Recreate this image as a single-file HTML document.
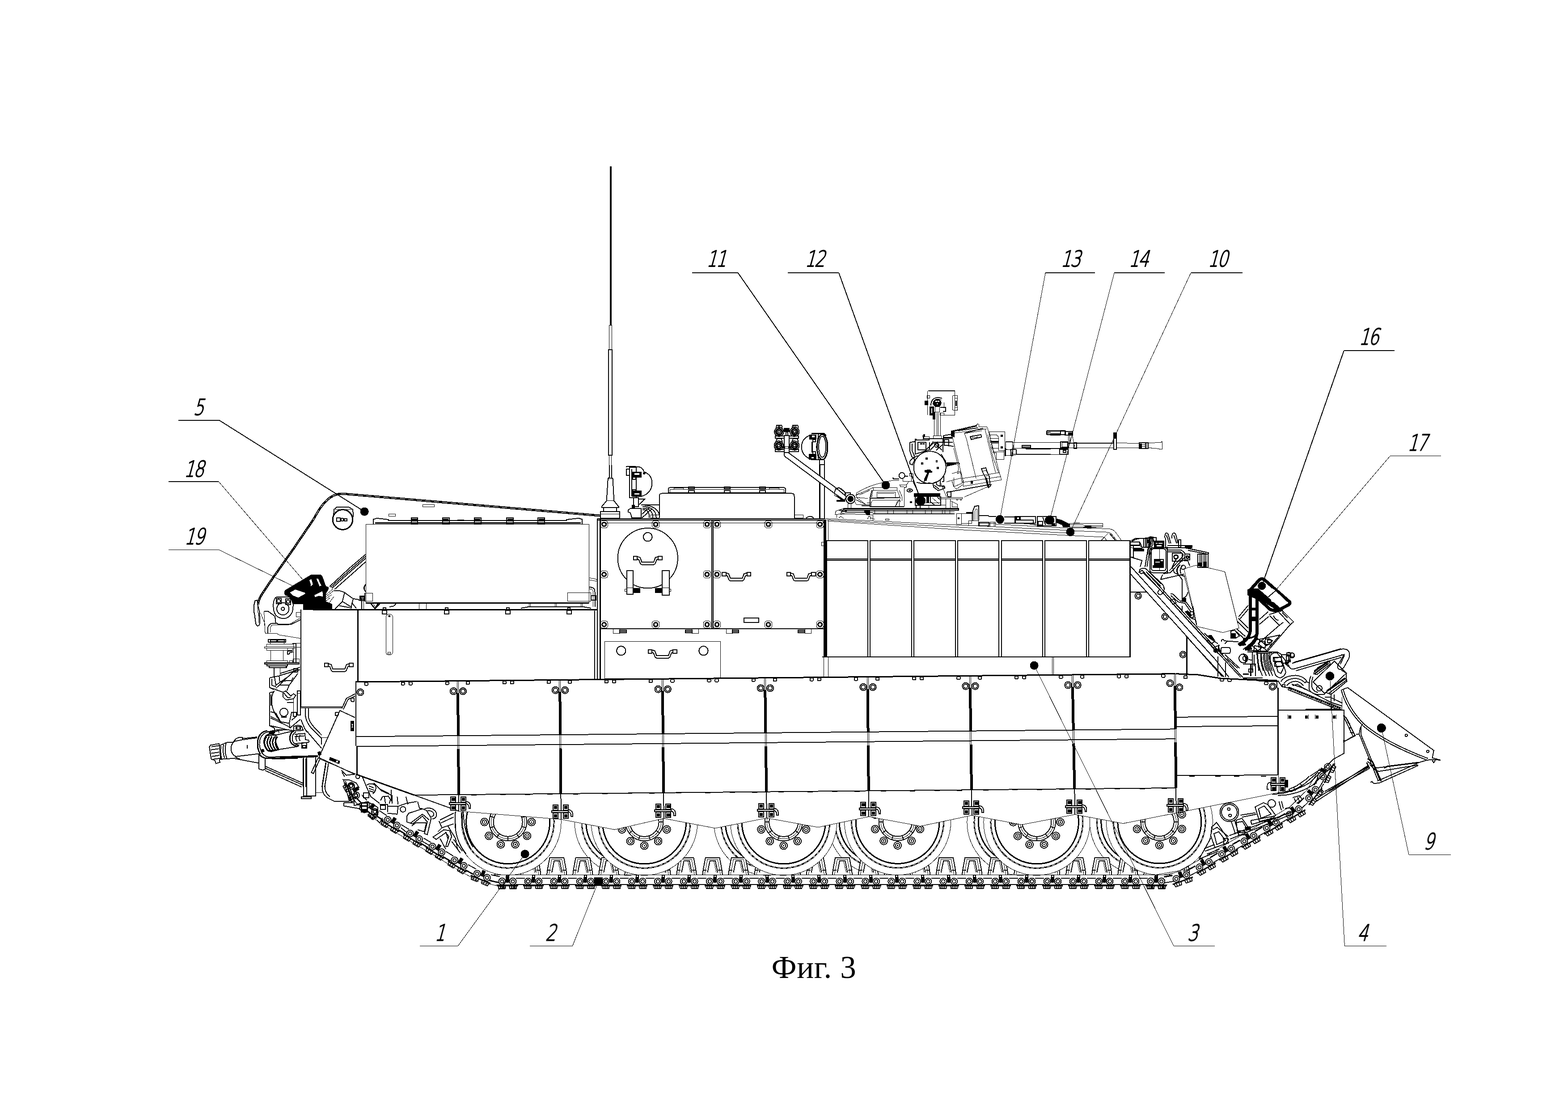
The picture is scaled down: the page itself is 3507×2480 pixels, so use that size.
<!DOCTYPE html>
<html lang="ru">
<head>
<meta charset="utf-8">
<title>Фиг. 3</title>
<style>
html,body{margin:0;padding:0;background:#fff;}
body{width:3507px;height:2480px;overflow:hidden;position:relative;}
svg{position:absolute;left:0;top:0;display:block;}
.g{shape-rendering:crispEdges;fill:none;stroke:#000;stroke-width:1;stroke-linejoin:miter;stroke-linecap:butt;}
.num{font-family:"DejaVu Sans","Liberation Sans",sans-serif;font-weight:200;font-size:49.5px;letter-spacing:-3px;fill:#000;stroke:#000;stroke-width:1.6px;vector-effect:non-scaling-stroke;stroke-linejoin:round;}
.cap{font-family:"Liberation Serif","DejaVu Serif",serif;font-size:71px;fill:#000;stroke:none;}
</style>
</head>
<body>
<svg width="3507" height="2480" viewBox="0 0 3507 2480">
<rect x="0" y="0" width="3507" height="2480" fill="#fff" stroke="none"/>
<g class="g">
<circle cx="1404.2" cy="1838.4" r="119"/>
<circle cx="1404.2" cy="1838.4" r="103" stroke-width="3"/>
<circle cx="1404.2" cy="1838.4" r="103" stroke="#fff" stroke-width="1" stroke-dasharray="7 5"/>
<circle cx="1404.2" cy="1838.4" r="93.5" stroke-width="3"/>
<circle cx="1715.7" cy="1838.4" r="119"/>
<circle cx="1715.7" cy="1838.4" r="103" stroke-width="3"/>
<circle cx="1715.7" cy="1838.4" r="103" stroke="#fff" stroke-width="1" stroke-dasharray="7 5"/>
<circle cx="1715.7" cy="1838.4" r="93.5" stroke-width="3"/>
<circle cx="1970.6" cy="1837.8" r="119"/>
<circle cx="1970.6" cy="1837.8" r="103" stroke-width="3"/>
<circle cx="1970.6" cy="1837.8" r="103" stroke="#fff" stroke-width="1" stroke-dasharray="7 5"/>
<circle cx="1970.6" cy="1837.8" r="93.5" stroke-width="3"/>
<circle cx="2281.9" cy="1838.4" r="119"/>
<circle cx="2281.9" cy="1838.4" r="103" stroke-width="3"/>
<circle cx="2281.9" cy="1838.4" r="103" stroke="#fff" stroke-width="1" stroke-dasharray="7 5"/>
<circle cx="2281.9" cy="1838.4" r="93.5" stroke-width="3"/>
<circle cx="2556.3" cy="1837.5" r="119"/>
<circle cx="2556.3" cy="1837.5" r="103" stroke-width="3"/>
<circle cx="2556.3" cy="1837.5" r="103" stroke="#fff" stroke-width="1" stroke-dasharray="7 5"/>
<circle cx="2556.3" cy="1837.5" r="93.5" stroke-width="3"/>
<path d="M1107 1956.4 1108.5 1944.4 1113.5 1917.9 1145 1917.9 1150 1944.4 1151.5 1956.4" stroke-width="2" fill="#fff"/>
<path d="M1111.5 1956.4 1118 1921.4 1140.5 1921.4 1147 1956.4"/>
<path d="M1118 1951.4 1123.5 1924.9 1135.5 1924.9 1141 1951.4" stroke-width="2"/>
<path d="M1132 1924.9 1138 1951.4"/>
<path d="M1108.5 1946.4 1116 1946.4" stroke-width="2"/>
<path d="M1142 1946.4 1150 1946.4" stroke-width="2"/>
<path d="M1165 1956.4 1166.5 1944.4 1171.5 1917.9 1203 1917.9 1208 1944.4 1209.5 1956.4" stroke-width="2" fill="#fff"/>
<path d="M1169.5 1956.4 1176 1921.4 1198.5 1921.4 1205 1956.4"/>
<path d="M1176 1951.4 1181.5 1924.9 1193.5 1924.9 1199 1951.4" stroke-width="2"/>
<path d="M1190 1924.9 1196 1951.4"/>
<path d="M1166.5 1946.4 1174 1946.4" stroke-width="2"/>
<path d="M1200 1946.4 1208 1946.4" stroke-width="2"/>
<path d="M1223.1 1956.4 1224.6 1944.4 1229.6 1917.9 1261.1 1917.9 1266.1 1944.4 1267.6 1956.4" stroke-width="2" fill="#fff"/>
<path d="M1227.6 1956.4 1234.1 1921.4 1256.6 1921.4 1263.1 1956.4"/>
<path d="M1234.1 1951.4 1239.6 1924.9 1251.6 1924.9 1257.1 1951.4" stroke-width="2"/>
<path d="M1248.1 1924.9 1254.1 1951.4"/>
<path d="M1224.6 1946.4 1232.1 1946.4" stroke-width="2"/>
<path d="M1258.1 1946.4 1266.1 1946.4" stroke-width="2"/>
<path d="M1281.2 1956.4 1282.7 1944.4 1287.7 1917.9 1319.2 1917.9 1324.2 1944.4 1325.7 1956.4" stroke-width="2" fill="#fff"/>
<path d="M1285.7 1956.4 1292.2 1921.4 1314.7 1921.4 1321.2 1956.4"/>
<path d="M1292.2 1951.4 1297.7 1924.9 1309.7 1924.9 1315.2 1951.4" stroke-width="2"/>
<path d="M1306.2 1924.9 1312.2 1951.4"/>
<path d="M1282.7 1946.4 1290.2 1946.4" stroke-width="2"/>
<path d="M1316.2 1946.4 1324.2 1946.4" stroke-width="2"/>
<path d="M1339.2 1956.4 1340.7 1944.4 1345.7 1917.9 1377.2 1917.9 1382.2 1944.4 1383.7 1956.4" stroke-width="2" fill="#fff"/>
<path d="M1343.7 1956.4 1350.2 1921.4 1372.7 1921.4 1379.2 1956.4"/>
<path d="M1350.2 1951.4 1355.7 1924.9 1367.7 1924.9 1373.2 1951.4" stroke-width="2"/>
<path d="M1364.2 1924.9 1370.2 1951.4"/>
<path d="M1340.7 1946.4 1348.2 1946.4" stroke-width="2"/>
<path d="M1374.2 1946.4 1382.2 1946.4" stroke-width="2"/>
<path d="M1397.2 1956.4 1398.8 1944.4 1403.8 1917.9 1435.2 1917.9 1440.2 1944.4 1441.8 1956.4" stroke-width="2" fill="#fff"/>
<path d="M1401.8 1956.4 1408.2 1921.4 1430.8 1921.4 1437.2 1956.4"/>
<path d="M1408.2 1951.4 1413.8 1924.9 1425.8 1924.9 1431.2 1951.4" stroke-width="2"/>
<path d="M1422.2 1924.9 1428.2 1951.4"/>
<path d="M1398.8 1946.4 1406.2 1946.4" stroke-width="2"/>
<path d="M1432.2 1946.4 1440.2 1946.4" stroke-width="2"/>
<path d="M1455.3 1956.4 1456.8 1944.4 1461.8 1917.9 1493.3 1917.9 1498.3 1944.4 1499.8 1956.4" stroke-width="2" fill="#fff"/>
<path d="M1459.8 1956.4 1466.3 1921.4 1488.8 1921.4 1495.3 1956.4"/>
<path d="M1466.3 1951.4 1471.8 1924.9 1483.8 1924.9 1489.3 1951.4" stroke-width="2"/>
<path d="M1480.3 1924.9 1486.3 1951.4"/>
<path d="M1456.8 1946.4 1464.3 1946.4" stroke-width="2"/>
<path d="M1490.3 1946.4 1498.3 1946.4" stroke-width="2"/>
<path d="M1513.3 1956.4 1514.8 1944.4 1519.8 1917.9 1551.3 1917.9 1556.3 1944.4 1557.8 1956.4" stroke-width="2" fill="#fff"/>
<path d="M1517.8 1956.4 1524.3 1921.4 1546.8 1921.4 1553.3 1956.4"/>
<path d="M1524.3 1951.4 1529.8 1924.9 1541.8 1924.9 1547.3 1951.4" stroke-width="2"/>
<path d="M1538.3 1924.9 1544.3 1951.4"/>
<path d="M1514.8 1946.4 1522.3 1946.4" stroke-width="2"/>
<path d="M1548.3 1946.4 1556.3 1946.4" stroke-width="2"/>
<path d="M1571.4 1956.4 1572.9 1944.4 1577.9 1917.9 1609.4 1917.9 1614.4 1944.4 1615.9 1956.4" stroke-width="2" fill="#fff"/>
<path d="M1575.9 1956.4 1582.4 1921.4 1604.9 1921.4 1611.4 1956.4"/>
<path d="M1582.4 1951.4 1587.9 1924.9 1599.9 1924.9 1605.4 1951.4" stroke-width="2"/>
<path d="M1596.4 1924.9 1602.4 1951.4"/>
<path d="M1572.9 1946.4 1580.4 1946.4" stroke-width="2"/>
<path d="M1606.4 1946.4 1614.4 1946.4" stroke-width="2"/>
<path d="M1629.4 1956.4 1630.9 1944.4 1635.9 1917.9 1667.4 1917.9 1672.4 1944.4 1673.9 1956.4" stroke-width="2" fill="#fff"/>
<path d="M1633.9 1956.4 1640.4 1921.4 1662.9 1921.4 1669.4 1956.4"/>
<path d="M1640.4 1951.4 1645.9 1924.9 1657.9 1924.9 1663.4 1951.4" stroke-width="2"/>
<path d="M1654.4 1924.9 1660.4 1951.4"/>
<path d="M1630.9 1946.4 1638.4 1946.4" stroke-width="2"/>
<path d="M1664.4 1946.4 1672.4 1946.4" stroke-width="2"/>
<path d="M1687.5 1956.4 1689 1944.4 1694 1917.9 1725.5 1917.9 1730.5 1944.4 1732 1956.4" stroke-width="2" fill="#fff"/>
<path d="M1692 1956.4 1698.5 1921.4 1721 1921.4 1727.5 1956.4"/>
<path d="M1698.5 1951.4 1704 1924.9 1716 1924.9 1721.5 1951.4" stroke-width="2"/>
<path d="M1712.5 1924.9 1718.5 1951.4"/>
<path d="M1689 1946.4 1696.5 1946.4" stroke-width="2"/>
<path d="M1722.5 1946.4 1730.5 1946.4" stroke-width="2"/>
<path d="M1745.5 1956.4 1747 1944.4 1752 1917.9 1783.5 1917.9 1788.5 1944.4 1790 1956.4" stroke-width="2" fill="#fff"/>
<path d="M1750 1956.4 1756.5 1921.4 1779 1921.4 1785.5 1956.4"/>
<path d="M1756.5 1951.4 1762 1924.9 1774 1924.9 1779.5 1951.4" stroke-width="2"/>
<path d="M1770.5 1924.9 1776.5 1951.4"/>
<path d="M1747 1946.4 1754.5 1946.4" stroke-width="2"/>
<path d="M1780.5 1946.4 1788.5 1946.4" stroke-width="2"/>
<path d="M1803.6 1956.4 1805.1 1944.4 1810.1 1917.9 1841.6 1917.9 1846.6 1944.4 1848.1 1956.4" stroke-width="2" fill="#fff"/>
<path d="M1808.1 1956.4 1814.6 1921.4 1837.1 1921.4 1843.6 1956.4"/>
<path d="M1814.6 1951.4 1820.1 1924.9 1832.1 1924.9 1837.6 1951.4" stroke-width="2"/>
<path d="M1828.6 1924.9 1834.6 1951.4"/>
<path d="M1805.1 1946.4 1812.6 1946.4" stroke-width="2"/>
<path d="M1838.6 1946.4 1846.6 1946.4" stroke-width="2"/>
<path d="M1861.7 1956.4 1863.2 1944.4 1868.2 1917.9 1899.7 1917.9 1904.7 1944.4 1906.2 1956.4" stroke-width="2" fill="#fff"/>
<path d="M1866.2 1956.4 1872.7 1921.4 1895.2 1921.4 1901.7 1956.4"/>
<path d="M1872.7 1951.4 1878.2 1924.9 1890.2 1924.9 1895.7 1951.4" stroke-width="2"/>
<path d="M1886.7 1924.9 1892.7 1951.4"/>
<path d="M1863.2 1946.4 1870.7 1946.4" stroke-width="2"/>
<path d="M1896.7 1946.4 1904.7 1946.4" stroke-width="2"/>
<path d="M1919.7 1956.4 1921.2 1944.4 1926.2 1917.9 1957.7 1917.9 1962.7 1944.4 1964.2 1956.4" stroke-width="2" fill="#fff"/>
<path d="M1924.2 1956.4 1930.7 1921.4 1953.2 1921.4 1959.7 1956.4"/>
<path d="M1930.7 1951.4 1936.2 1924.9 1948.2 1924.9 1953.7 1951.4" stroke-width="2"/>
<path d="M1944.7 1924.9 1950.7 1951.4"/>
<path d="M1921.2 1946.4 1928.7 1946.4" stroke-width="2"/>
<path d="M1954.7 1946.4 1962.7 1946.4" stroke-width="2"/>
<path d="M1977.8 1956.4 1979.2 1944.4 1984.2 1917.9 2015.8 1917.9 2020.8 1944.4 2022.2 1956.4" stroke-width="2" fill="#fff"/>
<path d="M1982.2 1956.4 1988.8 1921.4 2011.2 1921.4 2017.8 1956.4"/>
<path d="M1988.8 1951.4 1994.2 1924.9 2006.2 1924.9 2011.8 1951.4" stroke-width="2"/>
<path d="M2002.8 1924.9 2008.8 1951.4"/>
<path d="M1979.2 1946.4 1986.8 1946.4" stroke-width="2"/>
<path d="M2012.8 1946.4 2020.8 1946.4" stroke-width="2"/>
<path d="M2035.8 1956.4 2037.3 1944.4 2042.3 1917.9 2073.8 1917.9 2078.8 1944.4 2080.3 1956.4" stroke-width="2" fill="#fff"/>
<path d="M2040.3 1956.4 2046.8 1921.4 2069.3 1921.4 2075.8 1956.4"/>
<path d="M2046.8 1951.4 2052.3 1924.9 2064.3 1924.9 2069.8 1951.4" stroke-width="2"/>
<path d="M2060.8 1924.9 2066.8 1951.4"/>
<path d="M2037.3 1946.4 2044.8 1946.4" stroke-width="2"/>
<path d="M2070.8 1946.4 2078.8 1946.4" stroke-width="2"/>
<path d="M2093.8 1956.4 2095.3 1944.4 2100.3 1917.9 2131.8 1917.9 2136.8 1944.4 2138.3 1956.4" stroke-width="2" fill="#fff"/>
<path d="M2098.3 1956.4 2104.8 1921.4 2127.3 1921.4 2133.8 1956.4"/>
<path d="M2104.8 1951.4 2110.3 1924.9 2122.3 1924.9 2127.8 1951.4" stroke-width="2"/>
<path d="M2118.8 1924.9 2124.8 1951.4"/>
<path d="M2095.3 1946.4 2102.8 1946.4" stroke-width="2"/>
<path d="M2128.8 1946.4 2136.8 1946.4" stroke-width="2"/>
<path d="M2151.9 1956.4 2153.4 1944.4 2158.4 1917.9 2189.9 1917.9 2194.9 1944.4 2196.4 1956.4" stroke-width="2" fill="#fff"/>
<path d="M2156.4 1956.4 2162.9 1921.4 2185.4 1921.4 2191.9 1956.4"/>
<path d="M2162.9 1951.4 2168.4 1924.9 2180.4 1924.9 2185.9 1951.4" stroke-width="2"/>
<path d="M2176.9 1924.9 2182.9 1951.4"/>
<path d="M2153.4 1946.4 2160.9 1946.4" stroke-width="2"/>
<path d="M2186.9 1946.4 2194.9 1946.4" stroke-width="2"/>
<path d="M2209.9 1956.4 2211.4 1944.4 2216.4 1917.9 2247.9 1917.9 2252.9 1944.4 2254.4 1956.4" stroke-width="2" fill="#fff"/>
<path d="M2214.4 1956.4 2220.9 1921.4 2243.4 1921.4 2249.9 1956.4"/>
<path d="M2220.9 1951.4 2226.4 1924.9 2238.4 1924.9 2243.9 1951.4" stroke-width="2"/>
<path d="M2234.9 1924.9 2240.9 1951.4"/>
<path d="M2211.4 1946.4 2218.9 1946.4" stroke-width="2"/>
<path d="M2244.9 1946.4 2252.9 1946.4" stroke-width="2"/>
<path d="M2268 1956.4 2269.5 1944.4 2274.5 1917.9 2306 1917.9 2311 1944.4 2312.5 1956.4" stroke-width="2" fill="#fff"/>
<path d="M2272.5 1956.4 2279 1921.4 2301.5 1921.4 2308 1956.4"/>
<path d="M2279 1951.4 2284.5 1924.9 2296.5 1924.9 2302 1951.4" stroke-width="2"/>
<path d="M2293 1924.9 2299 1951.4"/>
<path d="M2269.5 1946.4 2277 1946.4" stroke-width="2"/>
<path d="M2303 1946.4 2311 1946.4" stroke-width="2"/>
<path d="M2326.1 1956.4 2327.6 1944.4 2332.6 1917.9 2364.1 1917.9 2369.1 1944.4 2370.6 1956.4" stroke-width="2" fill="#fff"/>
<path d="M2330.6 1956.4 2337.1 1921.4 2359.6 1921.4 2366.1 1956.4"/>
<path d="M2337.1 1951.4 2342.6 1924.9 2354.6 1924.9 2360.1 1951.4" stroke-width="2"/>
<path d="M2351.1 1924.9 2357.1 1951.4"/>
<path d="M2327.6 1946.4 2335.1 1946.4" stroke-width="2"/>
<path d="M2361.1 1946.4 2369.1 1946.4" stroke-width="2"/>
<path d="M2384.1 1956.4 2385.6 1944.4 2390.6 1917.9 2422.1 1917.9 2427.1 1944.4 2428.6 1956.4" stroke-width="2" fill="#fff"/>
<path d="M2388.6 1956.4 2395.1 1921.4 2417.6 1921.4 2424.1 1956.4"/>
<path d="M2395.1 1951.4 2400.6 1924.9 2412.6 1924.9 2418.1 1951.4" stroke-width="2"/>
<path d="M2409.1 1924.9 2415.1 1951.4"/>
<path d="M2385.6 1946.4 2393.1 1946.4" stroke-width="2"/>
<path d="M2419.1 1946.4 2427.1 1946.4" stroke-width="2"/>
<path d="M2442.1 1956.4 2443.6 1944.4 2448.6 1917.9 2480.1 1917.9 2485.1 1944.4 2486.6 1956.4" stroke-width="2" fill="#fff"/>
<path d="M2446.6 1956.4 2453.1 1921.4 2475.6 1921.4 2482.1 1956.4"/>
<path d="M2453.1 1951.4 2458.6 1924.9 2470.6 1924.9 2476.1 1951.4" stroke-width="2"/>
<path d="M2467.1 1924.9 2473.1 1951.4"/>
<path d="M2443.6 1946.4 2451.1 1946.4" stroke-width="2"/>
<path d="M2477.1 1946.4 2485.1 1946.4" stroke-width="2"/>
<path d="M2500.2 1956.4 2501.7 1944.4 2506.7 1917.9 2538.2 1917.9 2543.2 1944.4 2544.7 1956.4" stroke-width="2" fill="#fff"/>
<path d="M2504.7 1956.4 2511.2 1921.4 2533.7 1921.4 2540.2 1956.4"/>
<path d="M2511.2 1951.4 2516.7 1924.9 2528.7 1924.9 2534.2 1951.4" stroke-width="2"/>
<path d="M2525.2 1924.9 2531.2 1951.4"/>
<path d="M2501.7 1946.4 2509.2 1946.4" stroke-width="2"/>
<path d="M2535.2 1946.4 2543.2 1946.4" stroke-width="2"/>
<path d="M2558.2 1956.4 2559.8 1944.4 2564.8 1917.9 2596.2 1917.9 2601.2 1944.4 2602.8 1956.4" stroke-width="2" fill="#fff"/>
<path d="M2562.8 1956.4 2569.2 1921.4 2591.8 1921.4 2598.2 1956.4"/>
<path d="M2569.2 1951.4 2574.8 1924.9 2586.8 1924.9 2592.2 1951.4" stroke-width="2"/>
<path d="M2583.2 1924.9 2589.2 1951.4"/>
<path d="M2559.8 1946.4 2567.2 1946.4" stroke-width="2"/>
<path d="M2593.2 1946.4 2601.2 1946.4" stroke-width="2"/>
<path d="M2616.3 1956.4 2617.8 1944.4 2622.8 1917.9 2654.3 1917.9 2659.3 1944.4 2660.8 1956.4" stroke-width="2" fill="#fff"/>
<path d="M2620.8 1956.4 2627.3 1921.4 2649.8 1921.4 2656.3 1956.4"/>
<path d="M2627.3 1951.4 2632.8 1924.9 2644.8 1924.9 2650.3 1951.4" stroke-width="2"/>
<path d="M2641.3 1924.9 2647.3 1951.4"/>
<path d="M2617.8 1946.4 2625.3 1946.4" stroke-width="2"/>
<path d="M2651.3 1946.4 2659.3 1946.4" stroke-width="2"/>
<circle cx="1136.2" cy="1838.2" r="119" fill="#fff"/>
<circle cx="1136.2" cy="1838.2" r="103" stroke-width="3"/>
<circle cx="1136.2" cy="1838.2" r="103" stroke="#fff" stroke-width="1" stroke-dasharray="7 5"/>
<circle cx="1136.2" cy="1838.2" r="93.5" stroke-width="3"/>
<circle cx="1136.2" cy="1838.2" r="42" stroke-width="2"/>
<circle cx="1136.2" cy="1838.2" r="37.5"/>
<circle cx="1136.2" cy="1838.2" r="32.5" stroke-width="2"/>
<path d="M1155.6 1864.9 1160.9 1872.2" stroke-width="2"/>
<path d="M1167.6 1848.4 1176.1 1851.2" stroke-width="2"/>
<path d="M1167.6 1828 1176.1 1825.2" stroke-width="2"/>
<path d="M1155.6 1811.5 1160.9 1804.2" stroke-width="2"/>
<path d="M1136.2 1805.2 1136.2 1796.2" stroke-width="2"/>
<path d="M1116.8 1811.5 1111.5 1804.2" stroke-width="2"/>
<path d="M1104.8 1828 1096.3 1825.2" stroke-width="2"/>
<path d="M1104.8 1848.4 1096.3 1851.2" stroke-width="2"/>
<path d="M1116.8 1864.9 1111.5 1872.2" stroke-width="2"/>
<path d="M1136.2 1871.2 1136.2 1880.2" stroke-width="2"/>
<circle cx="1152.5" cy="1888.3" r="8.4" stroke-width="2"/>
<circle cx="1152.5" cy="1888.3" r="4.8" stroke-width="2"/>
<circle cx="1152.5" cy="1888.3" r="1.6" stroke="none" fill="#000"/>
<circle cx="1178.8" cy="1869.2" r="8.4" stroke-width="2"/>
<circle cx="1178.8" cy="1869.2" r="4.8" stroke-width="2"/>
<circle cx="1178.8" cy="1869.2" r="1.6" stroke="none" fill="#000"/>
<circle cx="1188.9" cy="1838.2" r="8.4" stroke-width="2"/>
<circle cx="1188.9" cy="1838.2" r="4.8" stroke-width="2"/>
<circle cx="1188.9" cy="1838.2" r="1.6" stroke="none" fill="#000"/>
<circle cx="1178.8" cy="1807.2" r="8.4" stroke-width="2"/>
<circle cx="1178.8" cy="1807.2" r="4.8" stroke-width="2"/>
<circle cx="1178.8" cy="1807.2" r="1.6" stroke="none" fill="#000"/>
<circle cx="1152.5" cy="1788.1" r="8.4" stroke-width="2"/>
<circle cx="1152.5" cy="1788.1" r="4.8" stroke-width="2"/>
<circle cx="1152.5" cy="1788.1" r="1.6" stroke="none" fill="#000"/>
<circle cx="1119.9" cy="1788.1" r="8.4" stroke-width="2"/>
<circle cx="1119.9" cy="1788.1" r="4.8" stroke-width="2"/>
<circle cx="1119.9" cy="1788.1" r="1.6" stroke="none" fill="#000"/>
<circle cx="1093.6" cy="1807.2" r="8.4" stroke-width="2"/>
<circle cx="1093.6" cy="1807.2" r="4.8" stroke-width="2"/>
<circle cx="1093.6" cy="1807.2" r="1.6" stroke="none" fill="#000"/>
<circle cx="1083.5" cy="1838.2" r="8.4" stroke-width="2"/>
<circle cx="1083.5" cy="1838.2" r="4.8" stroke-width="2"/>
<circle cx="1083.5" cy="1838.2" r="1.6" stroke="none" fill="#000"/>
<circle cx="1093.6" cy="1869.2" r="8.4" stroke-width="2"/>
<circle cx="1093.6" cy="1869.2" r="4.8" stroke-width="2"/>
<circle cx="1093.6" cy="1869.2" r="1.6" stroke="none" fill="#000"/>
<circle cx="1119.9" cy="1888.3" r="8.4" stroke-width="2"/>
<circle cx="1119.9" cy="1888.3" r="4.8" stroke-width="2"/>
<circle cx="1119.9" cy="1888.3" r="1.6" stroke="none" fill="#000"/>
<circle cx="1441.2" cy="1838.4" r="119" fill="#fff"/>
<circle cx="1441.2" cy="1838.4" r="103" stroke-width="3"/>
<circle cx="1441.2" cy="1838.4" r="103" stroke="#fff" stroke-width="1" stroke-dasharray="7 5"/>
<circle cx="1441.2" cy="1838.4" r="93.5" stroke-width="3"/>
<circle cx="1441.2" cy="1838.4" r="42" stroke-width="2"/>
<circle cx="1441.2" cy="1838.4" r="37.5"/>
<circle cx="1441.2" cy="1838.4" r="32.5" stroke-width="2"/>
<path d="M1451.4 1869.8 1454.2 1878.3" stroke-width="2"/>
<path d="M1467.9 1857.8 1475.2 1863.1" stroke-width="2"/>
<path d="M1474.2 1838.4 1483.2 1838.4" stroke-width="2"/>
<path d="M1467.9 1819 1475.2 1813.7" stroke-width="2"/>
<path d="M1451.4 1807 1454.2 1798.5" stroke-width="2"/>
<path d="M1431 1807 1428.2 1798.5" stroke-width="2"/>
<path d="M1414.5 1819 1407.2 1813.7" stroke-width="2"/>
<path d="M1408.2 1838.4 1399.2 1838.4" stroke-width="2"/>
<path d="M1414.5 1857.8 1407.2 1863.1" stroke-width="2"/>
<path d="M1431 1869.8 1428.2 1878.3" stroke-width="2"/>
<circle cx="1441.2" cy="1891.1" r="8.4" stroke-width="2"/>
<circle cx="1441.2" cy="1891.1" r="4.8" stroke-width="2"/>
<circle cx="1441.2" cy="1891.1" r="1.6" stroke="none" fill="#000"/>
<circle cx="1472.2" cy="1881" r="8.4" stroke-width="2"/>
<circle cx="1472.2" cy="1881" r="4.8" stroke-width="2"/>
<circle cx="1472.2" cy="1881" r="1.6" stroke="none" fill="#000"/>
<circle cx="1491.3" cy="1854.7" r="8.4" stroke-width="2"/>
<circle cx="1491.3" cy="1854.7" r="4.8" stroke-width="2"/>
<circle cx="1491.3" cy="1854.7" r="1.6" stroke="none" fill="#000"/>
<circle cx="1491.3" cy="1822.1" r="8.4" stroke-width="2"/>
<circle cx="1491.3" cy="1822.1" r="4.8" stroke-width="2"/>
<circle cx="1491.3" cy="1822.1" r="1.6" stroke="none" fill="#000"/>
<circle cx="1472.2" cy="1795.8" r="8.4" stroke-width="2"/>
<circle cx="1472.2" cy="1795.8" r="4.8" stroke-width="2"/>
<circle cx="1472.2" cy="1795.8" r="1.6" stroke="none" fill="#000"/>
<circle cx="1441.2" cy="1785.7" r="8.4" stroke-width="2"/>
<circle cx="1441.2" cy="1785.7" r="4.8" stroke-width="2"/>
<circle cx="1441.2" cy="1785.7" r="1.6" stroke="none" fill="#000"/>
<circle cx="1410.2" cy="1795.8" r="8.4" stroke-width="2"/>
<circle cx="1410.2" cy="1795.8" r="4.8" stroke-width="2"/>
<circle cx="1410.2" cy="1795.8" r="1.6" stroke="none" fill="#000"/>
<circle cx="1391.1" cy="1822.1" r="8.4" stroke-width="2"/>
<circle cx="1391.1" cy="1822.1" r="4.8" stroke-width="2"/>
<circle cx="1391.1" cy="1822.1" r="1.6" stroke="none" fill="#000"/>
<circle cx="1391.1" cy="1854.7" r="8.4" stroke-width="2"/>
<circle cx="1391.1" cy="1854.7" r="4.8" stroke-width="2"/>
<circle cx="1391.1" cy="1854.7" r="1.6" stroke="none" fill="#000"/>
<circle cx="1410.2" cy="1881" r="8.4" stroke-width="2"/>
<circle cx="1410.2" cy="1881" r="4.8" stroke-width="2"/>
<circle cx="1410.2" cy="1881" r="1.6" stroke="none" fill="#000"/>
<circle cx="1752.7" cy="1838.4" r="119" fill="#fff"/>
<circle cx="1752.7" cy="1838.4" r="103" stroke-width="3"/>
<circle cx="1752.7" cy="1838.4" r="103" stroke="#fff" stroke-width="1" stroke-dasharray="7 5"/>
<circle cx="1752.7" cy="1838.4" r="93.5" stroke-width="3"/>
<circle cx="1752.7" cy="1838.4" r="42" stroke-width="2"/>
<circle cx="1752.7" cy="1838.4" r="37.5"/>
<circle cx="1752.7" cy="1838.4" r="32.5" stroke-width="2"/>
<path d="M1762.9 1869.8 1765.7 1878.3" stroke-width="2"/>
<path d="M1779.4 1857.8 1786.7 1863.1" stroke-width="2"/>
<path d="M1785.7 1838.4 1794.7 1838.4" stroke-width="2"/>
<path d="M1779.4 1819 1786.7 1813.7" stroke-width="2"/>
<path d="M1762.9 1807 1765.7 1798.5" stroke-width="2"/>
<path d="M1742.5 1807 1739.7 1798.5" stroke-width="2"/>
<path d="M1726 1819 1718.7 1813.7" stroke-width="2"/>
<path d="M1719.7 1838.4 1710.7 1838.4" stroke-width="2"/>
<path d="M1726 1857.8 1718.7 1863.1" stroke-width="2"/>
<path d="M1742.5 1869.8 1739.7 1878.3" stroke-width="2"/>
<circle cx="1752.7" cy="1891.1" r="8.4" stroke-width="2"/>
<circle cx="1752.7" cy="1891.1" r="4.8" stroke-width="2"/>
<circle cx="1752.7" cy="1891.1" r="1.6" stroke="none" fill="#000"/>
<circle cx="1783.7" cy="1881" r="8.4" stroke-width="2"/>
<circle cx="1783.7" cy="1881" r="4.8" stroke-width="2"/>
<circle cx="1783.7" cy="1881" r="1.6" stroke="none" fill="#000"/>
<circle cx="1802.8" cy="1854.7" r="8.4" stroke-width="2"/>
<circle cx="1802.8" cy="1854.7" r="4.8" stroke-width="2"/>
<circle cx="1802.8" cy="1854.7" r="1.6" stroke="none" fill="#000"/>
<circle cx="1802.8" cy="1822.1" r="8.4" stroke-width="2"/>
<circle cx="1802.8" cy="1822.1" r="4.8" stroke-width="2"/>
<circle cx="1802.8" cy="1822.1" r="1.6" stroke="none" fill="#000"/>
<circle cx="1783.7" cy="1795.8" r="8.4" stroke-width="2"/>
<circle cx="1783.7" cy="1795.8" r="4.8" stroke-width="2"/>
<circle cx="1783.7" cy="1795.8" r="1.6" stroke="none" fill="#000"/>
<circle cx="1752.7" cy="1785.7" r="8.4" stroke-width="2"/>
<circle cx="1752.7" cy="1785.7" r="4.8" stroke-width="2"/>
<circle cx="1752.7" cy="1785.7" r="1.6" stroke="none" fill="#000"/>
<circle cx="1721.7" cy="1795.8" r="8.4" stroke-width="2"/>
<circle cx="1721.7" cy="1795.8" r="4.8" stroke-width="2"/>
<circle cx="1721.7" cy="1795.8" r="1.6" stroke="none" fill="#000"/>
<circle cx="1702.6" cy="1822.1" r="8.4" stroke-width="2"/>
<circle cx="1702.6" cy="1822.1" r="4.8" stroke-width="2"/>
<circle cx="1702.6" cy="1822.1" r="1.6" stroke="none" fill="#000"/>
<circle cx="1702.6" cy="1854.7" r="8.4" stroke-width="2"/>
<circle cx="1702.6" cy="1854.7" r="4.8" stroke-width="2"/>
<circle cx="1702.6" cy="1854.7" r="1.6" stroke="none" fill="#000"/>
<circle cx="1721.7" cy="1881" r="8.4" stroke-width="2"/>
<circle cx="1721.7" cy="1881" r="4.8" stroke-width="2"/>
<circle cx="1721.7" cy="1881" r="1.6" stroke="none" fill="#000"/>
<circle cx="2007.6" cy="1837.8" r="119" fill="#fff"/>
<circle cx="2007.6" cy="1837.8" r="103" stroke-width="3"/>
<circle cx="2007.6" cy="1837.8" r="103" stroke="#fff" stroke-width="1" stroke-dasharray="7 5"/>
<circle cx="2007.6" cy="1837.8" r="93.5" stroke-width="3"/>
<circle cx="2007.6" cy="1837.8" r="42" stroke-width="2"/>
<circle cx="2007.6" cy="1837.8" r="37.5"/>
<circle cx="2007.6" cy="1837.8" r="32.5" stroke-width="2"/>
<path d="M2017.8 1869.2 2020.6 1877.7" stroke-width="2"/>
<path d="M2034.3 1857.2 2041.6 1862.5" stroke-width="2"/>
<path d="M2040.6 1837.8 2049.6 1837.8" stroke-width="2"/>
<path d="M2034.3 1818.4 2041.6 1813.1" stroke-width="2"/>
<path d="M2017.8 1806.4 2020.6 1797.9" stroke-width="2"/>
<path d="M1997.4 1806.4 1994.6 1797.9" stroke-width="2"/>
<path d="M1980.9 1818.4 1973.6 1813.1" stroke-width="2"/>
<path d="M1974.6 1837.8 1965.6 1837.8" stroke-width="2"/>
<path d="M1980.9 1857.2 1973.6 1862.5" stroke-width="2"/>
<path d="M1997.4 1869.2 1994.6 1877.7" stroke-width="2"/>
<circle cx="2007.6" cy="1890.5" r="8.4" stroke-width="2"/>
<circle cx="2007.6" cy="1890.5" r="4.8" stroke-width="2"/>
<circle cx="2007.6" cy="1890.5" r="1.6" stroke="none" fill="#000"/>
<circle cx="2038.6" cy="1880.4" r="8.4" stroke-width="2"/>
<circle cx="2038.6" cy="1880.4" r="4.8" stroke-width="2"/>
<circle cx="2038.6" cy="1880.4" r="1.6" stroke="none" fill="#000"/>
<circle cx="2057.7" cy="1854.1" r="8.4" stroke-width="2"/>
<circle cx="2057.7" cy="1854.1" r="4.8" stroke-width="2"/>
<circle cx="2057.7" cy="1854.1" r="1.6" stroke="none" fill="#000"/>
<circle cx="2057.7" cy="1821.5" r="8.4" stroke-width="2"/>
<circle cx="2057.7" cy="1821.5" r="4.8" stroke-width="2"/>
<circle cx="2057.7" cy="1821.5" r="1.6" stroke="none" fill="#000"/>
<circle cx="2038.6" cy="1795.2" r="8.4" stroke-width="2"/>
<circle cx="2038.6" cy="1795.2" r="4.8" stroke-width="2"/>
<circle cx="2038.6" cy="1795.2" r="1.6" stroke="none" fill="#000"/>
<circle cx="2007.6" cy="1785.1" r="8.4" stroke-width="2"/>
<circle cx="2007.6" cy="1785.1" r="4.8" stroke-width="2"/>
<circle cx="2007.6" cy="1785.1" r="1.6" stroke="none" fill="#000"/>
<circle cx="1976.6" cy="1795.2" r="8.4" stroke-width="2"/>
<circle cx="1976.6" cy="1795.2" r="4.8" stroke-width="2"/>
<circle cx="1976.6" cy="1795.2" r="1.6" stroke="none" fill="#000"/>
<circle cx="1957.5" cy="1821.5" r="8.4" stroke-width="2"/>
<circle cx="1957.5" cy="1821.5" r="4.8" stroke-width="2"/>
<circle cx="1957.5" cy="1821.5" r="1.6" stroke="none" fill="#000"/>
<circle cx="1957.5" cy="1854.1" r="8.4" stroke-width="2"/>
<circle cx="1957.5" cy="1854.1" r="4.8" stroke-width="2"/>
<circle cx="1957.5" cy="1854.1" r="1.6" stroke="none" fill="#000"/>
<circle cx="1976.6" cy="1880.4" r="8.4" stroke-width="2"/>
<circle cx="1976.6" cy="1880.4" r="4.8" stroke-width="2"/>
<circle cx="1976.6" cy="1880.4" r="1.6" stroke="none" fill="#000"/>
<circle cx="2318.9" cy="1838.4" r="119" fill="#fff"/>
<circle cx="2318.9" cy="1838.4" r="103" stroke-width="3"/>
<circle cx="2318.9" cy="1838.4" r="103" stroke="#fff" stroke-width="1" stroke-dasharray="7 5"/>
<circle cx="2318.9" cy="1838.4" r="93.5" stroke-width="3"/>
<circle cx="2318.9" cy="1838.4" r="42" stroke-width="2"/>
<circle cx="2318.9" cy="1838.4" r="37.5"/>
<circle cx="2318.9" cy="1838.4" r="32.5" stroke-width="2"/>
<path d="M2338.3 1865.1 2343.6 1872.4" stroke-width="2"/>
<path d="M2350.3 1848.6 2358.8 1851.4" stroke-width="2"/>
<path d="M2350.3 1828.2 2358.8 1825.4" stroke-width="2"/>
<path d="M2338.3 1811.7 2343.6 1804.4" stroke-width="2"/>
<path d="M2318.9 1805.4 2318.9 1796.4" stroke-width="2"/>
<path d="M2299.5 1811.7 2294.2 1804.4" stroke-width="2"/>
<path d="M2287.5 1828.2 2279 1825.4" stroke-width="2"/>
<path d="M2287.5 1848.6 2279 1851.4" stroke-width="2"/>
<path d="M2299.5 1865.1 2294.2 1872.4" stroke-width="2"/>
<path d="M2318.9 1871.4 2318.9 1880.4" stroke-width="2"/>
<circle cx="2335.2" cy="1888.5" r="8.4" stroke-width="2"/>
<circle cx="2335.2" cy="1888.5" r="4.8" stroke-width="2"/>
<circle cx="2335.2" cy="1888.5" r="1.6" stroke="none" fill="#000"/>
<circle cx="2361.5" cy="1869.4" r="8.4" stroke-width="2"/>
<circle cx="2361.5" cy="1869.4" r="4.8" stroke-width="2"/>
<circle cx="2361.5" cy="1869.4" r="1.6" stroke="none" fill="#000"/>
<circle cx="2371.6" cy="1838.4" r="8.4" stroke-width="2"/>
<circle cx="2371.6" cy="1838.4" r="4.8" stroke-width="2"/>
<circle cx="2371.6" cy="1838.4" r="1.6" stroke="none" fill="#000"/>
<circle cx="2361.5" cy="1807.4" r="8.4" stroke-width="2"/>
<circle cx="2361.5" cy="1807.4" r="4.8" stroke-width="2"/>
<circle cx="2361.5" cy="1807.4" r="1.6" stroke="none" fill="#000"/>
<circle cx="2335.2" cy="1788.3" r="8.4" stroke-width="2"/>
<circle cx="2335.2" cy="1788.3" r="4.8" stroke-width="2"/>
<circle cx="2335.2" cy="1788.3" r="1.6" stroke="none" fill="#000"/>
<circle cx="2302.6" cy="1788.3" r="8.4" stroke-width="2"/>
<circle cx="2302.6" cy="1788.3" r="4.8" stroke-width="2"/>
<circle cx="2302.6" cy="1788.3" r="1.6" stroke="none" fill="#000"/>
<circle cx="2276.3" cy="1807.4" r="8.4" stroke-width="2"/>
<circle cx="2276.3" cy="1807.4" r="4.8" stroke-width="2"/>
<circle cx="2276.3" cy="1807.4" r="1.6" stroke="none" fill="#000"/>
<circle cx="2266.2" cy="1838.4" r="8.4" stroke-width="2"/>
<circle cx="2266.2" cy="1838.4" r="4.8" stroke-width="2"/>
<circle cx="2266.2" cy="1838.4" r="1.6" stroke="none" fill="#000"/>
<circle cx="2276.3" cy="1869.4" r="8.4" stroke-width="2"/>
<circle cx="2276.3" cy="1869.4" r="4.8" stroke-width="2"/>
<circle cx="2276.3" cy="1869.4" r="1.6" stroke="none" fill="#000"/>
<circle cx="2302.6" cy="1888.5" r="8.4" stroke-width="2"/>
<circle cx="2302.6" cy="1888.5" r="4.8" stroke-width="2"/>
<circle cx="2302.6" cy="1888.5" r="1.6" stroke="none" fill="#000"/>
<circle cx="2593.3" cy="1837.5" r="119" fill="#fff"/>
<circle cx="2593.3" cy="1837.5" r="103" stroke-width="3"/>
<circle cx="2593.3" cy="1837.5" r="103" stroke="#fff" stroke-width="1" stroke-dasharray="7 5"/>
<circle cx="2593.3" cy="1837.5" r="93.5" stroke-width="3"/>
<circle cx="2593.3" cy="1837.5" r="42" stroke-width="2"/>
<circle cx="2593.3" cy="1837.5" r="37.5"/>
<circle cx="2593.3" cy="1837.5" r="32.5" stroke-width="2"/>
<path d="M2603.5 1868.9 2606.3 1877.4" stroke-width="2"/>
<path d="M2620 1856.9 2627.3 1862.2" stroke-width="2"/>
<path d="M2626.3 1837.5 2635.3 1837.5" stroke-width="2"/>
<path d="M2620 1818.1 2627.3 1812.8" stroke-width="2"/>
<path d="M2603.5 1806.1 2606.3 1797.6" stroke-width="2"/>
<path d="M2583.1 1806.1 2580.3 1797.6" stroke-width="2"/>
<path d="M2566.6 1818.1 2559.3 1812.8" stroke-width="2"/>
<path d="M2560.3 1837.5 2551.3 1837.5" stroke-width="2"/>
<path d="M2566.6 1856.9 2559.3 1862.2" stroke-width="2"/>
<path d="M2583.1 1868.9 2580.3 1877.4" stroke-width="2"/>
<circle cx="2593.3" cy="1890.2" r="8.4" stroke-width="2"/>
<circle cx="2593.3" cy="1890.2" r="4.8" stroke-width="2"/>
<circle cx="2593.3" cy="1890.2" r="1.6" stroke="none" fill="#000"/>
<circle cx="2624.3" cy="1880.1" r="8.4" stroke-width="2"/>
<circle cx="2624.3" cy="1880.1" r="4.8" stroke-width="2"/>
<circle cx="2624.3" cy="1880.1" r="1.6" stroke="none" fill="#000"/>
<circle cx="2643.4" cy="1853.8" r="8.4" stroke-width="2"/>
<circle cx="2643.4" cy="1853.8" r="4.8" stroke-width="2"/>
<circle cx="2643.4" cy="1853.8" r="1.6" stroke="none" fill="#000"/>
<circle cx="2643.4" cy="1821.2" r="8.4" stroke-width="2"/>
<circle cx="2643.4" cy="1821.2" r="4.8" stroke-width="2"/>
<circle cx="2643.4" cy="1821.2" r="1.6" stroke="none" fill="#000"/>
<circle cx="2624.3" cy="1794.9" r="8.4" stroke-width="2"/>
<circle cx="2624.3" cy="1794.9" r="4.8" stroke-width="2"/>
<circle cx="2624.3" cy="1794.9" r="1.6" stroke="none" fill="#000"/>
<circle cx="2593.3" cy="1784.8" r="8.4" stroke-width="2"/>
<circle cx="2593.3" cy="1784.8" r="4.8" stroke-width="2"/>
<circle cx="2593.3" cy="1784.8" r="1.6" stroke="none" fill="#000"/>
<circle cx="2562.3" cy="1794.9" r="8.4" stroke-width="2"/>
<circle cx="2562.3" cy="1794.9" r="4.8" stroke-width="2"/>
<circle cx="2562.3" cy="1794.9" r="1.6" stroke="none" fill="#000"/>
<circle cx="2543.2" cy="1821.2" r="8.4" stroke-width="2"/>
<circle cx="2543.2" cy="1821.2" r="4.8" stroke-width="2"/>
<circle cx="2543.2" cy="1821.2" r="1.6" stroke="none" fill="#000"/>
<circle cx="2543.2" cy="1853.8" r="8.4" stroke-width="2"/>
<circle cx="2543.2" cy="1853.8" r="4.8" stroke-width="2"/>
<circle cx="2543.2" cy="1853.8" r="1.6" stroke="none" fill="#000"/>
<circle cx="2562.3" cy="1880.1" r="8.4" stroke-width="2"/>
<circle cx="2562.3" cy="1880.1" r="4.8" stroke-width="2"/>
<circle cx="2562.3" cy="1880.1" r="1.6" stroke="none" fill="#000"/>
<defs><g id="lk"><circle cx="-12" cy="0" r="7.4" stroke-width="2" fill="#fff"/><circle cx="-12" cy="0" r="3.8" stroke-width="2"/><circle cx="12" cy="0" r="7.4" stroke-width="2" fill="#fff"/><circle cx="12" cy="0" r="3.8" stroke-width="2"/><rect x="-2.5" y="-14.5" width="5" height="5.5" stroke-width="2"/><rect x="-3.5" y="-9" width="7" height="6" fill="#000"/><rect x="-2" y="-2.5" width="4" height="4.5" stroke-width="2"/><path d="M-4.5 0 4.5 0" stroke-width="2"/><path d="M-25 7 25 7"/><path d="M-23 9 23 9" stroke-width="3"/><path d="M-21 9 -19.5 16 -5.5 16 -4 9" stroke-width="2"/><path d="M-16.5 10.5 -16.5 16" stroke-width="2"/><path d="M-12.5 10.5 -12.5 16" stroke-width="2"/><path d="M-8.5 10.5 -8.5 16" stroke-width="2"/><path d="M4 9 5.5 16 19.5 16 21 9" stroke-width="2"/><path d="M8.5 10.5 8.5 16" stroke-width="2"/><path d="M12.5 10.5 12.5 16" stroke-width="2"/><path d="M16.5 10.5 16.5 16" stroke-width="2"/></g></defs>
<defs><g id="lk2" shape-rendering="auto"><circle cx="-12" cy="0" r="7.4" stroke-width="2" fill="#fff"/><circle cx="-12" cy="0" r="3.6" stroke-width="2"/><circle cx="12" cy="0" r="7.4" stroke-width="2" fill="#fff"/><circle cx="12" cy="0" r="3.6" stroke-width="2"/><rect x="-3.5" y="-12" width="7" height="10" fill="#000"/><path d="M-5 0 5 0" stroke-width="3"/><path d="M-24 9 24 9" stroke-width="3"/><path d="M-21 9 -19.5 16.5 -5.5 16.5 -4 9" stroke-width="2"/><path d="M-15.5 10.5 -15.5 16" stroke-width="2"/><path d="M-9.5 10.5 -9.5 16" stroke-width="2"/><path d="M4 9 5.5 16.5 19.5 16.5 21 9" stroke-width="2"/><path d="M9.5 10.5 9.5 16" stroke-width="2"/><path d="M15.5 10.5 15.5 16" stroke-width="2"/></g></defs>
<path d="M1100 1956.4 2620 1956.4"/>
<path d="M1154 1964.2 1174 1964.2" stroke-width="2"/>
<path d="M1154 1977.5 1174 1977.5" stroke-width="2"/>
<path d="M1212 1964.2 1232.1 1964.2" stroke-width="2"/>
<path d="M1212 1977.5 1232.1 1977.5" stroke-width="2"/>
<path d="M1270.1 1964.2 1290.1 1964.2" stroke-width="2"/>
<path d="M1270.1 1977.5 1290.1 1977.5" stroke-width="2"/>
<path d="M1328.2 1964.2 1348.2 1964.2" stroke-width="2"/>
<path d="M1328.2 1977.5 1348.2 1977.5" stroke-width="2"/>
<path d="M1386.2 1964.2 1406.2 1964.2" stroke-width="2"/>
<path d="M1386.2 1977.5 1406.2 1977.5" stroke-width="2"/>
<path d="M1444.2 1964.2 1464.3 1964.2" stroke-width="2"/>
<path d="M1444.2 1977.5 1464.3 1977.5" stroke-width="2"/>
<path d="M1502.3 1964.2 1522.3 1964.2" stroke-width="2"/>
<path d="M1502.3 1977.5 1522.3 1977.5" stroke-width="2"/>
<path d="M1560.3 1964.2 1580.4 1964.2" stroke-width="2"/>
<path d="M1560.3 1977.5 1580.4 1977.5" stroke-width="2"/>
<path d="M1618.4 1964.2 1638.5 1964.2" stroke-width="2"/>
<path d="M1618.4 1977.5 1638.5 1977.5" stroke-width="2"/>
<path d="M1676.4 1964.2 1696.5 1964.2" stroke-width="2"/>
<path d="M1676.4 1977.5 1696.5 1977.5" stroke-width="2"/>
<path d="M1734.5 1964.2 1754.5 1964.2" stroke-width="2"/>
<path d="M1734.5 1977.5 1754.5 1977.5" stroke-width="2"/>
<path d="M1792.5 1964.2 1812.6 1964.2" stroke-width="2"/>
<path d="M1792.5 1977.5 1812.6 1977.5" stroke-width="2"/>
<path d="M1850.6 1964.2 1870.6 1964.2" stroke-width="2"/>
<path d="M1850.6 1977.5 1870.6 1977.5" stroke-width="2"/>
<path d="M1908.7 1964.2 1928.7 1964.2" stroke-width="2"/>
<path d="M1908.7 1977.5 1928.7 1977.5" stroke-width="2"/>
<path d="M1966.7 1964.2 1986.7 1964.2" stroke-width="2"/>
<path d="M1966.7 1977.5 1986.7 1977.5" stroke-width="2"/>
<path d="M2024.8 1964.2 2044.8 1964.2" stroke-width="2"/>
<path d="M2024.8 1977.5 2044.8 1977.5" stroke-width="2"/>
<path d="M2082.8 1964.2 2102.9 1964.2" stroke-width="2"/>
<path d="M2082.8 1977.5 2102.9 1977.5" stroke-width="2"/>
<path d="M2140.8 1964.2 2160.9 1964.2" stroke-width="2"/>
<path d="M2140.8 1977.5 2160.9 1977.5" stroke-width="2"/>
<path d="M2198.9 1964.2 2218.9 1964.2" stroke-width="2"/>
<path d="M2198.9 1977.5 2218.9 1977.5" stroke-width="2"/>
<path d="M2256.9 1964.2 2277 1964.2" stroke-width="2"/>
<path d="M2256.9 1977.5 2277 1977.5" stroke-width="2"/>
<path d="M2315 1964.2 2335.1 1964.2" stroke-width="2"/>
<path d="M2315 1977.5 2335.1 1977.5" stroke-width="2"/>
<path d="M2373.1 1964.2 2393.1 1964.2" stroke-width="2"/>
<path d="M2373.1 1977.5 2393.1 1977.5" stroke-width="2"/>
<path d="M2431.1 1964.2 2451.2 1964.2" stroke-width="2"/>
<path d="M2431.1 1977.5 2451.2 1977.5" stroke-width="2"/>
<path d="M2489.1 1964.2 2509.2 1964.2" stroke-width="2"/>
<path d="M2489.1 1977.5 2509.2 1977.5" stroke-width="2"/>
<path d="M2547.2 1964.2 2567.2 1964.2" stroke-width="2"/>
<path d="M2547.2 1977.5 2567.2 1977.5" stroke-width="2"/>
<use href="#lk" transform="translate(1135 1971)"/>
<use href="#lk" transform="translate(1193 1971)"/>
<use href="#lk" transform="translate(1251.1 1971)"/>
<use href="#lk" transform="translate(1309.2 1971)"/>
<use href="#lk" transform="translate(1367.2 1971)"/>
<use href="#lk" transform="translate(1425.2 1971)"/>
<use href="#lk" transform="translate(1483.3 1971)"/>
<use href="#lk" transform="translate(1541.3 1971)"/>
<use href="#lk" transform="translate(1599.4 1971)"/>
<use href="#lk" transform="translate(1657.4 1971)"/>
<use href="#lk" transform="translate(1715.5 1971)"/>
<use href="#lk" transform="translate(1773.5 1971)"/>
<use href="#lk" transform="translate(1831.6 1971)"/>
<use href="#lk" transform="translate(1889.7 1971)"/>
<use href="#lk" transform="translate(1947.7 1971)"/>
<use href="#lk" transform="translate(2005.8 1971)"/>
<use href="#lk" transform="translate(2063.8 1971)"/>
<use href="#lk" transform="translate(2121.8 1971)"/>
<use href="#lk" transform="translate(2179.9 1971)"/>
<use href="#lk" transform="translate(2237.9 1971)"/>
<use href="#lk" transform="translate(2296 1971)"/>
<use href="#lk" transform="translate(2354.1 1971)"/>
<use href="#lk" transform="translate(2412.1 1971)"/>
<use href="#lk" transform="translate(2470.1 1971)"/>
<use href="#lk" transform="translate(2528.2 1971)"/>
<use href="#lk" transform="translate(2586.2 1971)"/>
<path d="M2603.3 1961.1 2622.4 1957.7" stroke-width="3"/>
<path d="M2605.5 1974.2 2624.7 1970.8" stroke-width="2"/>
<path d="M2583.2 1956.6 2639.8 1946.8"/>
<path d="M2655.8 1946.2 2673.4 1936.7" stroke-width="3"/>
<path d="M2662.1 1957.9 2679.7 1948.4" stroke-width="2"/>
<path d="M2635.4 1948.4 2686.4 1920.8"/>
<path d="M2706.2 1918.1 2723.6 1907.7" stroke-width="3"/>
<path d="M2713 1929.5 2730.4 1919.2" stroke-width="2"/>
<path d="M2685.9 1921 2736 1891.3"/>
<path d="M2756.5 1888.5 2773.5 1878.8" stroke-width="3"/>
<path d="M2763.1 1900.1 2780.2 1890.3" stroke-width="2"/>
<path d="M2736.1 1891.2 2786.1 1862.5"/>
<path d="M2806.3 1859.6 2823.7 1849.3" stroke-width="3"/>
<path d="M2813.1 1871.1 2830.5 1860.7" stroke-width="2"/>
<path d="M2785.9 1862.7 2836 1832.9"/>
<path d="M2856.5 1829.9 2874.5 1819.4" stroke-width="3"/>
<path d="M2863.2 1841.4 2881.2 1830.9" stroke-width="2"/>
<path d="M2836.1 1832.8 2886.9 1803.1"/>
<path d="M2903 1797.5 2916.7 1784" stroke-width="3"/>
<path d="M2912.4 1807 2926 1793.5" stroke-width="2"/>
<path d="M2884 1805.3 2924.7 1765.1"/>
<path d="M2938.8 1755.7 2948.9 1738.3" stroke-width="3"/>
<path d="M2950.2 1762.4 2960.4 1745.1" stroke-width="2"/>
<path d="M2922.4 1768.1 2951.8 1718"/>
<use href="#lk2" transform="translate(2585.7 1971)"/>
<use href="#lk2" transform="translate(2642.3 1961.2) rotate(-20)"/>
<use href="#lk2" transform="translate(2693.3 1933.6) rotate(-29.5)"/>
<use href="#lk2" transform="translate(2743.4 1903.9) rotate(-30)"/>
<use href="#lk2" transform="translate(2793.4 1875.2) rotate(-30)"/>
<use href="#lk2" transform="translate(2843.5 1845.4) rotate(-30.5)"/>
<use href="#lk2" transform="translate(2894.3 1815.7) rotate(-31)"/>
<use href="#lk2" transform="translate(2935 1775.5) rotate(-52)"/>
<use href="#lk2" transform="translate(2964.4 1725.4) rotate(-64)"/>
<path d="M1115 1973.5 1095.3 1969.1" stroke-width="3"/>
<path d="M1117.9 1960.5 1098.2 1956.1" stroke-width="2"/>
<path d="M1131.8 1985.2 1075 1972.5"/>
<path d="M1058.3 1955.1 1040.3 1945.1" stroke-width="3"/>
<path d="M1064.7 1943.4 1046.8 1933.5" stroke-width="2"/>
<path d="M1071.1 1971.1 1019.9 1942.8"/>
<path d="M1007.3 1925.8 990.1 1915.3" stroke-width="3"/>
<path d="M1014.2 1914.5 997.1 1903.9" stroke-width="2"/>
<path d="M1019.3 1942.4 969.8 1911.9"/>
<path d="M957.7 1895.7 940.4 1885.6" stroke-width="3"/>
<path d="M964.4 1884.3 947.2 1874.1" stroke-width="2"/>
<path d="M970.1 1912.1 920.1 1882.7"/>
<path d="M907.7 1866 890.1 1855.3" stroke-width="3"/>
<path d="M914.7 1854.7 897 1843.9" stroke-width="2"/>
<path d="M919.9 1882.6 869.8 1852.1"/>
<path d="M857.8 1834.9 841.2 1824.1" stroke-width="3"/>
<path d="M865 1823.8 848.5 1812.9" stroke-width="2"/>
<path d="M869.4 1851.8 821 1820.2"/>
<path d="M811 1798.9 799.2 1786.5" stroke-width="3"/>
<path d="M820.6 1789.7 808.8 1777.3" stroke-width="2"/>
<path d="M818.4 1818.1 780.4 1778.1"/>
<use href="#lk2" transform="translate(1135 1971)"/>
<use href="#lk2" transform="translate(1078.2 1958.3) rotate(22)"/>
<use href="#lk2" transform="translate(1027 1930) rotate(31)"/>
<use href="#lk2" transform="translate(977.5 1899.5) rotate(31.4)"/>
<use href="#lk2" transform="translate(927.5 1870.1) rotate(31.4)"/>
<use href="#lk2" transform="translate(877.4 1839.6) rotate(31.4)"/>
<use href="#lk2" transform="translate(829 1808) rotate(38)"/>
<use href="#lk2" transform="translate(791 1768) rotate(62)"/>
<circle cx="2749.5" cy="1816.4" r="20.9" stroke-width="2" fill="#fff"/>
<circle cx="2749.5" cy="1816.4" r="17.4" stroke-width="2"/>
<circle cx="2748.4" cy="1809.4" r="3" stroke-width="2"/>
<circle cx="2751.2" cy="1823.6" r="3" stroke-width="2"/>
<path d="M2753.8 1837.1 2761.4 1834.9 2769.5 1859.9 2763 1864.3Z" stroke-width="2"/>
<path d="M2807.2 1804.4 2825.7 1795.1 2835.5 1799 2852.9 1822.9 2847.5 1829.5 2817 1837.1Z" stroke-width="2"/>
<path d="M2814.8 1808.8 2827.4 1802.2 2843.1 1820.7 2820.2 1829.9Z" stroke-width="2"/>
<circle cx="2844.2" cy="1796.8" r="8.7" stroke-width="2"/>
<path d="M2860.5 1792.4 2866 1812" stroke-width="2"/>
<path d="M2866 1791.4 2870.3 1807.7" stroke-width="2"/>
<path d="M2764.7 1834.3 2777.8 1829.9 2796.3 1856.7 2791.3 1860.4 2768 1862.6Z" stroke-width="2"/>
<path d="M2765.8 1839.3 2778.9 1837.1 2788.7 1852.3" stroke-width="2"/>
<path d="M2710.3 1849.1 2721.1 1839.3 2747.7 1877.4 2742.5 1886.5 2717.2 1895.2 2708.1 1869.1Z" stroke-width="2"/>
<path d="M2715.1 1864.3 2725.9 1859.9 2741.2 1879.5 2721.6 1888.7Z" stroke-width="2"/>
<path d="M2712.4 1855.6 2722.2 1850.1 2747.3 1870.8" stroke-width="2"/>
<path d="M2774.5 1822.9 2808.3 1817.5" stroke-width="2"/>
<path d="M2777.8 1827.3 2810.4 1820.7" stroke-width="2"/>
<path d="M2797.4 1834.9 2849.6 1825.1" stroke-width="2"/>
<path d="M2799.5 1843.6 2854 1828.4" stroke-width="2"/>
<path d="M2797.4 1834.9 2799.5 1843.6" stroke-width="2"/>
<path d="M2749.5 1868.7 2895.4 1813.1" stroke-width="2"/>
<path d="M2751.6 1876.3 2894.3 1818.6" stroke-width="2"/>
<path d="M2695 1903.5 2725.5 1892.6" stroke-width="2"/>
<path d="M2699.4 1910 2727.7 1899.1" stroke-width="2"/>
<path d="M2692.8 1898.1 2716.8 1888.3" stroke-width="2"/>
<path d="M2708.1 1874.1 2682 1920.9 2690.7 1920.9" stroke-width="2"/>
<path d="M2682 1920.9 2725.5 1903.5" stroke-width="2"/>
<path d="M2784.3 1850.1 2796.3 1848 2797.4 1854.5 2786.5 1857.8Z" fill="#000"/>
<path d="M2770.1 1857.8 2784.3 1857.8 2784.3 1866.5 2770.1 1867.6Z" stroke-width="2"/>
<path d="M2736.4 1875.2 2745.1 1875.2 2747.3 1886.1 2737.5 1887.2Z" stroke-width="2"/>
<path d="M2873.6 1807.7 2891 1806.6" stroke-width="2"/>
<path d="M2834.4 1831.6 2840.9 1838.2" stroke-width="2"/>
<path d="M2891 1783.7 2906.3 1779.4 2912.8 1788.1 2899.7 1796.8" stroke-width="2"/>
<path d="M2894.3 1784.8 2898.6 1793.5" stroke-width="2"/>
<path d="M2901.9 1782.6 2906.3 1791.4" stroke-width="2"/>
<path d="M2882.3 1765.2 2899.7 1757.6 2921.5 1742.4 2928 1735.8" stroke-width="2"/>
<path d="M2886.7 1770.7 2904.1 1763 2917.1 1753.2" stroke-width="2"/>
<path d="M2882.3 1765.2 2886.7 1770.7" stroke-width="2"/>
<path d="M2893.2 1760.9 2897.5 1768.5" stroke-width="2"/>
<path d="M2908.4 1753.2 2912.8 1758.7" stroke-width="2"/>
<path d="M 2845.3 1776.1 L 2864.9 1775 Q 2891 1770.7 2917.1 1753.2 L 2947.6 1727.1" stroke-width="2"/>
<path d="M 2960.7 1753.2 Q 2952 1762 2956.3 1770.7" stroke-width="2"/>
<path d="M2930.2 1735.8 2949.8 1722.8 2958.5 1718.4" stroke-width="2"/>
<path d="M2943.3 1753.2 2949.8 1727.1" stroke-width="2"/>
<path d="M2941.1 1788.1 3060 1711.9" stroke-width="2"/>
<path d="M2943.3 1792.4 3060 1716.7" stroke-width="2"/>
<path d="M 1017.8 1816.3 L 1018.9 1855.5 Q 1023.3 1886 1042.9 1909.9" stroke-width="2"/>
<path d="M 1032 1816.3 Q 1032 1864.2 1053.8 1899.1" stroke-width="2"/>
<path d="M 1036.3 1816.3 Q 1037.4 1862 1058.1 1894.7" stroke-width="2"/>
<path d="M910 1825 914.4 1818.5 944.9 1808.7 953.6 1812 964.5 1829.4 955.8 1866.4 949.2 1864.2 955.8 1838.1 944.9 1825 923.1 1842.4 910 1838.1Z" stroke-width="2"/>
<path d="M918.7 1840.3 944.9 1820.7 960.1 1833.7" stroke-width="2"/>
<path d="M920.9 1846.8 929.6 1840.3 953.6 1840.3 949.2 1859.9 934 1855.5" stroke-width="2"/>
<path d="M 949.2 1808.7 Q 966.7 1803.2 975.4 1816.3 Q 979.7 1829.4 966.7 1831.6" stroke-width="2"/>
<path d="M 953.6 1814.1 Q 964.5 1810.9 969.9 1818.5 Q 972.1 1825 964.5 1826.1" stroke-width="2"/>
<path d="M968.8 1871.8 992.8 1855.5 1005.9 1857.7 1010.2 1870.7 1001.5 1892.5 997.1 1892.5 1003.7 1870.7 997.1 1862 975.4 1877.3Z" stroke-width="2"/>
<path d="M984.1 1875.1 997.1 1899.1" stroke-width="2"/>
<path d="M979.7 1859.9 988.4 1851.1 1014.6 1842.4" stroke-width="2"/>
<path d="M984.1 1833.7 1014.6 1818.5" stroke-width="2"/>
<path d="M986.3 1840.3 1014.6 1827.2" stroke-width="2"/>
<path d="M981.9 1835.9 988.4 1851.1" stroke-width="2"/>
<path d="M1001.5 1846.8 1018.9 1875.1 1023.3 1899.1" stroke-width="2"/>
<path d="M1010.2 1881.6 1029.8 1907.8" stroke-width="2"/>
<path d="M1014.6 1877.3 1034.2 1903.4" stroke-width="2"/>
<path d="M997.1 1859.9 1001.5 1875.1" stroke-width="2"/>
<path d="M764.1 1722.7 775 1733.6 792.4 1731.4" stroke-width="2"/>
<path d="M765.2 1727 770.7 1736.8" stroke-width="2"/>
<path d="M766.3 1743.4 781.6 1744.4 796.8 1751 803.3 1761.9" stroke-width="2"/>
<path d="M768.5 1744.4 781.6 1792.4" stroke-width="2"/>
<path d="M772.8 1746.6 785.9 1790.2" stroke-width="2"/>
<circle cx="784.8" cy="1756.4" r="4.8" stroke-width="2"/>
<circle cx="794.6" cy="1779.3" r="4.8" stroke-width="2"/>
<path d="M779.4 1753.2 790.3 1783.6 800.1 1781.5 790.3 1752.1Z" stroke-width="2"/>
<path d="M781.6 1781.5 783.7 1791.3 792.4 1792.4" stroke-width="2"/>
<circle cx="800.1" cy="1736.8" r="4.4" stroke-width="2"/>
<path d="M796.8 1731.4 809.9 1735.7 820.7 1761.9" stroke-width="2"/>
<path d="M 820.7 1755.3 Q 831.6 1748.8 840.3 1757.5 Q 842.5 1768.4 833.8 1774.9" stroke-width="2"/>
<path d="M825.1 1757.5 836 1761.9" stroke-width="2"/>
<path d="M825.1 1763 837.1 1767.3" stroke-width="2"/>
<path d="M826.2 1768.4 836 1771.7" stroke-width="2"/>
<rect x="813.1" y="1772.8" width="12" height="10.9" stroke-width="2"/>
<path d="M820.7 1761.9 829.5 1781.5 849.1 1796.7" stroke-width="2"/>
<path d="M836 1751 849.1 1764 870.8 1774.9" stroke-width="2"/>
<path d="M840.3 1755.3 853.4 1768.4 877.4 1779.3 877.4 1796.7" stroke-width="2"/>
<path d="M851.2 1790.2 855.6 1781.5 868.7 1780.4 873 1788 870.8 1796.7" stroke-width="2"/>
<path d="M859.9 1781.5 862.1 1796.7" stroke-width="2"/>
<path d="M768.5 1794.5 792.4 1794.5 792.4 1801.1 805.5 1798.9" stroke-width="2"/>
<path d="M768.5 1794.5 768.5 1802.2 805.5 1808.7" stroke-width="2"/>
<path d="M796.8 1798.9 825.1 1792.4" stroke-width="2"/>
<rect x="807.7" y="1794.5" width="15.2" height="21.8" fill="#000"/>
<rect x="810.3" y="1796.7" width="10" height="4.4" stroke="none" fill="#fff"/>
<rect x="810.3" y="1804.3" width="10" height="4.4" stroke="none" fill="#fff"/>
<path d="M825.1 1794.5 844.7 1805.4 844.7 1822.8 831.6 1831.6 825.1 1820.7" stroke-width="2"/>
<rect x="831.6" y="1810.9" width="10.9" height="9.8" stroke-width="2"/>
<path d="M849.1 1798.9 866.5 1798.9 866.5 1816.3" stroke-width="2"/>
<rect x="851.2" y="1801.1" width="10.9" height="8.7" stroke-width="2"/>
<path d="M866.5 1803.2 890.4 1803.2 888.3 1820.7 866.5 1818.5" stroke-width="2"/>
<circle cx="901.3" cy="1809.8" r="6.1" stroke-width="2"/>
<path d="M890.4 1803.2 907.9 1796.7 931.8 1792.4" stroke-width="2"/>
<path d="M888.3 1781.5 890.4 1798.9" stroke-width="2"/>
<path d="M907.9 1781.5 912.2 1798.9" stroke-width="2"/>
<path d="M875.2 1766.2 875.2 1792.4" stroke-width="2"/>
<path d="M934 1792.4 938.3 1807.6 944.9 1808.7" stroke-width="2"/>
<path d="M842.5 1833.7 849.1 1840.3 855.6 1829.4" stroke-width="2"/>
<path d="M897 1851.1 910 1862" stroke-width="2"/>
<path d="M944.9 1881.6 960.1 1890.3" stroke-width="2"/>
<path d="M992.8 1916.5 1008 1925.2" stroke-width="2"/>
<path d="M796.8 1525 796.8 1731.7 926.3 1778 1026.3 1814 1255 1832.3 1374.5 1855.2 1484.8 1830.2 1599.7 1852.1 1714.9 1829.3 1829.9 1850 1943.3 1826.2 2059 1847.5 2173.8 1823.3 2285.5 1844.2 2404.4 1821.4 2512 1841.5 2630.8 1818 2858.3 1772.8 2982.4 1697.7 3005.5 1685 3005.5 1587.5 2858 1587.5 2858 1523.5 2629 1506.7Z" stroke="none" fill="#fff"/>
<path d="M1026.3 1814 1255 1832.3 1374.5 1855.2 1484.8 1830.2 1599.7 1852.1 1714.9 1829.3 1829.9 1850 1943.3 1826.2 2059 1847.5 2173.8 1823.3 2285.5 1844.2 2404.4 1821.4 2512 1841.5 2630.8 1818"/>
<path d="M796.8 1731.7 926.3 1778" stroke-width="3"/>
<path d="M926.3 1778 1026.3 1814" stroke-width="2"/>
<path d="M794.8 1525 2629 1506.7" stroke-width="3"/>
<path d="M795.8 1525 795.8 1668" stroke-width="2"/>
<path d="M798.3 1668 798.3 1731.7" stroke-width="3"/>
<path d="M796.8 1647.3 2629 1630.4" stroke-width="2"/>
<path d="M796.8 1669.2 2629 1652.3" stroke-width="2"/>
<path d="M926.3 1778 2629 1762" stroke-width="2"/>
<path d="M1053.9 1777.8 1065.9 1777.7" stroke-width="2"/>
<path d="M1118.9 1777.2 1130.9 1777.1" stroke-width="2"/>
<path d="M1173.9 1776.7 1185.9 1776.6" stroke-width="2"/>
<path d="M1223.9 1776.2 1235.9 1776.1" stroke-width="2"/>
<path d="M1282 1775.7 1294 1775.5" stroke-width="2"/>
<path d="M1347 1775 1359 1774.9" stroke-width="2"/>
<path d="M1402 1774.5 1414 1774.4" stroke-width="2"/>
<path d="M1452 1774.1 1464 1773.9" stroke-width="2"/>
<path d="M1511.7 1773.5 1523.7 1773.4" stroke-width="2"/>
<path d="M1576.7 1772.9 1588.7 1772.8" stroke-width="2"/>
<path d="M1631.7 1772.4 1643.7 1772.3" stroke-width="2"/>
<path d="M1681.7 1771.9 1693.7 1771.8" stroke-width="2"/>
<path d="M1741 1771.3 1753 1771.2" stroke-width="2"/>
<path d="M1806 1770.7 1818 1770.6" stroke-width="2"/>
<path d="M1861 1770.2 1873 1770.1" stroke-width="2"/>
<path d="M1911 1769.7 1923 1769.6" stroke-width="2"/>
<path d="M1970.5 1769.2 1982.5 1769.1" stroke-width="2"/>
<path d="M2035.5 1768.6 2047.5 1768.5" stroke-width="2"/>
<path d="M2090.5 1768.1 2102.5 1767.9" stroke-width="2"/>
<path d="M2140.5 1767.6 2152.5 1767.5" stroke-width="2"/>
<path d="M2199.5 1767 2211.5 1766.9" stroke-width="2"/>
<path d="M2264.5 1766.4 2276.5 1766.3" stroke-width="2"/>
<path d="M2319.5 1765.9 2331.5 1765.8" stroke-width="2"/>
<path d="M2369.5 1765.4 2381.5 1765.3" stroke-width="2"/>
<path d="M2428.5 1764.9 2440.5 1764.8" stroke-width="2"/>
<path d="M2493.5 1764.3 2505.5 1764.2" stroke-width="2"/>
<path d="M2548.5 1763.8 2560.5 1763.6" stroke-width="2"/>
<path d="M2598.5 1763.3 2610.5 1763.2" stroke-width="2"/>
<path d="M1022.4 1522.7 1022.6 1549.7"/>
<path d="M1025.4 1522.7 1025.6 1549.7"/>
<path d="M1024.1 1549.7 1024.9 1645.2" stroke-width="6"/>
<path d="M1023.4 1645.2 1023.6 1675.1"/>
<path d="M1026.4 1645.2 1026.6 1675.1"/>
<path d="M1025.2 1675.1 1026 1777.1" stroke-width="6"/>
<path d="M1026 1777.1 1026.3 1814" stroke-width="2"/>
<circle cx="1014.3" cy="1545.7" r="7.6" stroke-width="2"/>
<circle cx="1014.3" cy="1545.7" r="4.6" stroke-width="2"/>
<circle cx="1035.5" cy="1545.7" r="7.6" stroke-width="2"/>
<circle cx="1035.5" cy="1545.7" r="4.6" stroke-width="2"/>
<rect x="1008" y="1782" width="11" height="29.5" stroke-width="2" fill="#fff"/>
<rect x="1010.5" y="1784" width="6.5" height="6.5" fill="#000"/>
<rect x="1010.5" y="1803" width="6.5" height="6.5" fill="#000"/>
<path d="M1008 1793 1019 1793"/>
<path d="M1008 1800.5 1019 1800.5"/>
<rect x="1030.9" y="1782" width="11" height="29.5" stroke-width="2" fill="#fff"/>
<rect x="1033.4" y="1784" width="6.5" height="6.5" fill="#000"/>
<rect x="1033.4" y="1803" width="6.5" height="6.5" fill="#000"/>
<path d="M1030.9 1793 1041.9 1793"/>
<path d="M1030.9 1800.5 1041.9 1800.5"/>
<rect x="1005.3" y="1794.5" width="37" height="4" stroke-width="2" fill="#fff"/>
<path d="M 1042.3 1793 L 1045.3 1793 Q 1051.3 1794 1052.3 1802 L 1052.3 1807.5 L 1048.8 1807.5 Q 1048.8 1798 1042.3 1797" stroke-width="2"/>
<path d="M1250.5 1520.4 1250.8 1547.4"/>
<path d="M1253.5 1520.4 1253.8 1547.4"/>
<path d="M1252.3 1547.4 1253.2 1643.1" stroke-width="6"/>
<path d="M1251.7 1643.1 1251.9 1673"/>
<path d="M1254.7 1643.1 1254.9 1673"/>
<path d="M1253.5 1673 1254.4 1774.9" stroke-width="6"/>
<path d="M1254.4 1774.9 1255 1832.3" stroke-width="2"/>
<circle cx="1242.4" cy="1543.4" r="7.6" stroke-width="2"/>
<circle cx="1242.4" cy="1543.4" r="4.6" stroke-width="2"/>
<circle cx="1263.6" cy="1543.4" r="7.6" stroke-width="2"/>
<circle cx="1263.6" cy="1543.4" r="4.6" stroke-width="2"/>
<rect x="1236.7" y="1800.3" width="11" height="29.5" stroke-width="2" fill="#fff"/>
<rect x="1239.2" y="1802.3" width="6.5" height="6.5" fill="#000"/>
<rect x="1239.2" y="1821.3" width="6.5" height="6.5" fill="#000"/>
<path d="M1236.7 1811.3 1247.7 1811.3"/>
<path d="M1236.7 1818.8 1247.7 1818.8"/>
<rect x="1259.6" y="1800.3" width="11" height="29.5" stroke-width="2" fill="#fff"/>
<rect x="1262.1" y="1802.3" width="6.5" height="6.5" fill="#000"/>
<rect x="1262.1" y="1821.3" width="6.5" height="6.5" fill="#000"/>
<path d="M1259.6 1811.3 1270.6 1811.3"/>
<path d="M1259.6 1818.8 1270.6 1818.8"/>
<rect x="1234" y="1812.8" width="37" height="4" stroke-width="2" fill="#fff"/>
<path d="M 1271 1811.3 L 1274 1811.3 Q 1280 1812.3 1281 1820.3 L 1281 1825.8 L 1277.5 1825.8 Q 1277.5 1816.3 1271 1815.3" stroke-width="2"/>
<path d="M1480.2 1518.2 1480.5 1545.2"/>
<path d="M1483.2 1518.2 1483.5 1545.2"/>
<path d="M1482 1545.2 1482.9 1641" stroke-width="6"/>
<path d="M1481.4 1641 1481.6 1670.9"/>
<path d="M1484.4 1641 1484.6 1670.9"/>
<path d="M1483.2 1670.9 1484.2 1772.8" stroke-width="6"/>
<path d="M1484.2 1772.8 1484.8 1830.2" stroke-width="2"/>
<circle cx="1472.1" cy="1541.2" r="7.6" stroke-width="2"/>
<circle cx="1472.1" cy="1541.2" r="4.6" stroke-width="2"/>
<circle cx="1493.3" cy="1541.2" r="7.6" stroke-width="2"/>
<circle cx="1493.3" cy="1541.2" r="4.6" stroke-width="2"/>
<rect x="1466.5" y="1798.2" width="11" height="29.5" stroke-width="2" fill="#fff"/>
<rect x="1469" y="1800.2" width="6.5" height="6.5" fill="#000"/>
<rect x="1469" y="1819.2" width="6.5" height="6.5" fill="#000"/>
<path d="M1466.5 1809.2 1477.5 1809.2"/>
<path d="M1466.5 1816.7 1477.5 1816.7"/>
<rect x="1489.4" y="1798.2" width="11" height="29.5" stroke-width="2" fill="#fff"/>
<rect x="1491.9" y="1800.2" width="6.5" height="6.5" fill="#000"/>
<rect x="1491.9" y="1819.2" width="6.5" height="6.5" fill="#000"/>
<path d="M1489.4 1809.2 1500.4 1809.2"/>
<path d="M1489.4 1816.7 1500.4 1816.7"/>
<rect x="1463.8" y="1810.7" width="37" height="4" stroke-width="2" fill="#fff"/>
<path d="M 1500.8 1809.2 L 1503.8 1809.2 Q 1509.8 1810.2 1510.8 1818.2 L 1510.8 1823.7 L 1507.3 1823.7 Q 1507.3 1814.2 1500.8 1813.2" stroke-width="2"/>
<path d="M1709.5 1515.9 1709.8 1542.9"/>
<path d="M1712.5 1515.9 1712.8 1542.9"/>
<path d="M1711.3 1542.9 1712.5 1638.9" stroke-width="6"/>
<path d="M1711 1638.9 1711.3 1668.8"/>
<path d="M1714 1638.9 1714.3 1668.8"/>
<path d="M1712.9 1668.8 1714.2 1770.6" stroke-width="6"/>
<path d="M1714.2 1770.6 1714.9 1829.3" stroke-width="2"/>
<circle cx="1701.4" cy="1538.9" r="7.6" stroke-width="2"/>
<circle cx="1701.4" cy="1538.9" r="4.6" stroke-width="2"/>
<circle cx="1722.6" cy="1538.9" r="7.6" stroke-width="2"/>
<circle cx="1722.6" cy="1538.9" r="4.6" stroke-width="2"/>
<rect x="1696.6" y="1797.3" width="11" height="29.5" stroke-width="2" fill="#fff"/>
<rect x="1699.1" y="1799.3" width="6.5" height="6.5" fill="#000"/>
<rect x="1699.1" y="1818.3" width="6.5" height="6.5" fill="#000"/>
<path d="M1696.6 1808.3 1707.6 1808.3"/>
<path d="M1696.6 1815.8 1707.6 1815.8"/>
<rect x="1719.5" y="1797.3" width="11" height="29.5" stroke-width="2" fill="#fff"/>
<rect x="1722" y="1799.3" width="6.5" height="6.5" fill="#000"/>
<rect x="1722" y="1818.3" width="6.5" height="6.5" fill="#000"/>
<path d="M1719.5 1808.3 1730.5 1808.3"/>
<path d="M1719.5 1815.8 1730.5 1815.8"/>
<rect x="1693.9" y="1809.8" width="37" height="4" stroke-width="2" fill="#fff"/>
<path d="M 1730.9 1808.3 L 1733.9 1808.3 Q 1739.9 1809.3 1740.9 1817.3 L 1740.9 1822.8 L 1737.4 1822.8 Q 1737.4 1813.3 1730.9 1812.3" stroke-width="2"/>
<path d="M1939 1513.6 1939.2 1540.6"/>
<path d="M1942 1513.6 1942.2 1540.6"/>
<path d="M1940.7 1540.6 1941.6 1636.8" stroke-width="6"/>
<path d="M1940.1 1636.8 1940.3 1666.7"/>
<path d="M1943.1 1636.8 1943.3 1666.7"/>
<path d="M1941.9 1666.7 1942.8 1768.5" stroke-width="6"/>
<path d="M1942.8 1768.5 1943.3 1826.2" stroke-width="2"/>
<circle cx="1930.9" cy="1536.6" r="7.6" stroke-width="2"/>
<circle cx="1930.9" cy="1536.6" r="4.6" stroke-width="2"/>
<circle cx="1952.1" cy="1536.6" r="7.6" stroke-width="2"/>
<circle cx="1952.1" cy="1536.6" r="4.6" stroke-width="2"/>
<rect x="1925" y="1794.2" width="11" height="29.5" stroke-width="2" fill="#fff"/>
<rect x="1927.5" y="1796.2" width="6.5" height="6.5" fill="#000"/>
<rect x="1927.5" y="1815.2" width="6.5" height="6.5" fill="#000"/>
<path d="M1925 1805.2 1936 1805.2"/>
<path d="M1925 1812.7 1936 1812.7"/>
<rect x="1947.9" y="1794.2" width="11" height="29.5" stroke-width="2" fill="#fff"/>
<rect x="1950.4" y="1796.2" width="6.5" height="6.5" fill="#000"/>
<rect x="1950.4" y="1815.2" width="6.5" height="6.5" fill="#000"/>
<path d="M1947.9 1805.2 1958.9 1805.2"/>
<path d="M1947.9 1812.7 1958.9 1812.7"/>
<rect x="1922.3" y="1806.7" width="37" height="4" stroke-width="2" fill="#fff"/>
<path d="M 1959.3 1805.2 L 1962.3 1805.2 Q 1968.3 1806.2 1969.3 1814.2 L 1969.3 1819.7 L 1965.8 1819.7 Q 1965.8 1810.2 1959.3 1809.2" stroke-width="2"/>
<path d="M2168 1511.3 2168.4 1538.3"/>
<path d="M2171 1511.3 2171.4 1538.3"/>
<path d="M2169.9 1538.3 2171.2 1634.7" stroke-width="6"/>
<path d="M2169.7 1634.7 2170 1664.6"/>
<path d="M2172.7 1634.7 2173 1664.6"/>
<path d="M2171.6 1664.6 2173 1766.3" stroke-width="6"/>
<path d="M2173 1766.3 2173.8 1823.3" stroke-width="2"/>
<circle cx="2159.9" cy="1534.3" r="7.6" stroke-width="2"/>
<circle cx="2159.9" cy="1534.3" r="4.6" stroke-width="2"/>
<circle cx="2181.1" cy="1534.3" r="7.6" stroke-width="2"/>
<circle cx="2181.1" cy="1534.3" r="4.6" stroke-width="2"/>
<rect x="2155.5" y="1791.3" width="11" height="29.5" stroke-width="2" fill="#fff"/>
<rect x="2158" y="1793.3" width="6.5" height="6.5" fill="#000"/>
<rect x="2158" y="1812.3" width="6.5" height="6.5" fill="#000"/>
<path d="M2155.5 1802.3 2166.5 1802.3"/>
<path d="M2155.5 1809.8 2166.5 1809.8"/>
<rect x="2178.4" y="1791.3" width="11" height="29.5" stroke-width="2" fill="#fff"/>
<rect x="2180.9" y="1793.3" width="6.5" height="6.5" fill="#000"/>
<rect x="2180.9" y="1812.3" width="6.5" height="6.5" fill="#000"/>
<path d="M2178.4 1802.3 2189.4 1802.3"/>
<path d="M2178.4 1809.8 2189.4 1809.8"/>
<rect x="2152.8" y="1803.8" width="37" height="4" stroke-width="2" fill="#fff"/>
<path d="M 2189.8 1802.3 L 2192.8 1802.3 Q 2198.8 1803.3 2199.8 1811.3 L 2199.8 1816.8 L 2196.3 1816.8 Q 2196.3 1807.3 2189.8 1806.3" stroke-width="2"/>
<path d="M2397 1509 2397.5 1536"/>
<path d="M2400 1509 2400.5 1536"/>
<path d="M2399 1536 2400.8 1632.6" stroke-width="6"/>
<path d="M2399.3 1632.6 2399.7 1662.5"/>
<path d="M2402.3 1632.6 2402.7 1662.5"/>
<path d="M2401.4 1662.5 2403.3 1764.2" stroke-width="6"/>
<path d="M2403.3 1764.2 2404.4 1821.4" stroke-width="2"/>
<circle cx="2388.9" cy="1532" r="7.6" stroke-width="2"/>
<circle cx="2388.9" cy="1532" r="4.6" stroke-width="2"/>
<circle cx="2410.1" cy="1532" r="7.6" stroke-width="2"/>
<circle cx="2410.1" cy="1532" r="4.6" stroke-width="2"/>
<rect x="2386.1" y="1789.4" width="11" height="29.5" stroke-width="2" fill="#fff"/>
<rect x="2388.6" y="1791.4" width="6.5" height="6.5" fill="#000"/>
<rect x="2388.6" y="1810.4" width="6.5" height="6.5" fill="#000"/>
<path d="M2386.1 1800.4 2397.1 1800.4"/>
<path d="M2386.1 1807.9 2397.1 1807.9"/>
<rect x="2409" y="1789.4" width="11" height="29.5" stroke-width="2" fill="#fff"/>
<rect x="2411.5" y="1791.4" width="6.5" height="6.5" fill="#000"/>
<rect x="2411.5" y="1810.4" width="6.5" height="6.5" fill="#000"/>
<path d="M2409 1800.4 2420 1800.4"/>
<path d="M2409 1807.9 2420 1807.9"/>
<rect x="2383.4" y="1801.9" width="37" height="4" stroke-width="2" fill="#fff"/>
<path d="M 2420.4 1800.4 L 2423.4 1800.4 Q 2429.4 1801.4 2430.4 1809.4 L 2430.4 1814.9 L 2426.9 1814.9 Q 2426.9 1805.4 2420.4 1804.4" stroke-width="2"/>
<path d="M2626.2 1506.7 2626.5 1533.7"/>
<path d="M2629.2 1506.7 2629.5 1533.7"/>
<path d="M2628 1533.7 2628.9 1630.5" stroke-width="6"/>
<path d="M2627.4 1630.5 2627.7 1660.4"/>
<path d="M2630.4 1630.5 2630.7 1660.4"/>
<path d="M2629.2 1660.4 2630.2 1762" stroke-width="6"/>
<path d="M2630.2 1762 2630.8 1818" stroke-width="2"/>
<rect x="2612.5" y="1786" width="11" height="29.5" stroke-width="2" fill="#fff"/>
<rect x="2615" y="1788" width="6.5" height="6.5" fill="#000"/>
<rect x="2615" y="1807" width="6.5" height="6.5" fill="#000"/>
<path d="M2612.5 1797 2623.5 1797"/>
<path d="M2612.5 1804.5 2623.5 1804.5"/>
<rect x="2635.4" y="1786" width="11" height="29.5" stroke-width="2" fill="#fff"/>
<rect x="2637.9" y="1788" width="6.5" height="6.5" fill="#000"/>
<rect x="2637.9" y="1807" width="6.5" height="6.5" fill="#000"/>
<path d="M2635.4 1797 2646.4 1797"/>
<path d="M2635.4 1804.5 2646.4 1804.5"/>
<rect x="2609.8" y="1798.5" width="37" height="4" stroke-width="2" fill="#fff"/>
<path d="M 2646.8 1797 L 2649.8 1797 Q 2655.8 1798 2656.8 1806 L 2656.8 1811.5 L 2653.3 1811.5 Q 2653.3 1802 2646.8 1801" stroke-width="2"/>
<rect x="815.5" y="1526.3" width="7.2" height="6.2" rx="1.2" stroke-width="2"/>
<rect x="897.5" y="1525.5" width="7.2" height="6.2" rx="1.2" stroke-width="2"/>
<rect x="914.5" y="1525.3" width="7.2" height="6.2" rx="1.2" stroke-width="2"/>
<rect x="996.6" y="1524.5" width="7.2" height="6.2" rx="1.2" stroke-width="2"/>
<rect x="1042.6" y="1524" width="7.2" height="6.2" rx="1.2" stroke-width="2"/>
<rect x="1124.6" y="1523.2" width="7.2" height="6.2" rx="1.2" stroke-width="2"/>
<rect x="1141.6" y="1523" width="7.2" height="6.2" rx="1.2" stroke-width="2"/>
<rect x="1223.7" y="1522.2" width="7.2" height="6.2" rx="1.2" stroke-width="2"/>
<rect x="1270.7" y="1521.7" width="7.2" height="6.2" rx="1.2" stroke-width="2"/>
<rect x="1352.7" y="1520.9" width="7.2" height="6.2" rx="1.2" stroke-width="2"/>
<rect x="1369.7" y="1520.7" width="7.2" height="6.2" rx="1.2" stroke-width="2"/>
<rect x="1451.8" y="1519.9" width="7.2" height="6.2" rx="1.2" stroke-width="2"/>
<rect x="1500.4" y="1519.4" width="7.2" height="6.2" rx="1.2" stroke-width="2"/>
<rect x="1582.4" y="1518.6" width="7.2" height="6.2" rx="1.2" stroke-width="2"/>
<rect x="1599.4" y="1518.4" width="7.2" height="6.2" rx="1.2" stroke-width="2"/>
<rect x="1681.5" y="1517.6" width="7.2" height="6.2" rx="1.2" stroke-width="2"/>
<rect x="1729.7" y="1517.1" width="7.2" height="6.2" rx="1.2" stroke-width="2"/>
<rect x="1811.7" y="1516.3" width="7.2" height="6.2" rx="1.2" stroke-width="2"/>
<rect x="1828.7" y="1516.1" width="7.2" height="6.2" rx="1.2" stroke-width="2"/>
<rect x="1910.8" y="1515.3" width="7.2" height="6.2" rx="1.2" stroke-width="2"/>
<rect x="1959.2" y="1514.8" width="7.2" height="6.2" rx="1.2" stroke-width="2"/>
<rect x="2041.2" y="1514" width="7.2" height="6.2" rx="1.2" stroke-width="2"/>
<rect x="2058.2" y="1513.8" width="7.2" height="6.2" rx="1.2" stroke-width="2"/>
<rect x="2140.3" y="1513" width="7.2" height="6.2" rx="1.2" stroke-width="2"/>
<rect x="2188.2" y="1512.5" width="7.2" height="6.2" rx="1.2" stroke-width="2"/>
<rect x="2270.2" y="1511.7" width="7.2" height="6.2" rx="1.2" stroke-width="2"/>
<rect x="2287.2" y="1511.6" width="7.2" height="6.2" rx="1.2" stroke-width="2"/>
<rect x="2369.3" y="1510.7" width="7.2" height="6.2" rx="1.2" stroke-width="2"/>
<rect x="2417.2" y="1510.3" width="7.2" height="6.2" rx="1.2" stroke-width="2"/>
<rect x="2499.2" y="1509.4" width="7.2" height="6.2" rx="1.2" stroke-width="2"/>
<rect x="2516.2" y="1509.3" width="7.2" height="6.2" rx="1.2" stroke-width="2"/>
<rect x="2598.3" y="1508.4" width="7.2" height="6.2" rx="1.2" stroke-width="2"/>
<circle cx="806" cy="1548" r="7.6" stroke-width="2"/>
<circle cx="806" cy="1548" r="4.6" stroke-width="2"/>
<path d="M2629.7 1506.7 2680 1509 2730 1517 2830 1522 2858.2 1523.5" stroke-width="3"/>
<path d="M2631.7 1603.7 2858.2 1602" stroke-width="2"/>
<path d="M2631.7 1625 2858.2 1623" stroke-width="2"/>
<path d="M2631.7 1734.5 2858.2 1733" stroke-width="2"/>
<path d="M2659.7 1735.5 2671.7 1735.5" stroke-width="2"/>
<path d="M2717.7 1735.5 2729.7 1735.5" stroke-width="2"/>
<path d="M2759.7 1735.5 2771.7 1735.5" stroke-width="2"/>
<path d="M2819.7 1735.5 2831.7 1735.5" stroke-width="2"/>
<path d="M2858.2 1538 2858.2 1733" stroke-width="3"/>
<path d="M2859.2 1733 2859.2 1772"/>
<path d="M2630.8 1818 2858.3 1772.8"/>
<circle cx="2617" cy="1528" r="7.6" stroke-width="2"/>
<circle cx="2617" cy="1528" r="4.6" stroke-width="2"/>
<circle cx="2638" cy="1537" r="7.6" stroke-width="2"/>
<circle cx="2638" cy="1537" r="4.6" stroke-width="2"/>
<circle cx="2846.3" cy="1535.5" r="7.6" stroke-width="2"/>
<circle cx="2846.3" cy="1535.5" r="4.6" stroke-width="2"/>
<rect x="2647.9" y="1511" width="7.2" height="6.2" rx="1.2" stroke-width="2"/>
<rect x="2729.4" y="1517" width="7.2" height="6.2" rx="1.2" stroke-width="2"/>
<rect x="2746.4" y="1518" width="7.2" height="6.2" rx="1.2" stroke-width="2"/>
<rect x="2828.4" y="1525" width="7.2" height="6.2" rx="1.2" stroke-width="2"/>
<rect x="2843" y="1739" width="11" height="29" stroke-width="2" fill="#fff"/>
<rect x="2845.5" y="1741" width="6.5" height="6.5" fill="#000"/>
<rect x="2845.5" y="1760" width="6.5" height="6.5" fill="#000"/>
<path d="M2843 1750 2854 1750"/>
<path d="M2843 1757.5 2854 1757.5"/>
<rect x="2862.9" y="1739" width="11" height="29" stroke-width="2" fill="#fff"/>
<rect x="2865.4" y="1741" width="6.5" height="6.5" fill="#000"/>
<rect x="2865.4" y="1760" width="6.5" height="6.5" fill="#000"/>
<path d="M2862.9 1750 2873.9 1750"/>
<path d="M2862.9 1757.5 2873.9 1757.5"/>
<rect x="2842.3" y="1751.5" width="32" height="4" stroke-width="2" fill="#fff"/>
<path d="M 2843.3 1750 L 2839.3 1750 Q 2834.3 1751 2834.3 1759 L 2834.3 1764.5 L 2837.8 1764.5" stroke-width="2"/>
<rect x="2874.3" y="1744" width="6" height="16" fill="#000"/>
<path d="M2858.2 1587.5 3005.5 1587.5 3005.5 1685 2982.4 1697.7" stroke-width="2"/>
<path d="M2920 1586 3000 1586" stroke-width="2"/>
<rect x="2882.5" y="1600" width="5" height="6" fill="#000"/>
<path d="M2880.5 1598 2880.5 1608"/>
<rect x="2919.5" y="1600" width="5" height="6" fill="#000"/>
<path d="M2926.5 1598 2926.5 1608"/>
<rect x="2943.5" y="1600" width="5" height="6" fill="#000"/>
<path d="M2941.5 1598 2941.5 1608"/>
<rect x="2981.5" y="1600" width="5" height="6" fill="#000"/>
<path d="M2988.5 1598 2988.5 1608"/>
<path d="M 2858.3 1772.8 L 2872 1771 Q 2905 1766 2930 1750 L 2982.4 1697.7" stroke-width="2"/>
<path d="M 2858.3 1779 L 2875 1778 Q 2910 1773 2937 1755 L 2985 1708" stroke-width="2"/>
<path d="M 570.6 1342.9 L 575.5 1342.4 L 576.2 1352 L 580.2 1367.6 L 581 1392.9 L 579.3 1399 L 575.5 1399.9 L 572.3 1395.5 L 569.2 1372.9 L 567.6 1367.6 L 567.6 1355.4 Z" stroke-width="2"/>
<path d="M576.2 1352 576.2 1369.4 578.4 1371.1 578.4 1392.9"/>
<path d="M635.6 1323.2 637.7 1319.7 696 1284.9 717.8 1284.9 721.3 1289.2 729.1 1311 735.2 1312.8 735.2 1317.1 729.1 1327.6 729.1 1345 737.8 1348.5 743.4 1351.1 743.4 1363.8 677.7 1363.8 677.7 1350.6 656 1350.6 651.6 1341.5 647.2 1334.5 638.5 1331.9 635.6 1327.6Z" stroke="none" fill="#000"/>
<path d="M648.6 1324.9 661.2 1318 681.2 1324.9 683 1327.6 667.3 1336.3 655.1 1331.9Z" stroke="none" fill="#fff"/>
<path d="M661.2 1318 681.2 1324.9"/>
<path d="M692 1297.6 696 1294.8 699.9 1306.7 695.7 1311.2Z" stroke="none" fill="#fff"/>
<path d="M707.4 1293.6 711.4 1293.6 718.7 1309.8 714.7 1311Z" stroke="none" fill="#fff"/>
<path d="M703.3 1331 721.3 1321.8 722.2 1334.2 713.4 1332.4 704.2 1335.4Z" stroke="none" fill="#fff"/>
<circle cx="684.7" cy="1306.7" r="10.1" stroke="none" fill="#000"/>
<path d="M 619.4 1334.5 L 647.2 1335.4 L 652.5 1341.5 L 656 1352 L 654.2 1367.6 Q 647.2 1383.3 633.3 1383.3 Q 619.4 1382.4 614.1 1371.1 Q 610.7 1362.4 611.5 1350.2 Q 612.4 1337.1 619.4 1334.5 Z" stroke-width="2"/>
<circle cx="632.8" cy="1361.5" r="13.6" stroke-width="2"/>
<circle cx="632.8" cy="1361.5" r="3.5" stroke-width="2"/>
<rect x="617.6" y="1338" width="11.3" height="12.2" stroke-width="2"/>
<rect x="639.4" y="1338.9" width="10.5" height="13.1" stroke-width="2"/>
<circle cx="623.2" cy="1344.1" r="3.8" stroke-width="2"/>
<circle cx="644.6" cy="1345.3" r="3.8" stroke-width="2"/>
<rect x="662.9" y="1369.9" width="9.6" height="9.9"/>
<path d="M581.9 1369.4 591.5 1392 593.2 1416.4 619.4 1416.8 624.6 1419.9 672.5 1427.7"/>
<path d="M590.6 1366.8 599.3 1366.8 615 1378.1 616.8 1393.8" stroke-width="2"/>
<path d="M590.6 1366.8 593.2 1416.4"/>
<path d="M 599.3 1415.5 L 599.3 1402.5 Q 602 1394.6 609.8 1393.8 L 619.4 1393.8 L 621.1 1395.5 L 652.5 1395.5 L 672.5 1385.9" stroke-width="2"/>
<path d="M 604.6 1413.8 L 604.6 1404.2 Q 606.3 1397.6 612.4 1397.2 L 645.5 1397.2 L 672.5 1381.6"/>
<rect x="599.9" y="1430" width="38.7" height="6.4" stroke-width="2"/>
<rect x="604.6" y="1431.2" width="14.8" height="4" stroke-width="2"/>
<rect x="621.1" y="1431.2" width="14.8" height="4" stroke-width="2"/>
<rect x="604" y="1436.4" width="31.4" height="4"/>
<rect x="596.4" y="1440.5" width="59.6" height="5.6"/>
<rect x="591.5" y="1446" width="67.9" height="3.8"/>
<rect x="596.4" y="1449.9" width="47.4" height="4.4"/>
<path d="M605.4 1454.2 605.4 1477.4"/>
<path d="M633 1454.2 633 1477.4"/>
<rect x="596.4" y="1477.4" width="47.4" height="4.7"/>
<rect x="591.5" y="1482.1" width="77.5" height="3.7"/>
<rect x="596.4" y="1485.7" width="47.4" height="3.5"/>
<rect x="602" y="1489.2" width="38.3" height="3.8" stroke-width="2"/>
<path d="M612.4 1493.1 612.4 1510"/>
<path d="M626.3 1493.1 626.3 1510"/>
<path d="M654.2 1439.1 662.1 1439.1 662.1 1480.9" stroke-width="2"/>
<path d="M656.8 1441.7 656.8 1481.7"/>
<rect x="662.9" y="1438.2" width="9.6" height="9.6"/>
<rect x="643.8" y="1449.9" width="10.5" height="4.9"/>
<rect x="647.2" y="1477.4" width="7" height="4.7"/>
<rect x="655.1" y="1473.9" width="13.9" height="8.2"/>
<path d="M 642.9 1456.5 L 652.5 1455.6 L 654.2 1458.2 L 647.2 1460 L 646.4 1463.4 L 642.9 1462.6 Z" stroke-width="2"/>
<path d="M737 1311.9 783.1 1269.2 818 1239.6" stroke-width="2"/>
<path d="M739.6 1313.6 784.9 1272.7 818 1243.9" stroke-width="2"/>
<path d="M742.2 1315.7 786.6 1275.6 818 1248.3" stroke-width="2"/>
<path d="M748.3 1318 791.8 1279.7 818 1256.1" stroke-width="2"/>
<path d="M729.1 1330.2 744.8 1317.1"/>
<path d="M729.1 1334.5 746.6 1320.6"/>
<path d="M729.1 1338.9 741.3 1330.2"/>
<path d="M729.1 1344.1 737.8 1337.1"/>
<path d="M746.6 1320.6 758.7 1320.6 770.9 1324.9 776.2 1329.3 790.1 1338.9 800.6 1340.6 805.8 1343.2" stroke-width="2"/>
<path d="M770.9 1324.9 765.7 1345 749.2 1361.5" stroke-width="2"/>
<path d="M765.7 1345 786.6 1358" stroke-width="2"/>
<path d="M758.7 1354.6 783.1 1358.9" stroke-width="2"/>
<path d="M790.1 1338.9 787.5 1348.5 797.1 1360.7" stroke-width="2"/>
<path d="M787.5 1348.5 784.9 1361.5" stroke-width="2"/>
<path d="M736.1 1348.5 746.6 1334.5"/>
<rect x="816.2" y="1326.2" width="17.1" height="17.9"/>
<rect x="806.7" y="1334.5" width="8.7" height="8.7" stroke-width="2"/>
<path d="M809.3 1343.2 809.3 1363.3"/>
<path d="M813.1 1343.2 813.1 1363.3"/>
<path d="M 818 1306.7 Q 811.9 1315.4 818 1324.1" stroke-width="2"/>
<path d="M830.2 1350.2 838.9 1360.7 846.7 1350.2" stroke-width="2"/>
<path d="M834.5 1350.2 840.3 1358 844.1 1350.2"/>
<path d="M701.2 1161.3 L654.5 1230 C630 1265 602 1303 584.5 1331 C580 1338 578 1345 577 1352" stroke-width="5"/>
<path d="M701.2 1161.3 L654.5 1230 C630 1265 602 1303 584.5 1331 C580 1338 578 1345 577 1352" stroke="#fff" stroke-width="1" stroke-dasharray="2 3"/>
<path d="M 1341.8 1153.1 L 765.5 1104 C 737.8 1104 719.8 1126.6 701.2 1161.3" stroke-width="5"/>
<path d="M1341.8 1153.1 L765.5 1104 C737.8 1104 719.8 1126.6 701.2 1161.3" stroke="#fff" stroke-width="1" stroke-dasharray="12 7"/>
<circle cx="766.5" cy="1162" r="22.3" stroke-width="3"/>
<path d="M 745.7 1155.9 L 747.3 1139.1 L 753.4 1133.9 L 779.9 1133.9 L 789 1139.1 L 790.5 1155.9" stroke-width="2"/>
<path d="M750.3 1139.1 786.9 1139.1"/>
<rect x="753.4" y="1158.3" width="7.6" height="7.3" stroke-width="2"/>
<circle cx="765.5" cy="1162" r="3" stroke-width="2"/>
<rect x="769.5" y="1159.5" width="6.7" height="5.5" stroke-width="2"/>
<rect x="869.2" y="1149.8" width="15.2" height="4.3"/>
<rect x="945.4" y="1128.4" width="25.9" height="4.6"/>
<rect x="818.3" y="1172" width="499.1" height="176.5"/>
<path d="M835.1 1172 835.1 1161.3 843.3 1158.9 869.2 1162 869.2 1164.4 1267.1 1164.4 1267.1 1162 1294.5 1158.9 1302.1 1161.3 1302.1 1172" stroke-width="2"/>
<path d="M838.7 1169.3 1299.1 1169.3" stroke-width="3"/>
<rect x="919.8" y="1158.3" width="14.6" height="13.7" stroke-width="2"/>
<rect x="921.6" y="1160.4" width="11" height="4.6" fill="#000"/>
<rect x="989.9" y="1158.3" width="14.6" height="13.7" stroke-width="2"/>
<rect x="991.8" y="1160.4" width="11" height="4.6" fill="#000"/>
<rect x="1061" y="1158.3" width="14.6" height="13.7" stroke-width="2"/>
<rect x="1062.8" y="1160.4" width="11" height="4.6" fill="#000"/>
<rect x="1133.2" y="1158.3" width="14.6" height="13.7" stroke-width="2"/>
<rect x="1135.1" y="1160.4" width="11" height="4.6" fill="#000"/>
<rect x="1203.4" y="1158.3" width="14.6" height="13.7" stroke-width="2"/>
<rect x="1205.2" y="1160.4" width="11" height="4.6" fill="#000"/>
<rect x="1023.2" y="1162.9" width="14.6" height="1.8" fill="#000"/>
<rect x="815.9" y="1326.6" width="17.4" height="17.7"/>
<rect x="1269.2" y="1325.1" width="52.1" height="19.2"/>
<path d="M 818.3 1306.8 Q 809.8 1314.4 818.3 1323.5" stroke-width="2"/>
<path d="M818.3 1348.5 1317.4 1348.5" stroke-width="3"/>
<rect x="937.8" y="1348.5" width="15.2" height="14"/>
<rect x="1183.2" y="1348.5" width="3" height="8.5"/>
<rect x="1241.2" y="1348.5" width="3" height="8.5"/>
<rect x="1299.1" y="1348.5" width="3" height="8.5"/>
<path d="M1164.9 1360.1 1181.7 1357.1 1305.2 1357.1 1322 1360.1" stroke-width="2"/>
<path d="M829.6 1350.4 838.7 1361.6 849.4 1350.4" stroke-width="2"/>
<path d="M870.7 1357.1 879.9 1355.5 886 1350.4" stroke-width="2"/>
<rect x="808.2" y="1337.3" width="5.2" height="25.3"/>
<rect x="805.2" y="1332.7" width="10.7" height="7.6" stroke-width="2"/>
<path d="M 1317.4 1292.4 L 1328 1293.7 L 1334.8 1296.1"/>
<path d="M 1317.4 1296.7 L 1334.8 1299.8"/>
<path d="M 1317.4 1312.9 L 1325 1313.8 Q 1330.5 1315.9 1330.5 1323.5 L 1330.5 1357.1" stroke-width="2"/>
<path d="M 1317.4 1316.8 L 1323.5 1317.4 Q 1326.5 1319 1326.5 1325.1 L 1326.5 1357.1"/>
<rect x="1322" y="1332.1" width="10.7" height="9.8" stroke-width="2"/>
<path d="M700 1363.5 1335.7 1363.5" stroke-width="3"/>
<path d="M800.6 1363.5 800.6 1524.8" stroke-width="2"/>
<rect x="855.2" y="1365" width="9.8" height="7.9" stroke-width="2"/>
<rect x="857.3" y="1358.6" width="5.5" height="4.9" stroke-width="2"/>
<rect x="993.9" y="1365" width="9.8" height="7.9" stroke-width="2"/>
<rect x="996" y="1358.6" width="5.5" height="4.9" stroke-width="2"/>
<rect x="1131.1" y="1365" width="9.8" height="7.9" stroke-width="2"/>
<rect x="1133.2" y="1358.6" width="5.5" height="4.9" stroke-width="2"/>
<rect x="1267.7" y="1365" width="9.8" height="7.9" stroke-width="2"/>
<rect x="1269.8" y="1358.6" width="5.5" height="4.9" stroke-width="2"/>
<rect x="863.4" y="1373.8" width="14.9" height="90.5" rx="5.5"/>
<circle cx="870.7" cy="1377.8" r="2.4" stroke="none" fill="#000"/>
<rect x="867.7" y="1458.3" width="5.5" height="3.7"/>
<path d="M1330.2 1363.5 1330.2 1520.2"/>
<path d="M1335.7 1162 1335.7 1520.2" stroke-width="2"/>
<path d="M1341.8 1160.4 1341.8 1520.2" stroke-width="2"/>
<path d="M1336 1159.5 1845.7 1159.5" stroke-width="2"/>
<path d="M1336 1162.6 1845.7 1162.6" stroke-width="2"/>
<path d="M1342.7 1169.6 1844.2 1169.6"/>
<path d="M1342.7 1159.5 1342.7 1518.7" stroke-width="2"/>
<path d="M1336 1159.5 1336 1518.7" stroke-width="2"/>
<path d="M1329.6 1366.2 1329.6 1518.7"/>
<path d="M1592.1 1162.6 1592.1 1405.9" stroke-width="2"/>
<path d="M1595.1 1162.6 1595.1 1405.9" stroke-width="2"/>
<path d="M1342.7 1405.9 1845.7 1405.9" stroke-width="2"/>
<path d="M1844.8 1162 1844.8 1469.3" stroke-width="6"/>
<path d="M1842.7 1405.9 1842.7 1514.1"/>
<path d="M1852.4 1162 1852.4 1209.2"/>
<path d="M1852.4 1469.9 1852.4 1514.1"/>
<circle cx="1351.2" cy="1172.6" r="4.4" stroke-width="3"/>
<rect x="1343.2" y="1164.6" width="16" height="16" rx="5"/>
<circle cx="1466.5" cy="1172.6" r="4.4" stroke-width="3"/>
<rect x="1458.5" y="1164.6" width="16" height="16" rx="5"/>
<circle cx="1581.4" cy="1172.6" r="4.4" stroke-width="3"/>
<rect x="1573.4" y="1164.6" width="16" height="16" rx="5"/>
<circle cx="1351.2" cy="1284.5" r="4.4" stroke-width="3"/>
<rect x="1343.2" y="1276.5" width="16" height="16" rx="5"/>
<circle cx="1581.4" cy="1284.5" r="4.4" stroke-width="3"/>
<rect x="1573.4" y="1276.5" width="16" height="16" rx="5"/>
<circle cx="1351.2" cy="1396.7" r="4.4" stroke-width="3"/>
<rect x="1343.2" y="1388.7" width="16" height="16" rx="5"/>
<circle cx="1466.5" cy="1396.7" r="4.4" stroke-width="3"/>
<rect x="1458.5" y="1388.7" width="16" height="16" rx="5"/>
<circle cx="1581.4" cy="1396.7" r="4.4" stroke-width="3"/>
<rect x="1573.4" y="1388.7" width="16" height="16" rx="5"/>
<circle cx="1603.4" cy="1172.6" r="4.4" stroke-width="3"/>
<rect x="1595.4" y="1164.6" width="16" height="16" rx="5"/>
<circle cx="1718.6" cy="1172.6" r="4.4" stroke-width="3"/>
<rect x="1710.6" y="1164.6" width="16" height="16" rx="5"/>
<circle cx="1834.1" cy="1172.6" r="4.4" stroke-width="3"/>
<rect x="1826.1" y="1164.6" width="16" height="16" rx="5"/>
<circle cx="1603.4" cy="1284.5" r="4.4" stroke-width="3"/>
<rect x="1595.4" y="1276.5" width="16" height="16" rx="5"/>
<circle cx="1834.1" cy="1284.5" r="4.4" stroke-width="3"/>
<rect x="1826.1" y="1276.5" width="16" height="16" rx="5"/>
<circle cx="1603.4" cy="1396.7" r="4.4" stroke-width="3"/>
<rect x="1595.4" y="1388.7" width="16" height="16" rx="5"/>
<circle cx="1718.6" cy="1396.7" r="4.4" stroke-width="3"/>
<rect x="1710.6" y="1388.7" width="16" height="16" rx="5"/>
<circle cx="1834.1" cy="1396.7" r="4.4" stroke-width="3"/>
<rect x="1826.1" y="1388.7" width="16" height="16" rx="5"/>
<circle cx="1448.8" cy="1248.2" r="67.1" stroke-width="2"/>
<circle cx="1448.8" cy="1200.7" r="9.8" stroke-width="2"/>
<rect x="1416.8" y="1243.7" width="8.5" height="8" stroke-width="2"/>
<rect x="1472.3" y="1243.7" width="8.5" height="8" stroke-width="2"/>
<path d="M1425.3 1249.7 1428.8 1251.7 1432.3 1260.7 1435.3 1262.7 1462.3 1262.7 1465.3 1260.7 1468.8 1251.7 1472.3 1249.7" stroke-width="2"/>
<path d="M1425.3 1244.7 1431.8 1246.7 1435.3 1256.7 1462.3 1256.7 1465.8 1246.7 1472.3 1244.7" stroke-width="2"/>
<rect x="1401.5" y="1276.3" width="14.9" height="52.7" stroke-width="2" fill="#fff"/>
<rect x="1480.5" y="1276.3" width="16.2" height="54.9" stroke-width="2" fill="#fff"/>
<path d="M1401.5 1314.4 1416.5 1314.4"/>
<path d="M1480.5 1314.4 1496.6 1314.4"/>
<rect x="1416.5" y="1315.9" width="15.2" height="9.1" fill="#000"/>
<rect x="1465.5" y="1315.9" width="14.9" height="9.1" fill="#000"/>
<rect x="1397" y="1317.4" width="4.6" height="5.5"/>
<rect x="1496.6" y="1317.4" width="4" height="5.5"/>
<rect x="1615" y="1280.2" width="8.5" height="8" stroke-width="2"/>
<rect x="1670.5" y="1280.2" width="8.5" height="8" stroke-width="2"/>
<path d="M1623.5 1286.2 1627 1288.2 1630.5 1297.2 1633.5 1299.2 1660.5 1299.2 1663.5 1297.2 1667 1288.2 1670.5 1286.2" stroke-width="2"/>
<path d="M1623.5 1281.2 1630 1283.2 1633.5 1293.2 1660.5 1293.2 1664 1283.2 1670.5 1281.2" stroke-width="2"/>
<rect x="1759.5" y="1280.2" width="8.5" height="8" stroke-width="2"/>
<rect x="1815" y="1280.2" width="8.5" height="8" stroke-width="2"/>
<path d="M1768 1286.2 1771.5 1288.2 1775 1297.2 1778 1299.2 1805 1299.2 1808 1297.2 1811.5 1288.2 1815 1286.2" stroke-width="2"/>
<path d="M1768 1281.2 1774.5 1283.2 1778 1293.2 1805 1293.2 1808.5 1283.2 1815 1281.2" stroke-width="2"/>
<rect x="1663.7" y="1382.1" width="33.5" height="10.1" stroke-width="2"/>
<rect x="1371.6" y="1406.8" width="14.6" height="9.8"/>
<rect x="1386.3" y="1408.9" width="14.3" height="6.1" stroke-width="2"/>
<path d="M1386.3 1412 1400.6 1412" stroke-width="2"/>
<rect x="1547.6" y="1406.8" width="14.6" height="9.8"/>
<rect x="1533.2" y="1408.9" width="14.3" height="6.1" stroke-width="2"/>
<path d="M1533.2 1412 1547.6 1412" stroke-width="2"/>
<rect x="1624.7" y="1406.8" width="13.7" height="9.8"/>
<rect x="1638.4" y="1408.9" width="13.7" height="6.1" stroke-width="2"/>
<path d="M1638.4 1412 1652.1 1412" stroke-width="2"/>
<rect x="1800" y="1406.8" width="14.3" height="9.8"/>
<rect x="1785.4" y="1408.9" width="14.6" height="6.1" stroke-width="2"/>
<path d="M1785.4 1412 1800 1412" stroke-width="2"/>
<rect x="1352.4" y="1434.2" width="259.1" height="82.9"/>
<circle cx="1389.3" cy="1455.2" r="10.1" stroke-width="2"/>
<circle cx="1573.5" cy="1455.2" r="10.1" stroke-width="2"/>
<rect x="1449.7" y="1452.5" width="8.5" height="8" stroke-width="2"/>
<rect x="1505.2" y="1452.5" width="8.5" height="8" stroke-width="2"/>
<path d="M1458.2 1458.5 1461.7 1460.5 1465.2 1469.5 1468.2 1471.5 1495.2 1471.5 1498.2 1469.5 1501.7 1460.5 1505.2 1458.5" stroke-width="2"/>
<path d="M1458.2 1453.5 1464.7 1455.5 1468.2 1465.5 1495.2 1465.5 1498.7 1455.5 1505.2 1453.5" stroke-width="2"/>
<path d="M 1474.7 1158.3 L 1474.7 1109.5 Q 1474.7 1103.4 1480.8 1103.4 L 1770.4 1103.4 Q 1776.5 1103.4 1776.5 1109.5 L 1776.5 1158.3" stroke-width="2"/>
<path d="M 1495.1 1102.5 L 1495.1 1093.4 Q 1495.1 1090.3 1499.7 1090.3 L 1752.1 1090.3 Q 1756.7 1090.3 1756.7 1093.4 L 1756.7 1102.5" stroke-width="2"/>
<path d="M 1498.8 1102.5 L 1498.8 1094.9 L 1753 1094.9 L 1753 1102.5"/>
<path d="M1495.1 1101.9 1756.7 1101.9" stroke-width="2"/>
<rect x="1539.6" y="1088.8" width="13.4" height="4.6" stroke-width="2"/>
<rect x="1539.6" y="1097.3" width="13.4" height="5.2" stroke-width="2"/>
<rect x="1619.5" y="1088.8" width="13.4" height="4.6" stroke-width="2"/>
<rect x="1619.5" y="1097.3" width="13.4" height="5.2" stroke-width="2"/>
<rect x="1698.8" y="1088.8" width="13.4" height="4.6" stroke-width="2"/>
<rect x="1698.8" y="1097.3" width="13.4" height="5.2" stroke-width="2"/>
<rect x="1507.3" y="1091.8" width="21.3" height="3"/>
<rect x="1720.7" y="1091.8" width="21.3" height="3"/>
<rect x="1455.5" y="1151.3" width="19.2" height="7"/>
<rect x="1776.5" y="1151.3" width="19.8" height="7"/>
<path d="M 1803 1158.3 Q 1812.2 1151.3 1819.8 1158.3" stroke-width="2"/>
<path d="M1362.5 1040 1362.5 1067.4 1359.8 1070.5 1356.7 1119.9 1345.7 1133 1345.7 1135.1 1383.8 1135.1 1383.8 1133 1373.2 1119.9 1370.7 1070.5 1367.7 1067.4 1367.7 1040" stroke-width="2"/>
<path d="M1359.8 1070.5 1370.7 1070.5"/>
<path d="M1356.7 1119.9 1373.2 1119.9"/>
<rect x="1350.3" y="1135.1" width="29" height="8.5" stroke-width="2"/>
<rect x="1342.7" y="1143.7" width="43.6" height="15.2" stroke-width="2"/>
<path d="M1342.7 1149.1 1386.3 1149.1"/>
<path d="M1833.5 1040 1833.5 1158.9" stroke-width="2"/>
<path d="M1844.2 1040 1844.2 1158.9" stroke-width="2"/>
<rect x="1364" y="372" width="3" height="355.5" fill="#000"/>
<rect x="1362.8" y="727.5" width="5.2" height="54.5"/>
<rect x="1360.8" y="782" width="7.8" height="235.5" stroke-width="2"/>
<rect x="1362.5" y="1017.5" width="5" height="50.5"/>
<rect x="1408.2" y="1044.6" width="15.2" height="68.6" stroke-width="2"/>
<path d="M1413.4 1049.1 1413.4 1110.1" stroke-width="2"/>
<rect x="1400.6" y="1049.1" width="7.6" height="13.7" stroke-width="2"/>
<rect x="1414.3" y="1055.2" width="19.8" height="12.2" fill="#000"/>
<rect x="1418.9" y="1058.3" width="10.7" height="3.7" stroke="none" fill="#fff"/>
<rect x="1414.3" y="1097.9" width="19.8" height="12.8" fill="#000"/>
<rect x="1418.9" y="1102.5" width="10.7" height="3.7" stroke="none" fill="#fff"/>
<rect x="1415.2" y="1067.4" width="6.7" height="4.6" stroke-width="2"/>
<rect x="1415.2" y="1094.9" width="6.7" height="3.7" stroke-width="2"/>
<path d="M 1400.6 1044.6 Q 1400.6 1043 1405.2 1043 L 1428 1043.7 Q 1438.7 1046.1 1440.2 1055.2" stroke-width="2"/>
<path d="M 1440.2 1055.2 Q 1458.5 1061.3 1458.5 1081.2 Q 1457 1104 1434.1 1110.1" stroke-width="2"/>
<circle cx="1440.9" cy="1058.3" r="2.7" stroke="none" fill="#000"/>
<rect x="1417.4" y="1113.2" width="10.7" height="19.8" stroke-width="2"/>
<rect x="1413.4" y="1129.9" width="6.1" height="6.1" fill="#000"/>
<path d="M1428 1116.2 1441.8 1116.2 1429.6 1128.4" stroke-width="2"/>
<path d="M1405.2 1140.6 1409.8 1137 1434.1 1137 1434.1 1158.3 1413.4 1158.3 1409.8 1146.7 1405.2 1145.2Z" stroke-width="2"/>
<path d="M 1452.4 1158.3 Q 1452.4 1138.2 1437.2 1140.3" stroke-width="2"/>
<path d="M 1460.1 1158.3 Q 1460.1 1136 1437.2 1136.6" stroke-width="2"/>
<path d="M 1467.7 1158.3 Q 1467.7 1133.6 1437.2 1132.7" stroke-width="2"/>
<path d="M 1475.3 1158.3 Q 1475.3 1131.5 1437.2 1129" stroke-width="2"/>
<path d="M1435.7 1158.3 1458.5 1137.6" stroke-width="2"/>
<path d="M1435.7 1149.8 1452.4 1134.5" stroke-width="2"/>
<path d="M1434.1 1129 1473.8 1129" stroke-width="2"/>
<rect x="1848.6" y="1209.2" width="92.4" height="260.1" stroke-width="2"/>
<path d="M1848.6 1249.8 1941 1249.8" stroke-width="2"/>
<path d="M1848.6 1253.4 1941 1253.4" stroke-width="2"/>
<rect x="1946.3" y="1209.2" width="92.4" height="260.1" stroke-width="2"/>
<path d="M1946.3 1249.8 2038.7 1249.8" stroke-width="2"/>
<path d="M1946.3 1253.4 2038.7 1253.4" stroke-width="2"/>
<rect x="2044.1" y="1209.2" width="92.4" height="260.1" stroke-width="2"/>
<path d="M2044.1 1249.8 2136.5 1249.8" stroke-width="2"/>
<path d="M2044.1 1253.4 2136.5 1253.4" stroke-width="2"/>
<rect x="2141.8" y="1209.2" width="92.4" height="260.1" stroke-width="2"/>
<path d="M2141.8 1249.8 2234.2 1249.8" stroke-width="2"/>
<path d="M2141.8 1253.4 2234.2 1253.4" stroke-width="2"/>
<rect x="2239.6" y="1209.2" width="92.4" height="260.1" stroke-width="2"/>
<path d="M2239.6 1249.8 2332 1249.8" stroke-width="2"/>
<path d="M2239.6 1253.4 2332 1253.4" stroke-width="2"/>
<rect x="2337.3" y="1209.2" width="92.4" height="260.1" stroke-width="2"/>
<path d="M2337.3 1249.8 2429.7 1249.8" stroke-width="2"/>
<path d="M2337.3 1253.4 2429.7 1253.4" stroke-width="2"/>
<rect x="2435.1" y="1209.2" width="92.4" height="260.1" stroke-width="2"/>
<path d="M2435.1 1249.8 2527.4 1249.8" stroke-width="2"/>
<path d="M2435.1 1253.4 2527.4 1253.4" stroke-width="2"/>
<path d="M1839 1469.3 2527.4 1469.3" stroke-width="2"/>
<path d="M2353.4 1469.3 2353.4 1508.6"/>
<path d="M2356.4 1469.3 2356.4 1508.6"/>
<rect x="1837.5" y="1212.3" width="7.6" height="8.2"/>
<path d="M1852.8 1162 1852.8 1209"/>
<path d="M2074.7 928 2074.7 875.7 2076.5 873.5 2135.9 873.5 2135.9 928 2111.3 928"/>
<path d="M2076.5 873.5 2135.9 873.5" stroke-width="2"/>
<rect x="2130.5" y="884.4" width="10.9" height="32.7" rx="1.7"/>
<rect x="2135.9" y="884.4" width="5.4" height="6.5"/>
<rect x="2135.9" y="911" width="5.4" height="6.1"/>
<rect x="2137" y="896.8" width="2.6" height="10.9" fill="#000"/>
<rect x="2073.2" y="884.4" width="6.5" height="6.1"/>
<rect x="2068.4" y="896.8" width="7" height="8.7" fill="#000"/>
<path d="M 2081.9 906.6 Q 2083 890.3 2096.1 889.2 Q 2105.9 889.2 2107 891.4" stroke-width="2"/>
<path d="M 2086.3 904.4 Q 2087.4 893.6 2096.1 892.5 Q 2102.6 892.5 2105.9 894.6"/>
<ellipse cx="2096.1" cy="901.2" rx="9.1" ry="8.7" fill="#000"/>
<rect x="2092.2" y="896.2" width="3.5" height="2.8" stroke="none" fill="#fff"/>
<rect x="2097.4" y="896.2" width="3.5" height="2.8" stroke="none" fill="#fff"/>
<rect x="2095" y="901.8" width="3.3" height="2.6" stroke="none" fill="#fff"/>
<rect x="2091.7" y="909.9" width="9.8" height="12"/>
<rect x="2079.7" y="909.9" width="8.7" height="18.5" fill="#000"/>
<rect x="2082.6" y="913.2" width="2.6" height="10.9" stroke="none" fill="#fff"/>
<path d="M2102.6 911 2114.6 911 2114.6 919.7 2109.1 919.7" stroke-width="2"/>
<path d="M2111.3 900.1 2111.3 913.2"/>
<rect x="2086.3" y="921.9" width="5.4" height="15.2" fill="#000"/>
<rect x="2102.6" y="923" width="8.7" height="5"/>
<path d="M2089.5 923 2089.5 975.2"/>
<path d="M2095 923 2095 975.2"/>
<path d="M2098.3 923 2098.3 975.2"/>
<path d="M2103.7 923 2103.7 975.2"/>
<rect x="2087.4" y="974.1" width="18.5" height="6.5"/>
<path d="M2035.1 989.4 2047.1 987.2 2047.1 981.8 2049.3 981.8 2049.3 983.9 2077.6 983.9 2077.6 980.7" stroke-width="2"/>
<path d="M2035.1 989.4 2035.1 1009 2039.5 1022 2047.1 1024.2" stroke-width="2"/>
<path d="M2063.4 975.2 2067.8 975.2 2067.8 972 2065.6 972 2065.6 980.7 2080.8 980.7" stroke-width="2"/>
<rect x="2064.5" y="976.3" width="14.2" height="7"/>
<rect x="2052.5" y="989.4" width="18.5" height="16.3" stroke-width="2"/>
<rect x="2058" y="991.6" width="4.4" height="2.2" fill="#000"/>
<rect x="2064.5" y="991.6" width="3.3" height="2.2" fill="#000"/>
<path d="M2047.1 987.2 2047.1 1015.5 2078.7 1005.7 2078.7 989.4" stroke-width="2"/>
<path d="M2039.5 991.6 2039.5 1006.8 2043.8 1015.5" stroke-width="2"/>
<path d="M2071 1005.7 2089.5 989.4 2109.1 989.4" stroke-width="2"/>
<path d="M2076.5 1002.4 2087.4 987.2" stroke-width="2"/>
<path d="M2080.8 1006.8 2096.1 989.4 2100.4 1002.4" stroke-width="2"/>
<path d="M2089.5 991.6 2107 1006.8" stroke-width="2"/>
<path d="M2093.9 1006.8 2109.1 993.7" stroke-width="2"/>
<circle cx="2095" cy="995.5" r="4.8" stroke-width="2"/>
<path d="M2080.8 980.7 2109.1 980.7 2109.1 1011.1" stroke-width="2"/>
<path d="M2110.2 974.1 2110.2 989.4 2130.9 989.4" stroke-width="2"/>
<rect x="2111.3" y="977.4" width="18.5" height="3.3" fill="#000"/>
<rect x="2112.4" y="982.8" width="9.8" height="13.1" stroke-width="2"/>
<path d="M2110.2 974.1 2129.8 970.9" stroke-width="2"/>
<path d="M2114.6 995.9 2133.1 998.1" stroke-width="2"/>
<path d="M2035.1 1030.7 2041.6 1024.2 2046 1027.5 2040.5 1039.5 2035.1 1037.3 2035.1 1030.7" stroke-width="2"/>
<path d="M2041.6 1011.1 2046 1022 2052.5 1018.8" stroke-width="2"/>
<circle cx="2079.7" cy="1045.3" r="36.1" stroke-width="2"/>
<rect x="2070.2" y="1023.3" width="3.9" height="3.9" fill="#000"/>
<rect x="2071.5" y="1024.7" width="1.3" height="1.3" stroke="none" fill="#fff"/>
<rect x="2060.4" y="1034.9" width="3.9" height="3.9" fill="#000"/>
<rect x="2061.7" y="1036.2" width="1.3" height="1.3" stroke="none" fill="#fff"/>
<rect x="2093" y="1029.2" width="3.9" height="3.9" fill="#000"/>
<rect x="2094.3" y="1030.5" width="1.3" height="1.3" stroke="none" fill="#fff"/>
<rect x="2095.2" y="1044.7" width="3.9" height="3.9" fill="#000"/>
<rect x="2096.5" y="1046" width="1.3" height="1.3" stroke="none" fill="#fff"/>
<path d="M2068.9 1051.4 2080.8 1050.3 2081.9 1055.8 2077.6 1056.9 2072.1 1074.3 2066.7 1076.5 2067.8 1071 2074.3 1056.9 2068.9 1055.8Z" fill="#000"/>
<rect x="2080.8" y="1053.6" width="3.9" height="3.3" fill="#000"/>
<path d="M2130.9 980.7 2129.8 963.2 2183.2 951.3 2186.5 948 2189.7 949.1 2189.7 954.1 2207.1 954.1 2209.3 958.9 2235.5 1058 2239.8 1073.2 2154.9 1087.4 2152.7 1069.9"/>
<path d="M2130.9 968.7 2207.1 958.9"/>
<path d="M2133.1 964.3 2185.4 952.4" stroke-width="2"/>
<path d="M2141.8 963.2 2187.5 956.7" stroke-width="2"/>
<path d="M2157.1 968.7 2198.4 957.8" stroke-width="2"/>
<path d="M2127.7 963.2 2127.7 975.2 2134.2 977.4 2134.2 963.2Z" fill="#000"/>
<path d="M2130.9 980.7 2152.7 1069.9 2235.5 1056.9"/>
<path d="M2161.4 980.7 2183.2 1069.9"/>
<path d="M2161.4 980.7 2157.1 969.3 2196.3 963.2"/>
<path d="M2202.8 958.9 2226.7 1056.9"/>
<path d="M2209.3 972 2220.2 1019.9 2233.3 1056.9"/>
<path d="M2170.1 976.3 2194.1 972 2195.2 977.4 2172.3 982.8 2170.1 976.3" stroke-width="2"/>
<rect x="2174.5" y="974.1" width="10.9" height="4.4"/>
<path d="M2153.8 1078.7 2238.7 1065.6"/>
<path d="M2153.8 1071 2154.9 1087.4"/>
<rect x="2171.9" y="1076.5" width="3.7" height="4.8" fill="#000"/>
<path d="M2195.2 1048.2 2205 1046 2207.1 1053.6 2212.6 1065.6 2214.8 1087.4 2210.4 1090.6 2207.1 1080.8 2203.9 1067.8 2197.3 1054.7Z" stroke-width="2"/>
<path d="M2198.4 1053.6 2208.2 1051.4"/>
<path d="M2202.8 1065.6 2211.5 1062.3"/>
<path d="M2206.1 1067.8 2211.5 1089.5" stroke-width="2"/>
<path d="M2120 1100.4 2211.5 1084.1 2218 1084.1" stroke-width="2"/>
<path d="M2157.1 1111.3 2211.5 1087.4"/>
<path d="M2116.8 1077.6 2128.7 1074.3 2150.5 1068.9"/>
<path d="M2128.7 1059.1 2148.3 1053.6 2151.6 1080.8 2133.1 1088.5 2128.7 1074.3"/>
<path d="M2133.1 1067.8 2133.1 1088.5 2139.6 1093.9 2152.7 1084.1"/>
<path d="M2116.8 1035.1 2144 1035.1 2146.2 1037.3" stroke-width="2"/>
<path d="M2116.8 1035.1 2117.9 1042.7 2141.8 1037.3Z" fill="#000"/>
<path d="M2133.1 1002.4 2144 1046 2141.8 1059.1 2150.5 1054.7"/>
<path d="M2104.8 1015.5 2114.6 1030.7 2115.7 1043.8" stroke-width="2"/>
<path d="M2107 1067.8 2111.3 1065.6 2111.3 1076.5 2107 1077.6" stroke-width="2"/>
<path d="M2102.6 1074.3 2102.6 1086.3 2113.5 1089.5" stroke-width="2"/>
<path d="M2086.3 1080.8 2093.9 1077.6 2095 1084.1 2102.6 1087.4 2111.3 1086.3 2113.5 1091.7 2098.3 1097.2 2088.5 1089.5 2086.3 1080.8" stroke-width="2"/>
<path d="M2089.5 1085.2 2100.4 1093.9" stroke-width="2"/>
<path d="M2050.3 1078.7 2059.1 1080.8 2080.8 1080.4" stroke-width="2"/>
<path d="M2117.9 1100.4 2126.6 1100.4 2126.6 1111.3 2120 1111.3 2117.9 1100.4" stroke-width="2"/>
<path d="M2041.6 1067.8 2054.7 1103.7"/>
<path d="M2104.8 1080.8 2116.8 1111.3"/>
<path d="M2035.1 1059.1 2042.7 1059.1 2042.7 1076.5 2030.7 1076.5"/>
<rect x="2034.7" y="1058.6" width="4.8" height="5.9"/>
<path d="M2038.4 1064.5 2038.4 1076.5"/>
<circle cx="2017.2" cy="1063.4" r="6.5" stroke-width="2"/>
<path d="M1995.9 1068.9 1998.1 1068.9 1998.1 1071 2011.1 1071" stroke-width="2"/>
<path d="M2023.1 1065.6 2030.7 1064.5" stroke-width="2"/>
<path d="M2019.9 1069.9 2019.9 1076.5 2030.7 1076.5"/>
<path d="M 1915.3 1102.6 Q 1941.5 1086.3 1972 1079.7 L 1995.9 1074.3 L 2011.1 1074.3"/>
<path d="M 1915.3 1107 L 1952.4 1090.6 L 2006.8 1090.6"/>
<path d="M1915.3 1102.6 1915.3 1112.4 1941.5 1114.6"/>
<path d="M1915.3 1112.4 1937.1 1128.7"/>
<path d="M1921.9 1107 1945.8 1096.1"/>
<rect x="1953.4" y="1090.6" width="53.4" height="5.4"/>
<path d="M2011.1 1084.1 2027.5 1084.1 2027.5 1089.5 2022 1090.6 2022 1133.1"/>
<path d="M2013.3 1084.1 2013.3 1088.5 2022 1088.5"/>
<path d="M1950.2 1096.1 1945.8 1114.6 1945.8 1133.1 2022 1133.1" stroke-width="2"/>
<path d="M1952.4 1096.1 1949.1 1114.6"/>
<path d="M1961.1 1100.4 1961.1 1112.4 2002.4 1112.4 2002.4 1100.4 1961.1 1100.4"/>
<path d="M1963.2 1103.7 2000.3 1103.7"/>
<path d="M2006.8 1096.1 2013.3 1112.4 2011.1 1133.1"/>
<path d="M2011.1 1096.1 2017.7 1111.3 2017.7 1120"/>
<path d="M1945.8 1114.6 1978.5 1113.5 2013.3 1112.4" stroke-width="2"/>
<path d="M 1949.1 1133.1 Q 1946.9 1122.2 1952.4 1118.3 L 2011.1 1118.3 L 2002.4 1133.1"/>
<path d="M2002.4 1133.1 2006.8 1121.1 2015.5 1120"/>
<path d="M1939.3 1124.4 1945.8 1124.4 1945.8 1130.9 1939.3 1130.9"/>
<path d="M1927.3 1130.9 1945.8 1130.9" stroke-width="2"/>
<path d="M2027.5 1084.1 2032.9 1076.5 2041.6 1076.5 2054.7 1103.7"/>
<path d="M2022 1090.6 2027.5 1088.5"/>
<ellipse cx="2034.7" cy="1096.7" rx="6.1" ry="3.5" stroke-width="2"/>
<ellipse cx="2034.7" cy="1096.7" rx="3" ry="1.5" stroke="none" fill="#000"/>
<rect x="2035.1" y="1121.8" width="3.9" height="3" fill="#000"/>
<rect x="2044.9" y="1103.7" width="57.7" height="6.5" fill="#000"/>
<path d="M2047.1 1110.2 2047.1 1129.8 2103.7 1129.8 2103.7 1110.2" stroke-width="2"/>
<ellipse cx="2059.1" cy="1119.6" rx="10.5" ry="10.5" fill="#000"/>
<rect x="2072.1" y="1110.2" width="5.4" height="14.2" fill="#000"/>
<path d="M2080.8 1110.2 2080.8 1122.2 2089.5 1128.7" stroke-width="2"/>
<path d="M2085.2 1113.5 2100.4 1126.6"/>
<path d="M2096.1 1111.3 2103.7 1120"/>
<path d="M2047.1 1124.4 2103.7 1124.4"/>
<rect x="2049.3" y="1129.8" width="8.7" height="7.2" stroke-width="2"/>
<rect x="2077.6" y="1129.8" width="38.1" height="7.2"/>
<rect x="2100.4" y="1112.4" width="52.3" height="3.3"/>
<rect x="2115.7" y="1115.7" width="9.8" height="21.3"/>
<path d="M2125.5 1120 2141.8 1127.7 2141.8 1137"/>
<path d="M2129.8 1122.2 2129.8 1133.1 2141.8 1133.1"/>
<rect x="2139.6" y="1115.7" width="3.3" height="2.6"/>
<rect x="2147.3" y="1115.7" width="3.3" height="2.6"/>
<rect x="1887" y="1137" width="257" height="3.7" stroke-width="2"/>
<path d="M1887 1138.8 2144 1138.8"/>
<path d="M1887 1137 1869.6 1142.9 1867.9 1150.5 1871.8 1150.5 1871.8 1158.1"/>
<path d="M1887 1140.7 1881.6 1144 1880.5 1150.5 1889.2 1148.8"/>
<path d="M1876.1 1140.7 1893.6 1140.7" stroke-width="2"/>
<path d="M1880.5 1145.1 1893.6 1142.9" stroke-width="2"/>
<path d="M1890.3 1144 2135.3 1144"/>
<path d="M1952.4 1148.8 2135.3 1148.8" stroke-width="2"/>
<path d="M1890.3 1146.6 1952.4 1146.6"/>
<path d="M1956.7 1140.7 1956.7 1148.8"/>
<path d="M1985 1140.7 1985 1148.8"/>
<path d="M1998.1 1140.7 1998.1 1148.8"/>
<path d="M2028.6 1140.7 2028.6 1148.8"/>
<path d="M2041.6 1140.7 2041.6 1148.8"/>
<path d="M2069.9 1140.7 2069.9 1148.8"/>
<path d="M2083 1140.7 2083 1148.8"/>
<path d="M2107 1140.7 2107 1148.8"/>
<path d="M2113.5 1140.7 2113.5 1148.8"/>
<path d="M2124.4 1140.7 2124.4 1148.8"/>
<path d="M1933.8 1141.8 1945.8 1141.8 1945.8 1150.5 1939.3 1150.5 1933.8 1146.2Z" fill="#000"/>
<path d="M1882.7 1148.8 1952.4 1151.6 1952.4 1163.6"/>
<path d="M1871.8 1150.5 1882.7 1148.8"/>
<path d="M1876.1 1158.1 1880.5 1154.9 1887 1159.2"/>
<path d="M1940.4 1161.4 1942.6 1154.9 1945.8 1154.9 1948 1161.4"/>
<path d="M1948 1158.1 1956.7 1161.4"/>
<rect x="1980.7" y="1160.3" width="7.6" height="3.3"/>
<circle cx="1902.3" cy="1115.7" r="10.2" stroke-width="2"/>
<circle cx="1902.3" cy="1115.7" r="6.5" fill="#000"/>
<rect x="1896.8" y="1126.1" width="6.5" height="10.9"/>
<path d="M1850 1076.5 1867.4 1091.7 1867.4 1095 1850 1081.3"/>
<path d="M1867.4 1095 1874 1090.6 1882.7 1092.8 1890.3 1100.4 1892.5 1107"/>
<path d="M1866.3 1098.3 1866.3 1108.1 1891.4 1121.1"/>
<path d="M1867.4 1095 1892.5 1111.3"/>
<path d="M1869.6 1108.1 1889.2 1118.9 1889.2 1121.1 1871.8 1121.1 1871.8 1118.9 1882.7 1118.9Z" fill="#000"/>
<path d="M1890.3 1101.5 1902.3 1101.5 1902.3 1104.8" stroke-width="2"/>
<path d="M1913.2 1108.1 1921.9 1102.6"/>
<path d="M1912.1 1122.2 1915.3 1128.7 1945.8 1128.7"/>
<path d="M1915.3 1117.9 1937.1 1128.7"/>
<path d="M2212.6 965.4 2247.4 965.4 2247.4 1007.9 2233.3 1007.9"/>
<path d="M 2213.7 972 L 2226.7 972 Q 2233.3 973 2233.3 980.7 L 2233.3 1006.8"/>
<path d="M2212.6 965.4 2220.2 1006.8"/>
<rect x="2215.9" y="980.7" width="17.4" height="5.4"/>
<rect x="2215.9" y="986.1" width="17.4" height="3.3" fill="#000"/>
<rect x="2218" y="991.6" width="15.2" height="10.9"/>
<rect x="2238.3" y="972" width="3.7" height="4.8" fill="#000"/>
<rect x="2238.3" y="998.1" width="3.7" height="4.4" fill="#000"/>
<path d="M2221.3 1007.9 2221.3 1012.2 2228.9 1012.2 2228.9 1027.5 2245.9 1027.5 2245.9 1007.9"/>
<path d="M2221.3 1010.1 2245.9 1010.1"/>
<rect x="2247.4" y="1002.4" width="2.2" height="17.4" fill="#000"/>
<rect x="2249.6" y="987.2" width="15.2" height="31.6"/>
<path d="M2249.6 1005.1 2264.9 1005.1"/>
<path d="M2264.9 989.4 2350 989.4"/>
<path d="M2264.9 1002.4 2294.3 1002.4"/>
<path d="M2294.3 1003.5 2350 1003.5" stroke-width="2"/>
<path d="M2264.9 1005.1 2273.6 1005.1 2273.6 1015.9 2350 1015.9"/>
<path d="M2264.9 1015.9 2273.6 1015.9"/>
<rect x="2286.6" y="996.3" width="18.1" height="3.9"/>
<path d="M2286.6 998.3 2304.7 998.3"/>
<path d="M 2350 963.2 L 2343.2 963.2 Q 2341.1 963.2 2341.1 966.5 L 2341.1 969.8 Q 2341.1 972 2343.2 972 L 2350 972" stroke-width="2"/>
<path d="M2344.3 966.5 2350 966.5"/>
<path d="M679.2 1694.4 679.2 1780.4 706.4 1780.4 706.4 1694.4" stroke-width="2"/>
<path d="M685.7 1694.4 685.7 1780.4" stroke-width="2"/>
<rect x="674.4" y="1781.5" width="21.1" height="4.4" stroke-width="2"/>
<path d="M 729.3 1705.2 L 721 1757.5 L 721 1766.2 Q 722.8 1777.1 731.5 1783.6 L 748.9 1792.4 L 781.6 1792.4" stroke-width="2"/>
<path d="M 734.7 1707 L 726.7 1757.5 Q 726 1772.8 738 1781.5" stroke-width="2"/>
<path d="M706.4 1772.8 721 1772.8"/>
<path d="M711.9 1696.1 796.8 1731.4"/>
<path d="M673 1363.3 673 1580.7" stroke-width="2"/>
<path d="M671.6 1580.7 767.1 1580.7" stroke-width="2"/>
<path d="M673 1583.7 763.6 1583.7"/>
<path d="M800.2 1363.3 800.2 1524.4" stroke-width="3"/>
<rect x="725.8" y="1483.1" width="8.5" height="8" stroke-width="2"/>
<rect x="781.3" y="1483.1" width="8.5" height="8" stroke-width="2"/>
<path d="M734.3 1489.1 737.8 1491.1 741.3 1500.1 744.3 1502.1 771.3 1502.1 774.3 1500.1 777.8 1491.1 781.3 1489.1" stroke-width="2"/>
<path d="M734.3 1484.1 740.8 1486.1 744.3 1496.1 771.3 1496.1 774.8 1486.1 781.3 1484.1" stroke-width="2"/>
<path d="M764.5 1584.5 774.9 1561.5 794.1 1551.8" stroke-width="2"/>
<path d="M767.9 1586.3 778.4 1564 794.1 1556.7" stroke-width="2"/>
<rect x="785.4" y="1561" width="7" height="7.8" rx="1.7" stroke-width="2"/>
<rect x="749.7" y="1593.2" width="7" height="7" rx="1.4" stroke-width="2"/>
<path d="M794.1 1604.6 760.1 1588.9 713.1 1694.3 794.1 1731.7" stroke-width="2"/>
<rect x="784.1" y="1612.4" width="7.3" height="21.8" fill="#000"/>
<rect x="785.5" y="1619.4" width="4.5" height="7.8" stroke="none" fill="#fff"/>
<path d="M786.2 1620.2 786.2 1626.3"/>
<path d="M789.4 1620.2 789.4 1626.3"/>
<path d="M786.2 1623.2 789.4 1623.2"/>
<path d="M738.3 1693.4 760.1 1702.1 758.4 1708.2 736.6 1699.2Z" fill="#000"/>
<rect x="752.3" y="1701.3" width="3.5" height="3.5" stroke="none" fill="#fff"/>
<path d="M710.5 1682.1 716.6 1680.3 718.3 1687.3 712.2 1689.1Z" fill="#000"/>
<path d="M 683.4 1583.7 L 683.4 1602 Q 685.2 1615.9 697.4 1629.8 L 719.2 1651.6 L 719.2 1664.7" stroke-width="2"/>
<path d="M 689.5 1583.7 L 689.5 1602 Q 691.3 1614.1 702.6 1626.3 L 719.2 1643.8" stroke-width="2"/>
<path d="M673 1608.9 681.7 1629.8 719.2 1673.4" stroke-width="2"/>
<path d="M719.2 1649 732.2 1649"/>
<rect x="592" y="1482.1" width="76.7" height="3.1" stroke-width="2"/>
<rect x="597.2" y="1485.2" width="46.2" height="3.5" stroke-width="2"/>
<rect x="602.4" y="1488.7" width="38.3" height="4.4" stroke-width="2"/>
<path d="M612.9 1493.1 612.9 1513.1" stroke-width="2"/>
<path d="M626 1493.1 626 1510.5"/>
<path d="M626 1506.1 671.3 1492.2" stroke-width="2"/>
<path d="M626 1510.5 671.3 1497.4" stroke-width="2"/>
<path d="M603.3 1515.7 624.2 1511.4 657.3 1500.9" stroke-width="2"/>
<path d="M603.3 1515.7 603.3 1537.5 632.9 1547.9" stroke-width="2"/>
<path d="M607.7 1517.5 607.7 1532.3 617.2 1535.7" stroke-width="2"/>
<path d="M613.8 1513.1 617.2 1532.3 646.9 1511.4" stroke-width="2"/>
<path d="M617.2 1539.2 657.3 1500.9 666 1495.7" stroke-width="2"/>
<path d="M624.2 1511.4 626 1525.3 641.6 1521.8" stroke-width="2"/>
<path d="M624.2 1532.3 646.9 1532.3 641.6 1544.5" stroke-width="2"/>
<path d="M666 1506.1 646.9 1532.3" stroke-width="2"/>
<rect x="657.3" y="1494.8" width="8.7" height="7.8" stroke-width="2"/>
<path d="M641.6 1521.8 652.1 1521.8 655.6 1514.8" stroke-width="2"/>
<path d="M603.3 1537.5 612 1541.8" stroke-width="2"/>
<path d="M 632.9 1547.9 L 639 1545.3 L 650.3 1556.7 L 656.4 1551.4 L 661.7 1554.9 L 656.4 1562.8 L 639.9 1565.4 L 632.9 1558.4 Z" stroke-width="2"/>
<path d="M634.7 1549.7 643.4 1560.1 650.3 1560.1" stroke-width="2"/>
<path d="M 613.8 1544.5 Q 606.8 1553.2 607.7 1570.6 Q 608.5 1591.5 627.7 1614.1" stroke-width="2"/>
<path d="M603.3 1548.8 603.3 1622.9 613.8 1628.1" stroke-width="2"/>
<path d="M603.3 1548.8 612 1547.1" stroke-width="2"/>
<path d="M605.9 1553.2 605.9 1577.6" stroke-width="2"/>
<path d="M605.1 1591.5 617.2 1595 627.7 1614.1 646.9 1617.6" stroke-width="2"/>
<path d="M605.1 1602 626 1612.4" stroke-width="2"/>
<path d="M605.1 1605.4 634.7 1619.4 645.1 1624.6" stroke-width="2"/>
<path d="M617.2 1595 624.2 1608.9" stroke-width="2"/>
<circle cx="635" cy="1592.9" r="9.1" stroke-width="2"/>
<path d="M630.3 1600.2 630.3 1603.7 639.9 1603.7 639.9 1600.2" stroke-width="2"/>
<path d="M646.9 1617.6 652.1 1593.2 662.5 1593.2 662.5 1602 652.1 1610.7" stroke-width="2"/>
<rect x="656.4" y="1593.2" width="6.1" height="8.7" stroke-width="2"/>
<path d="M642.5 1571.5 656.4 1570.6" stroke-width="2"/>
<path d="M656.4 1563.6 656.4 1593.2"/>
<rect x="664.6" y="1544.5" width="7" height="54" stroke-width="2"/>
<path d="M664.6 1550.6 671.6 1550.6"/>
<path d="M646.9 1617.6 648.6 1628.1 671.3 1608.9" stroke-width="2"/>
<path d="M605.9 1622.9 641.6 1631.6" stroke-width="2"/>
<path d="M634.7 1619.4 645.1 1624.6 648.6 1628.1" stroke-width="2"/>
<path d="M613.8 1628.1 613.8 1636.8 624.2 1633.3 641.6 1631.6" stroke-width="2"/>
<path d="M468.3 1670.8 470.9 1666.4 490.1 1662.9 490.9 1669.9 493.6 1697.8 490.9 1698.6 491.8 1704.7 483.1 1707.4 480.5 1700.4 472.6 1697.8 470.9 1689.1 469.2 1676.9Z" stroke-width="2"/>
<path d="M470.9 1676.9 489.2 1674.3" stroke-width="2"/>
<path d="M471.8 1684.7 490.1 1682.1" stroke-width="2"/>
<path d="M473.5 1691.7 490.9 1689.1" stroke-width="2"/>
<path d="M476.1 1697.8 491.8 1696" stroke-width="2"/>
<path d="M472.6 1669.9 490.1 1667.3" stroke-width="2"/>
<path d="M490.9 1667.3 507.5 1660.3 521.4 1660.3" stroke-width="2"/>
<path d="M493.6 1697.8 507.5 1696.9 523.2 1696" stroke-width="2"/>
<path d="M 500.5 1664.7 Q 496.2 1678.6 502.3 1695.2" stroke-width="2"/>
<path d="M 505.7 1662.1 Q 500.5 1678.6 507.5 1696" stroke-width="2"/>
<path d="M 494.4 1668.2 Q 491.8 1682.1 495.6 1696.9" stroke-width="2"/>
<path d="M 521.4 1660.3 Q 526.7 1649.9 537.1 1648.6 L 542.3 1649 L 542.3 1654.2 L 524.9 1657.7" stroke-width="2"/>
<path d="M542.3 1651.6 575.4 1648.1" stroke-width="2"/>
<path d="M542.3 1654.2 575.4 1649.9" stroke-width="2"/>
<path d="M 526.7 1656 Q 514.5 1664.7 517.1 1678.6 Q 519.7 1689.1 528.4 1691.7 L 578.9 1685.6" stroke-width="2"/>
<path d="M523.2 1696 578.9 1706.5 578.9 1687.3" stroke-width="2"/>
<path d="M524.9 1692.5 537.1 1697.8" stroke-width="2"/>
<path d="M552.8 1666.4 552.8 1674.3" stroke-width="2"/>
<path d="M 598.1 1634.2 Q 578.9 1636.8 576.3 1657.7 Q 574.6 1675.1 582.4 1686.4" stroke-width="3"/>
<path d="M 599.8 1636.8 Q 584.1 1639.4 580.7 1657.7 Q 578.9 1673.4 587.6 1685.6" stroke-width="2"/>
<path d="M 596.3 1647.2 Q 585.9 1661.2 598.1 1676.9" stroke-width="3"/>
<path d="M 602.4 1647.2 Q 592 1661.2 604.2 1676.9" stroke-width="3"/>
<path d="M 608.5 1647.2 Q 598.1 1661.2 610.3 1676.9" stroke-width="3"/>
<path d="M 614.6 1647.2 Q 604.2 1661.2 616.4 1676.9" stroke-width="3"/>
<path d="M 620.7 1647.2 Q 610.3 1661.2 622.5 1676.9" stroke-width="3"/>
<path d="M 594.6 1645.5 Q 584.1 1661.2 598.1 1678.6 L 624.2 1676 Q 613.8 1661.2 617.2 1643.8 Z" stroke-width="2"/>
<path d="M598.1 1678.6 606.8 1680.3 624.2 1676" stroke-width="3"/>
<path d="M594.6 1645.5 603.3 1641.1 617.2 1643.8" stroke-width="3"/>
<path d="M617.2 1643.8 657.3 1634.2" stroke-width="2"/>
<path d="M624.2 1676 667.8 1669" stroke-width="2"/>
<path d="M 657.3 1634.2 Q 646.9 1640.3 648.6 1654.2 Q 650.3 1667.3 667.8 1669" stroke-width="3"/>
<path d="M 661.7 1636.8 Q 652.1 1642 653.8 1654.2 Q 655.6 1664.7 669.5 1666.4" stroke-width="2"/>
<path d="M598.1 1636.8 613.8 1633.3 622.5 1631.6 641.6 1631.6 657.3 1634.2" stroke-width="2"/>
<path d="M613.8 1633.3 614.6 1640.3" stroke-width="2"/>
<path d="M622.5 1631.6 624.2 1638.5" stroke-width="2"/>
<rect x="601.6" y="1635.9" width="10.5" height="5.2" fill="#000"/>
<path d="M 657.3 1624.6 Q 667.8 1619.4 674.7 1624.6 L 678.2 1633.3 L 657.3 1634.2 Z" stroke-width="2"/>
<rect x="661.7" y="1624.6" width="10.5" height="7" fill="#000"/>
<rect x="665.2" y="1626" width="4.7" height="3.5" stroke="none" fill="#fff"/>
<path d="M659.1 1642 681.7 1640.3 683.4 1654.2 690.4 1655.1 691.3 1659.4 683.4 1661.2 659.1 1662.9" stroke-width="2"/>
<path d="M659.1 1647.2 680 1645.5" stroke-width="2"/>
<path d="M 664.3 1643.8 Q 659.9 1651.6 664.3 1657.7" stroke-width="2"/>
<path d="M 671.3 1643.8 Q 666.9 1651.6 671.3 1656.8" stroke-width="2"/>
<rect x="674.7" y="1661.2" width="11.3" height="12.2" stroke-width="2"/>
<rect x="676.5" y="1667.3" width="7" height="4.4" stroke-width="2"/>
<path d="M683.4 1633.3 686.9 1636.8 690.4 1636.8" stroke-width="2"/>
<path d="M 578.9 1685.6 Q 585.9 1696 599.8 1696 L 711.3 1691.7" stroke-width="3"/>
<path d="M 584.1 1680.3 Q 589.4 1691.7 601.6 1692.9 L 711.3 1689.9" stroke-width="2"/>
<path d="M582.4 1676.9 589.4 1675.1 591.1 1680.3 585 1683Z" fill="#000"/>
<path d="M607.7 1696.9 666 1695.2" stroke-width="3"/>
<path d="M578.9 1687.3 578.9 1719.5 587.6 1722.2 592.9 1720.4 592.9 1696" stroke-width="2"/>
<path d="M592.9 1713.4 678.2 1751.8" stroke-width="2"/>
<path d="M592.9 1717.8 678.2 1756.1" stroke-width="2"/>
<path d="M592.9 1723 674.7 1760" stroke-width="2"/>
<path d="M678.2 1696 678.2 1760" stroke-width="2"/>
<path d="M684.3 1696 684.3 1760" stroke-width="2"/>
<path d="M706.1 1693.4 706.1 1760" stroke-width="2"/>
<path d="M711.3 1695.2 696.5 1727.4 700.9 1730 714.8 1698.6" stroke-width="2"/>
<path d="M728.7 1704.7 720 1760" stroke-width="2"/>
<path d="M734.8 1706.5 726.1 1760" stroke-width="2"/>
<path d="M2527.9 1265.4 2719.9 1476.7 2737.4 1500 2748.3 1514.1" stroke-width="2"/>
<path d="M2527.9 1282.8 2652.4 1421.1 2722.1 1500 2734.1 1513.2" stroke-width="2"/>
<path d="M2546.8 1280.2 2554.4 1275.2 2761.3 1500 2774.8 1514.5" stroke-width="2"/>
<path d="M2565.3 1280.7 2752.6 1485.4 2779.6 1515" stroke-width="2"/>
<path d="M2602.4 1327.5 2724.3 1461.4" stroke-width="2"/>
<path d="M2652.4 1422.2 2719.9 1495.2 2737.4 1513.7" stroke-width="2"/>
<path d="M2527.2 1324.2 2565.3 1324.2" stroke-width="2"/>
<path d="M2527.2 1470.1 2527.2 1208.8" stroke-width="2"/>
<path d="M2654.6 1423.3 2654.6 1510.4" stroke-width="3"/>
<path d="M2724.3 1467.9 2724.3 1513.2" stroke-width="2"/>
<path d="M2740.6 1481 2740.6 1514.1" stroke-width="2"/>
<circle cx="2545.7" cy="1332.5" r="7.2" stroke-width="2"/>
<circle cx="2545.7" cy="1332.5" r="4.1" stroke-width="2"/>
<circle cx="2605.6" cy="1379.1" r="7.2" stroke-width="2"/>
<circle cx="2605.6" cy="1379.1" r="4.1" stroke-width="2"/>
<circle cx="2645.9" cy="1463.6" r="7.2" stroke-width="2"/>
<circle cx="2645.9" cy="1463.6" r="4.1" stroke-width="2"/>
<path d="M 2549 1274.1 Q 2554.4 1268.7 2563.2 1272 L 2600.2 1306.8 Q 2606.7 1315.5 2601.3 1326.4 L 2595.8 1329.7 Q 2589.3 1329.7 2589.3 1324.2 L 2593.6 1317.7 L 2556.6 1280.7 L 2553.4 1282.8 Q 2546.8 1281.8 2549 1274.1 Z" stroke-width="2"/>
<path d="M2563.2 1278.5 2595.8 1311.1" stroke-width="2"/>
<path d="M2567.5 1276.3 2596.9 1305.7" stroke-width="2"/>
<path d="M2500 1208.8 2527.2 1208.8" stroke-width="2"/>
<path d="M 2531.6 1211 Q 2541.4 1203.4 2556.6 1204 L 2569.7 1204.4" stroke-width="2"/>
<rect x="2528.3" y="1212.1" width="20.7" height="7.6" stroke-width="2"/>
<path d="M2549 1212.1 2554.4 1224 2563.2 1224" stroke-width="2"/>
<rect x="2534.8" y="1225.1" width="19.6" height="7.6" fill="#000"/>
<rect x="2528.3" y="1219.7" width="6.5" height="26.1" stroke-width="2"/>
<path d="M2528.3 1245.8 2554.4 1253.4 2550.1 1267.6" stroke-width="2"/>
<rect x="2562.1" y="1204.4" width="9.8" height="19.6" stroke-width="2"/>
<rect x="2569.7" y="1200.1" width="8.7" height="4.4" fill="#000"/>
<path d="M2576.2 1201.2 2565.3 1267.6" stroke-width="2"/>
<path d="M2571.9 1202.3 2561 1267.6" stroke-width="2"/>
<rect x="2578.4" y="1202.3" width="7.6" height="7.6" stroke-width="2"/>
<rect x="2581.7" y="1209.9" width="21.8" height="15.2" fill="#000"/>
<rect x="2584.9" y="1214.2" width="15.2" height="2.2" stroke="none" fill="#fff"/>
<rect x="2587.1" y="1218.6" width="10.9" height="3.3" stroke="none" fill="#fff"/>
<rect x="2575.1" y="1227.3" width="32.7" height="49" rx="5.4" stroke-width="2"/>
<rect x="2571.9" y="1225.1" width="39.2" height="55.5" rx="6.5" stroke-width="2"/>
<path d="M2593.6 1228.4 2593.6 1276.3"/>
<rect x="2581.7" y="1250.2" width="20.7" height="14.2" fill="#000"/>
<rect x="2583.8" y="1255.6" width="9.8" height="2.2" stroke="none" fill="#fff"/>
<rect x="2595.8" y="1252.4" width="4.8" height="2.2" stroke="none" fill="#fff"/>
<rect x="2578.4" y="1264.3" width="24" height="5.4" fill="#000"/>
<path d="M 2605.6 1204.4 Q 2604.5 1192.5 2608.9 1191.8 Q 2612.2 1191.8 2613.2 1196.8 L 2618.7 1215.3" stroke-width="2"/>
<path d="M 2620.9 1204.4 Q 2620.9 1192.5 2625.2 1191.8 Q 2628.5 1191.8 2630.2 1196.8 L 2635 1215.3" stroke-width="2"/>
<path d="M2608.9 1196.8 2615.4 1215.3" stroke-width="2"/>
<path d="M2625.2 1196.8 2631.8 1215.3" stroke-width="2"/>
<rect x="2636.1" y="1206.6" width="5" height="17.4" stroke-width="2"/>
<path d="M2606.7 1204.4 2606.7 1224 2611.1 1224 2611.1 1280.7" stroke-width="2"/>
<path d="M2611.1 1219.7 2665.5 1219.7 2665.5 1225.1" stroke-width="2"/>
<rect x="2650.3" y="1219.3" width="15.2" height="5.9" fill="#000"/>
<path d="M2612.2 1225.1 2650.3 1225.1 2702.5 1236 2702.5 1239.3" stroke-width="2"/>
<path d="M2612.2 1229.5 2641.6 1229.5 2650.3 1237.1 2650.3 1245.8 2617.6 1280.7 2602.4 1282.8" stroke-width="2"/>
<path d="M2612.2 1233.8 2639.4 1233.8 2645.9 1239.3 2645.9 1243.6 2615.4 1276.3" stroke-width="2"/>
<path d="M2652.4 1225.1 2702.5 1236" stroke-width="2"/>
<path d="M2656.8 1230.6 2702.5 1239.3" stroke-width="2"/>
<rect x="2622" y="1237.1" width="21.8" height="17.4" stroke-width="2"/>
<circle cx="2630.2" cy="1245.4" r="4.4" stroke-width="3"/>
<rect x="2650.3" y="1239.3" width="10.9" height="13.1" stroke-width="2"/>
<circle cx="2655.7" cy="1245.8" r="2.6" stroke-width="3"/>
<path d="M2630.7 1250.2 2622 1267.6 2626.3 1280.7 2635 1285" stroke-width="2"/>
<path d="M2639.4 1252.4 2656.8 1254.5 2661.1 1265.4" stroke-width="2"/>
<path d="M 2639.4 1263.2 Q 2628.5 1272 2635 1285" stroke-width="3"/>
<path d="M 2644.8 1265.4 Q 2636.1 1274.1 2641.6 1282.8" stroke-width="2"/>
<circle cx="2646.3" cy="1268.7" r="4.8" stroke-width="2"/>
<rect x="2678.6" y="1239.3" width="22.9" height="29.4" stroke-width="2"/>
<path d="M2684 1239.3 2684 1267.6" stroke-width="2"/>
<path d="M2688.4 1239.3 2688.4 1267.6" stroke-width="2"/>
<path d="M2692.7 1239.3 2692.7 1267.6" stroke-width="2"/>
<path d="M2697.1 1239.3 2697.1 1267.6" stroke-width="2"/>
<rect x="2680.7" y="1258.9" width="6.5" height="6.5" fill="#000"/>
<rect x="2691.6" y="1256.7" width="6.5" height="10.9" fill="#000"/>
<path d="M2595.8 1295.9 2648.1 1283.9" stroke-width="2"/>
<path d="M2595.8 1295.9 2600.2 1285" stroke-width="2"/>
<path d="M2636.1 1285 2643.7 1295.9 2643.7 1346" stroke-width="2"/>
<path d="M2639.4 1285 2650.3 1289.4" stroke-width="2"/>
<path d="M2648.1 1272 2674.2 1264.3 2700.3 1269.3 2739.5 1278.5 2771.1 1404.8 2735.2 1414.6 2677.5 1400.9Z"/>
<path d="M2648.1 1285 2677.5 1400.9"/>
<path d="M2617.6 1328.6 2622 1327.5 2639.4 1343.8 2652.4 1346 2665.5 1363.4" stroke-width="2"/>
<path d="M2618.7 1331.8 2635 1346 2650.3 1349.3 2663.3 1367.8" stroke-width="2"/>
<path d="M 2656.8 1324.2 Q 2654.6 1335.1 2645.9 1337.3" stroke-width="2"/>
<rect x="2644.8" y="1337.7" width="7.6" height="7.2" fill="#000"/>
<path d="M2617.6 1341.6 2626.3 1339.5 2630.7 1348.2 2623 1351.4Z" stroke-width="2"/>
<path d="M2628.5 1349.3 2643.7 1364.5 2643.7 1354.7" stroke-width="2"/>
<path d="M2650.3 1367.8 2656.8 1365.6 2665.5 1376.5 2661.1 1380.8Z" fill="#000"/>
<rect x="2662.2" y="1367.8" width="6.5" height="13.1" stroke-width="2"/>
<path d="M2662.2 1374.3 2668.8 1374.3"/>
<path d="M2667.7 1354.7 2674.2 1389.5" stroke-width="2"/>
<path d="M2661.1 1380.8 2674.2 1386.3 2676.4 1398.3" stroke-width="2"/>
<path d="M 2792.9 1323.1 L 2816.9 1296.3 Q 2822.3 1292.6 2827.7 1296.3 L 2884.4 1346 Q 2886.5 1350.3 2881.1 1353 L 2859.3 1364.5 Q 2848.4 1366.7 2839.7 1362.3 L 2811.4 1335.1" stroke-width="7"/>
<path d="M 2796.6 1322 L 2796.6 1408.1 Q 2795.1 1430.9 2771.1 1440.7" stroke-width="7"/>
<path d="M 2811.8 1337.3 L 2811.8 1411.3 Q 2810.3 1440.7 2784.2 1451.6" stroke-width="7"/>
<path d="M2789.6 1317.7 2813.6 1315.5 2813.6 1341.6 2789.6 1330.7Z" stroke="none" fill="#000"/>
<path d="M2813.6 1315.5 2870.2 1365.6 2857.1 1365.6 2811.4 1337.3Z" stroke="none" fill="#000"/>
<path d="M2792.9 1378.7 2814.7 1378.7 2814.7 1388.5 2792.9 1388.5Z" stroke="none" fill="#000"/>
<path d="M2792.9 1359.1 2814.7 1359.1 2814.7 1364.5 2792.9 1364.5Z" stroke="none" fill="#000"/>
<circle cx="2822.3" cy="1310.1" r="9.1" stroke="none" fill="#000"/>
<path d="M2835.4 1317.7 2846.3 1315.5 2872.4 1339.5 2861.5 1348.2 2844.1 1346Z" stroke="none" fill="#fff"/>
<path d="M2831 1339.5 2857.1 1317.7" stroke-width="2"/>
<path d="M2767.9 1439.6 2783.1 1434.2 2787.5 1442.9 2772.2 1445.1Z" stroke="none" fill="#000"/>
<path d="M2783.1 1450.5 2798.3 1445.1 2800.5 1452.7 2785.3 1454.9Z" stroke="none" fill="#000"/>
<path d="M2838.6 1374.3 2859.3 1367.8 2868 1365.6 2893.1 1390.6 2883.3 1399.3 2835.4 1456 2813.6 1439.6" stroke-width="2"/>
<path d="M2859.3 1367.8 2885.5 1396.1" stroke-width="2"/>
<path d="M2839.7 1376.5 2861.5 1398.3 2870.2 1391.7" stroke-width="2"/>
<path d="M2868 1369.9 2880 1381.9" stroke-width="2"/>
<path d="M 2848.4 1376.5 Q 2850.6 1385.2 2859.3 1387.4" stroke-width="2"/>
<path d="M2861.5 1398.3 2813.6 1439.6" stroke-width="2"/>
<path d="M2770 1379.7 2791.8 1353.6" stroke-width="2"/>
<path d="M2773.3 1384.1 2791.8 1362.3" stroke-width="2"/>
<path d="M2816.9 1385.2 2836.5 1367.8" stroke-width="2"/>
<path d="M2816.9 1396.1 2837.5 1378.7" stroke-width="2"/>
<path d="M2770 1383 2791.8 1404.8" stroke-width="2"/>
<path d="M2767.9 1389.5 2791.8 1413.5" stroke-width="2"/>
<path d="M2761.3 1409.1 2780.9 1426.6" stroke-width="2"/>
<path d="M2765.7 1405.9 2785.3 1423.3" stroke-width="2"/>
<path d="M2752.6 1411.3 2761.3 1409.1 2772.2 1422.2 2764.6 1426.6 2752.6 1426.6Z" stroke-width="2"/>
<rect x="2754.8" y="1416.8" width="8.7" height="8.7" fill="#000"/>
<path d="M2811.4 1426.6 2833.2 1444 2846.3 1433.1 2835.4 1426.6" stroke-width="2"/>
<path d="M2800.5 1444 2813.6 1454.9 2822.3 1448.3" stroke-width="2"/>
<path d="M2789.6 1454.9 2835.4 1456" stroke-width="2"/>
<rect x="2835.4" y="1430.9" width="7.6" height="6.5" stroke-width="2"/>
<circle cx="2780.9" cy="1472.3" r="9.8" stroke-width="2"/>
<path d="M2693.8 1415.7 2704.7 1426.6 2724.3 1439.6" stroke-width="2"/>
<path d="M2698.2 1422.2 2709.1 1420 2717.8 1433.1Z" fill="#000"/>
<path d="M2700.3 1430.9 2709.1 1439.6 2715.6 1435.3" stroke-width="2"/>
<path d="M 2731.9 1435.3 Q 2730.8 1430.9 2735.2 1429.8 Q 2738.5 1430.5 2737.4 1434.2" stroke-width="2"/>
<path d="M2737.4 1433.1 2770 1435.3" stroke-width="2"/>
<path d="M2739.5 1439.6 2746.1 1433.1" stroke-width="2"/>
<rect x="2730.8" y="1448.3" width="20.7" height="13.1" rx="3" stroke-width="2"/>
<path d="M 2726.5 1441.8 Q 2722.1 1454.9 2735.2 1463.6" stroke-width="3"/>
<path d="M2713.4 1448.3 2724.3 1444 2728.7 1454.9 2717.8 1459.2Z" stroke-width="2"/>
<rect x="2714.5" y="1450.5" width="7.6" height="6.5" fill="#000"/>
<path d="M2743.9 1472.3 2767.9 1494.1" stroke-width="2"/>
<path d="M2739.5 1463.6 2772.2 1494.1" stroke-width="2"/>
<path d="M2800.5 1459.2 2800.5 1500" stroke-width="2"/>
<path d="M2811.4 1459.2 2815.8 1500" stroke-width="3"/>
<path d="M2804.9 1463.6 2804.9 1489.7" stroke-width="2"/>
<path d="M 2820.1 1461.4 Q 2817.5 1476.7 2825.6 1500" stroke-width="2"/>
<path d="M 2826.7 1461.4 Q 2824 1476.7 2832.1 1500" stroke-width="2"/>
<path d="M 2833.2 1461.4 Q 2830.6 1476.7 2838.6 1500" stroke-width="2"/>
<path d="M 2839.7 1461.4 Q 2837.1 1476.7 2845.2 1500" stroke-width="2"/>
<path d="M2789.6 1458.1 2857.1 1458.1 2868 1464.7" stroke-width="2"/>
<rect x="2848.4" y="1470.1" width="17.4" height="8.7" stroke-width="2"/>
<rect x="2850.6" y="1479.9" width="17.4" height="9.8" stroke-width="2"/>
<path d="M2865.9 1465.8 2874.6 1476.7 2883.3 1489.7" stroke-width="2"/>
<circle cx="2889.8" cy="1464.7" r="4.8" stroke-width="2"/>
<circle cx="2882.2" cy="1462.5" r="3.9" stroke-width="2"/>
<rect x="2876.7" y="1466.9" width="8.7" height="9.8" stroke-width="2"/>
<rect x="2875.7" y="1479.9" width="4.4" height="5.4" fill="#000"/>
<path d="M2894.2 1481 3000 1450.5" stroke-width="2"/>
<path d="M2898.5 1500 3000 1470.1" stroke-width="2"/>
<path d="M2791.8 1474.5 2800.5 1476.7" stroke-width="2"/>
<path d="M2999.9 1543 3014.1 1537.6 3206.8 1678.1 3203.6 1694.8 3222.1 1699.8 3204.7 1698.7 3191.6 1699.8" stroke-width="2"/>
<path d="M 2999.9 1543 Q 3010.8 1585.5 3047.9 1622.5 Q 3095.8 1663.9 3191.6 1699.8" stroke-width="2"/>
<path d="M 3004.3 1542 Q 3015.2 1583.3 3051.1 1619.3 Q 3097.9 1659.5 3193.8 1696.1" stroke-width="2"/>
<path d="M3001.7 1559.4 3001.7 1587.7"/>
<circle cx="3145.2" cy="1644.3" r="2.6" stroke-width="2"/>
<circle cx="3193.3" cy="1680.2" r="2.6" stroke-width="2"/>
<path d="M3203.6 1700.9 3206.8 1705.7 3210.1 1700.9" stroke-width="2"/>
<path d="M3058.7 1703.1 3078.3 1717.3 3172 1705.7 3191.6 1699.8" stroke-width="2"/>
<path d="M3095.8 1717.3 3102.3 1714 3172 1705.3" stroke-width="3"/>
<path d="M3084.9 1724.9 3172 1710.7" stroke-width="2"/>
<path d="M3063.1 1709.6 3078.3 1723.8 3084.9 1724.9" stroke-width="2"/>
<path d="M 3047.9 1618.2 Q 3040.2 1629.1 3040.2 1642.1 L 3082.7 1746.7" stroke-width="2"/>
<path d="M 3044.6 1622.5 Q 3043.5 1633.4 3044.6 1644.3 L 3086 1744.5" stroke-width="2"/>
<path d="M3032.6 1642.1 3040.2 1642.1" stroke-width="2"/>
<path d="M3058.7 1696.6 3069.6 1703.1 3089.2 1746.7" stroke-width="3"/>
<path d="M3056.6 1705.3 3063.1 1718.3" stroke-width="3"/>
<path d="M3067.5 1747.7 3072.9 1752.1 3084.9 1751 3172 1711.8" stroke-width="2"/>
<path d="M3065.3 1749.9 3069.6 1746.7" stroke-width="2"/>
<path d="M3080.5 1746.7 3169.8 1707.5" stroke-width="2"/>
<path d="M3004.3 1600.7 3010.8 1605.1 3030.4 1644.3 3004.3 1659.5" stroke-width="2"/>
<path d="M3006.5 1605.1 3026.1 1646.5" stroke-width="2"/>
<path d="M 3006.5 1600.7 Q 3017.4 1611.6 3021.7 1629.1" stroke-width="2"/>
<path d="M3014.1 1616 3019.5 1618.2" stroke-width="2"/>
<path d="M3017.4 1626.9 3023.9 1629.1" stroke-width="2"/>
<path d="M3019.5 1637.8 3027.2 1638.9" stroke-width="2"/>
<path d="M3004.3 1655.2 3008.7 1657.4" stroke-width="3"/>
<path d="M3032.6 1644.3 3004.3 1659.5" stroke-width="2"/>
<path d="M2962.9 1770 3060.9 1714" stroke-width="2"/>
<path d="M2971.6 1770 3063.1 1718.3" stroke-width="2"/>
<path d="M 2890 1483.2 L 2997.8 1452.2 Q 3010.8 1449.4 3016.3 1455.9 Q 3020.6 1463.6 3016.3 1473.4 L 3005.4 1493 Q 2999.9 1499.5 2994.5 1496.2 Q 2990.1 1493 2992.3 1487.5 L 3006.5 1463.6 L 2893.2 1496.2" stroke-width="2"/>
<path d="M2997.8 1485.3 3006.5 1466.8 2999.9 1463.6" stroke-width="2"/>
<path d="M2936.8 1525 2984.7 1478.4 3011.3 1505.4 2962.9 1551.1Z" stroke-width="2"/>
<path d="M2939 1501 2971.6 1478.4" stroke-width="2"/>
<path d="M2940.9 1499.1 2972.8 1478" stroke-width="2"/>
<path d="M2942.9 1497.1 2974 1477.6" stroke-width="2"/>
<path d="M2944.9 1495.1 2975.2 1477.2" stroke-width="2"/>
<path d="M2946.8 1493.2 2976.3 1476.8" stroke-width="2"/>
<path d="M2938.5 1507.1 2940.1 1500.6 2969.5 1478.4 2973.8 1479.2 2974.9 1485.3 2945.5 1508.2Z" stroke-width="2"/>
<path d="M2941.1 1506 2971.6 1483.2" stroke-width="3"/>
<path d="M2940.1 1502.3 2970.5 1480.5" stroke-width="2"/>
<path d="M2965.1 1548.5 3010.8 1516.9 3012.6 1523.4 2977.1 1552.8Z" stroke-width="2"/>
<path d="M2967.3 1545.2 3008.7 1515.8" stroke-width="3"/>
<path d="M2971.6 1550.7 3011.9 1520.6" stroke-width="2"/>
<path d="M2999.9 1498.4 3011.3 1505.4 3010.8 1516.9" stroke-width="2"/>
<circle cx="2950.9" cy="1539.3" r="6.1" stroke-width="2"/>
<path d="M 2932.4 1511.5 Q 2928.1 1518 2928.1 1533.2 L 2928.1 1542 Q 2932.4 1550.7 2945.5 1552.8 L 2962.9 1552.8" stroke-width="2"/>
<path d="M 2936.8 1513.6 Q 2933.5 1520.2 2933.5 1533.2 Q 2935.7 1546.3 2947.7 1548.5" stroke-width="2"/>
<path d="M2977.1 1552.8 2977.1 1587.7" stroke-width="2"/>
<path d="M2983.6 1552.8 2983.6 1568.1" stroke-width="2"/>
<path d="M 2864.9 1524.5 Q 2871.5 1511.5 2897.6 1510.4 Q 2915 1511.5 2923.7 1524.5" stroke-width="2"/>
<path d="M 2871.5 1528.9 Q 2878 1518 2897.6 1516.9 Q 2910.7 1518 2919.4 1527.8" stroke-width="2"/>
<path d="M 2878 1533.2 Q 2884.5 1524.5 2897.6 1523.4 Q 2908.5 1524.5 2915 1533.2" stroke-width="2"/>
<path d="M2919.4 1524.5 2930.3 1526.7" stroke-width="2"/>
<path d="M2882.4 1536.5 2999.9 1583.3" stroke-width="2"/>
<path d="M2880.2 1542 2997.8 1588.8" stroke-width="2"/>
<rect x="2882.4" y="1537.6" width="2.6" height="2.6" fill="#000"/>
<rect x="2886.8" y="1539.4" width="2.6" height="2.6" fill="#000"/>
<rect x="2891.3" y="1541.2" width="2.6" height="2.6" fill="#000"/>
<rect x="2895.7" y="1543" width="2.6" height="2.6" fill="#000"/>
<rect x="2900.2" y="1544.8" width="2.6" height="2.6" fill="#000"/>
<rect x="2904.7" y="1546.6" width="2.6" height="2.6" fill="#000"/>
<rect x="2909.1" y="1548.4" width="2.6" height="2.6" fill="#000"/>
<rect x="2913.6" y="1550.2" width="2.6" height="2.6" fill="#000"/>
<rect x="2918.1" y="1552.1" width="2.6" height="2.6" fill="#000"/>
<rect x="2922.5" y="1553.9" width="2.6" height="2.6" fill="#000"/>
<rect x="2927" y="1555.7" width="2.6" height="2.6" fill="#000"/>
<rect x="2931.5" y="1557.5" width="2.6" height="2.6" fill="#000"/>
<rect x="2935.9" y="1559.3" width="2.6" height="2.6" fill="#000"/>
<rect x="2940.4" y="1561.1" width="2.6" height="2.6" fill="#000"/>
<rect x="2944.9" y="1562.9" width="2.6" height="2.6" fill="#000"/>
<rect x="2949.3" y="1564.7" width="2.6" height="2.6" fill="#000"/>
<rect x="2953.8" y="1566.5" width="2.6" height="2.6" fill="#000"/>
<rect x="2958.2" y="1568.3" width="2.6" height="2.6" fill="#000"/>
<rect x="2962.7" y="1570.1" width="2.6" height="2.6" fill="#000"/>
<rect x="2967.2" y="1571.9" width="2.6" height="2.6" fill="#000"/>
<rect x="2971.6" y="1573.7" width="2.6" height="2.6" fill="#000"/>
<rect x="2976.1" y="1575.6" width="2.6" height="2.6" fill="#000"/>
<rect x="2980.6" y="1577.4" width="2.6" height="2.6" fill="#000"/>
<rect x="2985" y="1579.2" width="2.6" height="2.6" fill="#000"/>
<rect x="2989.5" y="1581" width="2.6" height="2.6" fill="#000"/>
<rect x="2994" y="1582.8" width="2.6" height="2.6" fill="#000"/>
<path d="M2888.9 1530 2915 1538.7 2976 1570.3 3002.1 1579" stroke-width="2"/>
<path d="M2891.1 1533.2 2902 1530 2919.4 1542" stroke-width="2"/>
<path d="M2962.9 1559.4 2976 1559.4 3002.1 1572.4" stroke-width="2"/>
<path d="M 2780 1428.7 Q 2806.1 1426.5 2808.3 1420" stroke-width="4"/>
<path d="M 2780 1452.7 Q 2793.1 1444 2806.1 1428.7" stroke-width="2"/>
<path d="M2810.5 1430.9 2862.8 1420" stroke-width="2"/>
<path d="M2834.4 1452.7 2862.8 1420" stroke-width="2"/>
<path d="M2817 1433.1 2830.1 1435.2 2830.1 1448.3 2814.8 1447.2Z" stroke-width="2"/>
<path d="M2830.1 1428.7 2843.2 1430.9 2843.2 1441.8 2827.9 1440.7Z" stroke-width="2"/>
<path d="M2806.1 1444 2819.2 1446.1 2819.2 1457 2804 1455.9Z" stroke-width="2"/>
<path d="M 2843.2 1463.6 Q 2849.7 1458.1 2856.2 1460.3 L 2864.9 1470.1 L 2875.8 1502.8 Q 2873.6 1513.6 2862.8 1515.8 Q 2854 1513.6 2851.9 1507.1 L 2841 1476.6 Q 2839.9 1467.9 2843.2 1463.6 Z" stroke-width="2"/>
<path d="M 2849.7 1471.2 L 2864.9 1470.1 L 2871.5 1491.9 L 2864.9 1506 L 2858.4 1502.8 Z" stroke-width="2"/>
<path d="M2853 1481 2867.1 1478.8" stroke-width="2"/>
<path d="M2856.2 1491.9 2870.4 1488.6" stroke-width="2"/>
<path d="M 2812.7 1462.5 Q 2811.6 1485.3 2823.6 1511.5" stroke-width="2"/>
<path d="M 2821.4 1462.5 Q 2820.3 1485.3 2832.3 1511.5" stroke-width="2"/>
<path d="M 2829 1462.5 Q 2827.9 1485.3 2839.9 1511.5" stroke-width="2"/>
<path d="M 2835.5 1462.5 Q 2834.4 1485.3 2846.4 1511.5" stroke-width="2"/>
<path d="M2810.5 1461.4 2845.3 1460.3" stroke-width="2"/>
<rect x="2866" y="1463.6" width="16.3" height="19.6" rx="2.2" stroke-width="2"/>
<circle cx="2890" cy="1465.7" r="5.4" stroke-width="2"/>
<rect x="2878" y="1460.3" width="8.7" height="6.5" stroke-width="2"/>
<rect x="2874.7" y="1479.9" width="4.4" height="5.4" fill="#000"/>
<rect x="2882.4" y="1475.5" width="4.4" height="5.4" fill="#000"/>
<path d="M2875.8 1485.3 2888.9 1496.2 2893.2 1496.2" stroke-width="2"/>
<path d="M 2780 1461.4 Q 2790.9 1472.3 2784.4 1483.2" stroke-width="3"/>
<circle cx="2784.4" cy="1472.3" r="4.8" stroke-width="2"/>
<path d="M2780 1485.3 2808.3 1485.3 2808.3 1511.5" stroke-width="2"/>
<path d="M2793.1 1496.2 2801.8 1496.2 2801.8 1502.8 2793.1 1502.8Z" stroke-width="2"/>
<path d="M2797.4 1485.3 2797.4 1511.5" stroke-width="3"/>
<path d="M2780 1507.1 2793.1 1507.1" stroke-width="3"/>
<path d="M2780 1519.1 2856.2 1522.4" stroke-width="4"/>
<path d="M2780 1515.8 2823.6 1515.8" stroke-width="2"/>
<path d="M2812.7 1522.4 2856.2 1524.5 2856.2 1538.7" stroke-width="2"/>
<path d="M2858.4 1522.4 2867.1 1535.4 2882.4 1538.7" stroke-width="2"/>
<rect x="2868.2" y="1531.1" width="5.4" height="4.4" stroke-width="2"/>
<circle cx="2974.5" cy="1511.9" r="9.8" stroke="none" fill="#000"/>
<circle cx="3089.7" cy="1628" r="10.2" stroke="none" fill="#000"/>
<path d="M1833.3 1028.5 1833.3 1159.1" stroke-width="2"/>
<path d="M1843.7 1028.5 1843.7 1159.1" stroke-width="2"/>
<path d="M1833.3 1038.9 1843.7 1038.9" stroke-width="2"/>
<path d="M 1754.2 1012.1 Q 1757.5 1010.2 1761.4 1010.8 L 1869.9 1091.2 L 1893.4 1110.8 L 1888.2 1118.6 L 1865.9 1102.9 L 1756.2 1021.3 Q 1752.9 1018 1754.2 1012.1 Z" stroke-width="2" fill="#fff"/>
<path d="M1865.9 1102.9 1869.9 1091.2" stroke-width="2"/>
<path d="M1869.9 1093.8 1876.4 1090.5 1889.5 1100.3 1889.5 1108.2" stroke-width="2"/>
<circle cx="1742.5" cy="965.7" r="10.2" stroke-width="2"/>
<circle cx="1742.5" cy="965.7" r="6.5" stroke-width="4"/>
<circle cx="1742.5" cy="965.7" r="2.9" stroke-width="2"/>
<circle cx="1777.1" cy="965.7" r="10.2" stroke-width="2"/>
<circle cx="1777.1" cy="965.7" r="6.5" stroke-width="4"/>
<circle cx="1777.1" cy="965.7" r="2.9" stroke-width="2"/>
<circle cx="1741.8" cy="996.4" r="10.2" stroke-width="2"/>
<circle cx="1741.8" cy="996.4" r="6.5" stroke-width="4"/>
<circle cx="1741.8" cy="996.4" r="2.9" stroke-width="2"/>
<circle cx="1777.1" cy="996.4" r="10.2" stroke-width="2"/>
<circle cx="1777.1" cy="996.4" r="6.5" stroke-width="4"/>
<circle cx="1777.1" cy="996.4" r="2.9" stroke-width="2"/>
<rect x="1753.6" y="973.6" width="11.1" height="37.9" stroke-width="2" fill="#fff"/>
<rect x="1753.6" y="957.9" width="11.8" height="7.8" fill="#000"/>
<rect x="1757.5" y="965.7" width="4.6" height="7.8" stroke-width="2"/>
<rect x="1749.7" y="998.4" width="18.3" height="3.9" fill="#000"/>
<rect x="1756.2" y="999.1" width="6.5" height="2.6" stroke="none" fill="#fff"/>
<path d="M1735.3 959.2 1737.2 950.7 1748.3 950.7 1749.7 959.2" stroke-width="2"/>
<path d="M1740.5 950.7 1740.5 955.9" stroke-width="2"/>
<path d="M1744.4 950.7 1744.4 955.9" stroke-width="2"/>
<path d="M1771.2 959.2 1773.2 950.7 1784.3 950.7 1785.6 959.2" stroke-width="2"/>
<path d="M1776.4 950.7 1776.4 955.9" stroke-width="2"/>
<path d="M1780.4 950.7 1780.4 955.9" stroke-width="2"/>
<path d="M1735.3 987.9 1737.9 981.4 1747.7 981.4 1749.7 987.9" stroke-width="2"/>
<path d="M1771.2 987.9 1773.8 981.4 1783.6 981.4 1785.6 987.9" stroke-width="2"/>
<rect x="1734.2" y="974.9" width="19.3" height="5.2" stroke-width="2"/>
<rect x="1764.7" y="974.9" width="20.9" height="5.2" stroke-width="2"/>
<rect x="1734.2" y="1004.9" width="19.3" height="5.2" stroke-width="2"/>
<rect x="1764.7" y="1004.9" width="20.9" height="5.2" stroke-width="2"/>
<path d="M 1815 972.3 Q 1792.8 978.8 1792.8 999.7 Q 1793.4 1020.6 1815 1027.1" stroke-width="2"/>
<path d="M1815 969.7 1843.1 969.7 1847.7 974.9" stroke-width="3"/>
<ellipse cx="1839.2" cy="999.7" rx="11.8" ry="28.1" stroke-width="3"/>
<ellipse cx="1839.2" cy="999.1" rx="8.1" ry="23.5" stroke-width="2"/>
<path d="M 1830.7 971 Q 1825.4 998.4 1830.7 1027.1" stroke-width="2"/>
<path d="M1813.7 1027.8 1843.7 1027.8" stroke-width="2"/>
<rect x="1810.4" y="972.3" width="15" height="10.5" fill="#000"/>
<rect x="1816.3" y="974.2" width="5.2" height="3.3" stroke="none" fill="#fff"/>
<rect x="1818.3" y="982.7" width="5.9" height="5.2" stroke-width="2"/>
<path d="M1816.9 987.9 1816.9 1011.5" stroke-width="3"/>
<rect x="1809.8" y="1015.4" width="15.7" height="11.8" fill="#000"/>
<rect x="1815" y="1021.9" width="5.2" height="2.6" stroke="none" fill="#fff"/>
<rect x="1818.3" y="1010.2" width="5.9" height="5.9" stroke-width="2"/>
<rect x="1825.4" y="997.1" width="3.3" height="4.6" fill="#000"/>
<path d="M2250 988 2264.8 988 2267.4 989.7 2372 989.7"/>
<path d="M2267.4 989.7 2267.4 1004.5"/>
<rect x="2286.2" y="996.3" width="18.6" height="4.4" stroke-width="2"/>
<path d="M2286.2 998.4 2304.9 998.4"/>
<path d="M2293.6 1003.3 2372 1003.3" stroke-width="2"/>
<path d="M2260.5 1004.5 2272.6 1004.5 2272.6 1016.4 2388.5 1016.4"/>
<path d="M2250 1004.5 2260.5 1006.3 2262.2 1018.5 2270.9 1017.6 2272.6 1016.4"/>
<rect x="2260.5" y="1005.4" width="4.4" height="13.1" stroke-width="2"/>
<rect x="2372" y="988" width="17.4" height="14.8" stroke-width="2"/>
<rect x="2375.8" y="989.2" width="11.8" height="10.1"/>
<rect x="2370.2" y="1004.5" width="19.2" height="11.8" stroke-width="2"/>
<rect x="2378" y="1006.6" width="6.1" height="5.7" stroke-width="2"/>
<path d="M2372 1001 2389.4 1001" stroke-width="2"/>
<path d="M2389.4 990.8 2490.4 990.8" stroke-width="2"/>
<path d="M2389.4 1001.4 2490.4 1001.4"/>
<rect x="2401.6" y="989.7" width="6.1" height="13.4" stroke-width="2"/>
<rect x="2491.3" y="968.3" width="6.1" height="36.2" stroke-width="2"/>
<rect x="2492.2" y="969.7" width="4.4" height="10.5" fill="#000"/>
<rect x="2489" y="986.2" width="2.3" height="4.4"/>
<path d="M2497.4 990.6 2520.9 990.6 2521.8 991.8 2548.3 991.8"/>
<path d="M2497.4 1001.4 2548.3 1001.4"/>
<rect x="2548.3" y="989.7" width="19.7" height="13.4" stroke-width="2"/>
<rect x="2548.3" y="992.3" width="4.9" height="8.7" fill="#000"/>
<path d="M2561.8 989.7 2561.8 1003.1" stroke-width="2"/>
<path d="M2564.5 989.7 2564.5 1003.1"/>
<path d="M2554 994.9 2561.8 994.9"/>
<path d="M2554 998.4 2561.8 998.4"/>
<path d="M2567.9 990.6 2582.8 990.6 2583.6 989.2 2597.6 989.2 2597.6 987.5 2599.7 987.5 2599.7 1004.5 2592.3 1004.2 2592.3 1003.1 2575.8 1002.8 2575.8 1001.4 2567.9 1001.4"/>
<rect x="2341.5" y="962.7" width="40.9" height="9.1" rx="1.4" stroke-width="2"/>
<rect x="2344.9" y="965.3" width="27" height="4.4"/>
<rect x="2349.3" y="970.6" width="22.6" height="2.6"/>
<rect x="2372" y="963.6" width="10.5" height="8.7" stroke-width="2"/>
<rect x="2382.4" y="964.8" width="16.6" height="8.4" stroke-width="2"/>
<rect x="2389.4" y="967.1" width="8.7" height="4.4" fill="#000"/>
<path d="M2389.4 973.2 2389.4 990.6"/>
<path d="M2392.9 973.2 2392.9 990.6"/>
<path d="M2398.1 973.2 2403.3 997.6"/>
<path d="M2396.3 976.7 2391.1 994.1"/>
<path d="M1847.1 1159.7 2130 1173.7 2190.1 1176.1 2338.4 1183.7 2386.5 1185.7"/>
<path d="M1851.1 1165.1 2130 1183.7 2386.5 1197.2 2470.6 1201.2"/>
<path d="M1849.5 1162.5 2069.9 1175.1 2250.2 1184.5 2386.5 1192.1"/>
<path d="M2226.2 1172.1 2390.5 1181.1 2466.6 1178.5"/>
<path d="M 2400.5 1180.1 L 2480.6 1182.5 Q 2490.6 1183.7 2495.7 1191.1 L 2508.7 1209.2"/>
<path d="M 2402.5 1187.1 L 2476.6 1190.1 Q 2483.6 1191.1 2487.6 1196.2 L 2498.7 1209.2"/>
<path d="M2478.6 1192.1 2462.6 1209.2"/>
<path d="M2470.6 1201.2 2475 1209.2"/>
<path d="M2482.6 1194.2 2494.7 1208.2" stroke-width="2"/>
<rect x="2139" y="1148.1" width="11" height="24"/>
<rect x="2142.4" y="1157.1" width="3.2" height="3.4" fill="#000"/>
<rect x="2150" y="1148.1" width="23" height="22"/>
<rect x="2161.1" y="1145.7" width="14" height="2.4" fill="#000"/>
<path d="M 2176.1 1164.1 L 2176.1 1142.1 L 2180.1 1132 L 2189.1 1131 L 2189.1 1164.1" stroke-width="2"/>
<path d="M 2180.1 1163.1 L 2180.1 1144.1 L 2182.5 1138.1 L 2185.7 1138.1 L 2185.7 1163.1"/>
<rect x="2166.1" y="1164.1" width="22" height="11"/>
<path d="M2188.1 1153.1 2210.1 1153.1 2212.1 1154.5 2228.2 1154.5" stroke-width="2"/>
<path d="M2188.1 1170.1 2228.2 1170.1"/>
<rect x="2190.1" y="1168.1" width="22" height="8" stroke-width="2"/>
<rect x="2214.2" y="1167.1" width="12" height="10"/>
<path d="M2223.2 1167.1 2223.2 1177.1"/>
<path d="M2246.2 1156.1 2270.3 1156.1" stroke-width="2"/>
<path d="M2246.2 1170.1 2270.3 1170.1" stroke-width="2"/>
<rect x="2270.3" y="1155.1" width="46.1" height="15" stroke-width="2"/>
<rect x="2271.3" y="1163.1" width="40.1" height="7" stroke-width="2"/>
<rect x="2270.3" y="1155.1" width="12" height="7.4" fill="#000"/>
<rect x="2274.7" y="1157.1" width="4.6" height="3.4" stroke="none" fill="#fff"/>
<path d="M2284.3 1170.1 2310.3 1172.1 2318.3 1174.1" stroke-width="2"/>
<rect x="2320.3" y="1155.1" width="42.1" height="21" stroke-width="2"/>
<rect x="2322.3" y="1166.1" width="10" height="8" stroke-width="2"/>
<path d="M2332.4 1157.1 2338.4 1174.1" stroke-width="2"/>
<ellipse cx="2347.4" cy="1163.7" rx="10.4" ry="9" fill="#000"/>
<rect x="2352.4" y="1170.1" width="7" height="6" fill="#000"/>
<path d="M2362.4 1160.1 2374.4 1163.1 2392.5 1172.1 2392.5 1178.1 2377.4 1178.1 2376.4 1174.1 2362.4 1168.1Z" fill="#000"/>
<rect x="2392.5" y="1170.1" width="74.1" height="8.4"/>
<path d="M2392.5 1173.7 2422.5 1173.7 2424.5 1175.7 2466.6 1175.7"/>
<rect x="2426.5" y="1176.1" width="14" height="4.4" fill="#000"/>
<path d="M2400.5 1170.1 2414.5 1170.1" stroke-width="2"/>
<circle cx="2236.6" cy="1161.7" r="9.4" stroke="none" fill="#000"/>
<circle cx="2394.1" cy="1189.7" r="9.4" stroke="none" fill="#000"/>
<path d="M2530.7 1209.2 2538.7 1204.2 2570.8 1203.2 2573.8 1200.2 2578.8 1201.2 2579.8 1209.2" stroke-width="2"/>
<rect x="2557.8" y="1204.2" width="7" height="20" stroke-width="2"/>
<rect x="2564.8" y="1206.2" width="6" height="8" fill="#000"/>
<path d="M2528.7 1218.2 2548.8 1218.2 2552.8 1224.2"/>
<path d="M2528.7 1224.2 2554.8 1230.2"/>
<rect x="2536.7" y="1227.2" width="22" height="5" fill="#000"/>
<path d="M2572.8 1202.2 2566.8 1240" stroke-width="2"/>
<path d="M2578.8 1204.2 2573.8 1240" stroke-width="2"/>
<rect x="2580.8" y="1210.2" width="9.2" height="8" stroke-width="2"/>
</g>
<g class="g">
<path d="M399.2 939.8 490.2 939.8" stroke-width="2"/>
<path d="M490.2 939.8 815.2 1144.1" stroke-width="2"/>
<circle cx="815.2" cy="1144.1" r="9.5" stroke="none" fill="#000"/>
<path d="M377 1077.4 489.4 1077.4" stroke-width="2"/>
<path d="M489.4 1077.4 677 1296"/>
<path d="M377 1229.4 489.4 1229.4"/>
<path d="M489.4 1229.4 655 1310.5"/>
<path d="M1548 610 1650.5 610" stroke-width="2"/>
<path d="M1650.5 610 1981 1085" stroke-width="2"/>
<circle cx="1981" cy="1085" r="9.5" stroke="none" fill="#000"/>
<path d="M1762.4 610 1876.1 610" stroke-width="2"/>
<path d="M1876.1 610 2059 1118" stroke-width="2"/>
<path d="M2338.3 610 2448.7 610" stroke-width="2"/>
<path d="M2338.3 610 2236.3 1161.3"/>
<circle cx="2236.3" cy="1161.3" r="9.5" stroke="none" fill="#000"/>
<path d="M2492.3 610 2604.8 610" stroke-width="2"/>
<path d="M2492.3 610 2348.2 1162"/>
<circle cx="2348.2" cy="1162" r="9.5" stroke="none" fill="#000"/>
<path d="M2663.6 610 2778.5 610" stroke-width="2"/>
<path d="M2663.6 610 2393.9 1189.4"/>
<circle cx="2393.9" cy="1189.4" r="9.5" stroke="none" fill="#000"/>
<path d="M3005.9 784 3118.8 784" stroke-width="2"/>
<path d="M3005.9 784 2822.3 1310" stroke-width="2"/>
<path d="M3109.6 1019.2 3222.8 1019.2"/>
<path d="M3109.6 1019.2 2855 1318"/>
<path d="M3151.1 1911.4 3245.2 1911.4"/>
<path d="M3151.1 1911.4 3089.7 1628"/>
<path d="M3007.4 2115.2 3101.1 2115.2"/>
<path d="M3007.4 2115.2 2974.4 1511.9"/>
<path d="M2625.1 2115.2 2716.6 2115.2"/>
<path d="M2625.1 2115.2 2313.1 1488.2"/>
<circle cx="2313.1" cy="1488.2" r="9.5" stroke="none" fill="#000"/>
<path d="M1185 2115.2 1280.5 2115.2"/>
<path d="M1280.5 2115.2 1338.5 1971"/>
<path d="M939 2115.2 1024.4 2115.2"/>
<path d="M1024.4 2115.2 1174.2 1909.8"/>
<circle cx="1174.2" cy="1909.8" r="9.5" stroke="none" fill="#000"/>
<rect x="1329.5" y="1962" width="18" height="18" fill="#000"/>
</g>
<g opacity="0.999">
<text class="num" text-anchor="middle" transform="translate(442.8 928) skewX(-15) scale(0.75 1)" x="0" y="0">5</text>
<text class="num" text-anchor="middle" transform="translate(432.5 1066) skewX(-15) scale(0.75 1)" x="0" y="0">18</text>
<text class="num" text-anchor="middle" transform="translate(433.6 1216.7) skewX(-15) scale(0.75 1)" x="0" y="0">19</text>
<text class="num" text-anchor="middle" transform="translate(1601.1 595.7) skewX(-15) scale(0.75 1)" x="0" y="0">11</text>
<text class="num" text-anchor="middle" transform="translate(1821.3 595.7) skewX(-15) scale(0.75 1)" x="0" y="0">12</text>
<text class="num" text-anchor="middle" transform="translate(2393.3 595.7) skewX(-15) scale(0.75 1)" x="0" y="0">13</text>
<text class="num" text-anchor="middle" transform="translate(2545.5 595.7) skewX(-15) scale(0.75 1)" x="0" y="0">14</text>
<text class="num" text-anchor="middle" transform="translate(2722.6 595.7) skewX(-15) scale(0.75 1)" x="0" y="0">10</text>
<text class="num" text-anchor="middle" transform="translate(3060.4 770.4) skewX(-15) scale(0.75 1)" x="0" y="0">16</text>
<text class="num" text-anchor="middle" transform="translate(3168.9 1007.4) skewX(-15) scale(0.75 1)" x="0" y="0">17</text>
<text class="num" text-anchor="middle" transform="translate(3194.2 1899.1) skewX(-15) scale(0.75 1)" x="0" y="0">9</text>
<text class="num" text-anchor="middle" transform="translate(3046.4 2103.5) skewX(-15) scale(0.75 1)" x="0" y="0">4</text>
<text class="num" text-anchor="middle" transform="translate(2666.2 2103.5) skewX(-15) scale(0.75 1)" x="0" y="0">3</text>
<text class="num" text-anchor="middle" transform="translate(1230.3 2103.2) skewX(-15) scale(0.75 1)" x="0" y="0">2</text>
<text class="num" text-anchor="middle" transform="translate(982.6 2103.2) skewX(-15) scale(0.75 1)" x="0" y="0">1</text>
<text class="cap" x="1725.5" y="2186.5" letter-spacing="0.6">Фиг. 3</text>
</g>
</svg>
</body>
</html>
